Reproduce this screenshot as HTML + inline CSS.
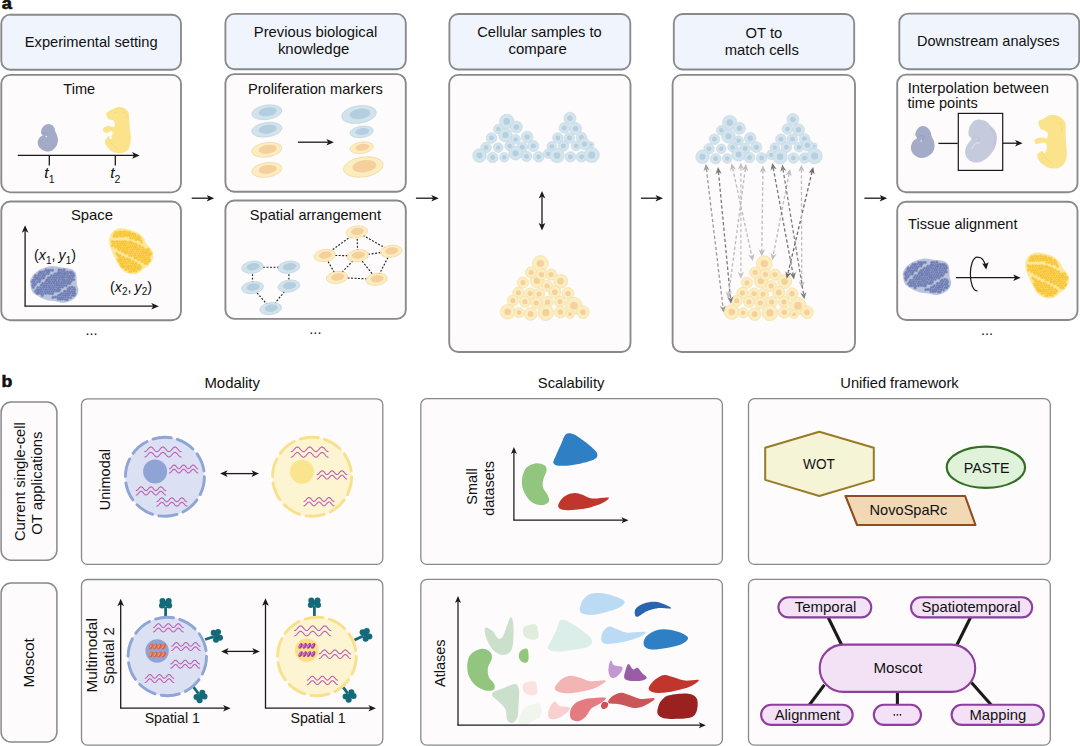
<!DOCTYPE html>
<html><head><meta charset="utf-8"><title>Figure</title>
<style>
html,body{margin:0;padding:0;background:#ffffff;}
body{width:1080px;height:746px;overflow:hidden;font-family:"Liberation Sans",sans-serif;}
svg{display:block;}
svg text{font-family:"Liberation Sans",sans-serif;fill:#111;}
</style></head><body>
<svg width="1080" height="746" viewBox="0 0 1080 746">
<defs>
<pattern id="pb" width="3.2" height="3.2" patternUnits="userSpaceOnUse" patternTransform="rotate(20)"><rect width="3.2" height="3.2" fill="#8b98c2"/><circle cx="1.6" cy="1.6" r="1.25" fill="#6373ab"/></pattern>
<pattern id="py" width="3.2" height="3.2" patternUnits="userSpaceOnUse" patternTransform="rotate(20)"><rect width="3.2" height="3.2" fill="#f9d670"/><circle cx="1.6" cy="1.6" r="1.25" fill="#f4bd2c"/></pattern>
</defs>
<rect width="1080" height="746" fill="#ffffff"/>

<text x="1.7" y="8.7" font-size="16.6" font-weight="bold" stroke="#111" stroke-width="0.6" textLength="10.2" lengthAdjust="spacingAndGlyphs">a</text>
<text x="1.6" y="386.5" font-size="16.6" font-weight="bold" stroke="#111" stroke-width="0.6" textLength="10.8" lengthAdjust="spacingAndGlyphs">b</text>
<rect x="1.3" y="14.7" width="179.7" height="55.1" rx="9" ry="9" fill="#f0f4fc" stroke="#87898b" stroke-width="1.85"/>
<rect x="225.4" y="13.9" width="180.4" height="55.3" rx="9" ry="9" fill="#f0f4fc" stroke="#87898b" stroke-width="1.85"/>
<rect x="449.4" y="14.0" width="180.9" height="55.5" rx="9" ry="9" fill="#f0f4fc" stroke="#87898b" stroke-width="1.85"/>
<rect x="673.8" y="14.0" width="180.4" height="55.5" rx="9" ry="9" fill="#f0f4fc" stroke="#87898b" stroke-width="1.85"/>
<rect x="899.3" y="13.6" width="179.9" height="55.6" rx="9" ry="9" fill="#f0f4fc" stroke="#87898b" stroke-width="1.85"/>
<rect x="1.3" y="74.8" width="179.7" height="117.5" rx="9" ry="9" fill="#fdfbfb" stroke="#87898b" stroke-width="1.85"/>
<rect x="1.3" y="201.5" width="179.7" height="118.7" rx="9" ry="9" fill="#fdfbfb" stroke="#87898b" stroke-width="1.85"/>
<rect x="225.4" y="74.1" width="180.4" height="117.7" rx="9" ry="9" fill="#fdfbfb" stroke="#87898b" stroke-width="1.85"/>
<rect x="225.4" y="200.5" width="180.4" height="118.3" rx="9" ry="9" fill="#fdfbfb" stroke="#87898b" stroke-width="1.85"/>
<rect x="449.2" y="74.9" width="181.3" height="277.1" rx="9" ry="9" fill="#fdfbfb" stroke="#87898b" stroke-width="1.85"/>
<rect x="672.6" y="74.9" width="182.4" height="277.1" rx="9" ry="9" fill="#fdfbfb" stroke="#87898b" stroke-width="1.85"/>
<rect x="897.2" y="74.6" width="180.3" height="117.7" rx="9" ry="9" fill="#fdfbfb" stroke="#87898b" stroke-width="1.85"/>
<rect x="897.2" y="201.7" width="180.3" height="118.3" rx="9" ry="9" fill="#fdfbfb" stroke="#87898b" stroke-width="1.85"/>
<text x="91.2" y="47.3" text-anchor="middle" font-size="14.5" textLength="132.8" lengthAdjust="spacingAndGlyphs" >Experimental setting</text>
<text x="315.5" y="37.2" text-anchor="middle" font-size="14.5" textLength="123.5" lengthAdjust="spacingAndGlyphs" >Previous biological</text>
<text x="313.6" y="53.8" text-anchor="middle" font-size="14.5" textLength="71.4" lengthAdjust="spacingAndGlyphs" >knowledge</text>
<text x="539.5" y="37.4" text-anchor="middle" font-size="14.5" textLength="124.4" lengthAdjust="spacingAndGlyphs" >Cellular samples to</text>
<text x="537.6" y="53.8" text-anchor="middle" font-size="14.5" textLength="58.3" lengthAdjust="spacingAndGlyphs" >compare</text>
<text x="763.9" y="37.7" text-anchor="middle" font-size="14.5" textLength="36.7" lengthAdjust="spacingAndGlyphs" >OT to</text>
<text x="761.8" y="54.7" text-anchor="middle" font-size="14.5" textLength="74.0" lengthAdjust="spacingAndGlyphs" >match cells</text>
<text x="988.3" y="46.2" text-anchor="middle" font-size="14.5" textLength="142.5" lengthAdjust="spacingAndGlyphs" >Downstream analyses</text>
<line x1="191.70" y1="198.20" x2="208.95" y2="198.20" stroke="#1a1a1a" stroke-width="1.3"/>
<path d="M214.20,198.20 L206.70,201.50 L208.57,198.20 L206.70,194.90 Z" fill="#1a1a1a"/>
<line x1="415.90" y1="198.20" x2="433.55" y2="198.20" stroke="#1a1a1a" stroke-width="1.3"/>
<path d="M438.80,198.20 L431.30,201.50 L433.18,198.20 L431.30,194.90 Z" fill="#1a1a1a"/>
<line x1="640.90" y1="198.20" x2="657.75" y2="198.20" stroke="#1a1a1a" stroke-width="1.3"/>
<path d="M663.00,198.20 L655.50,201.50 L657.38,198.20 L655.50,194.90 Z" fill="#1a1a1a"/>
<line x1="864.40" y1="198.20" x2="881.95" y2="198.20" stroke="#1a1a1a" stroke-width="1.3"/>
<path d="M887.20,198.20 L879.70,201.50 L881.58,198.20 L879.70,194.90 Z" fill="#1a1a1a"/>
<text x="79.2" y="93.8" text-anchor="middle" font-size="14.5" textLength="31.8" lengthAdjust="spacingAndGlyphs" >Time</text>
<line x1="17.80" y1="155.40" x2="134.35" y2="155.40" stroke="#1a1a1a" stroke-width="1.3"/>
<path d="M139.60,155.40 L132.10,158.70 L133.97,155.40 L132.10,152.10 Z" fill="#1a1a1a"/>
<line x1="49.3" y1="155.4" x2="49.3" y2="165.6" stroke="#1a1a1a" stroke-width="1.3"/>
<line x1="115.3" y1="155.4" x2="115.3" y2="165.6" stroke="#1a1a1a" stroke-width="1.3"/>
<text x="49.4" y="178.4" font-size="15.5" text-anchor="middle"><tspan font-style="italic">t</tspan><tspan font-size="10.5" dy="4.2">1</tspan></text>
<text x="115.3" y="178.4" font-size="15.5" text-anchor="middle"><tspan font-style="italic">t</tspan><tspan font-size="10.5" dy="4.2">2</tspan></text>
<path d="M48.33,123.94 C49.61,123.85 50.88,124.28 51.90,124.95 C52.92,125.63 53.88,126.91 54.44,128.01 C55.01,129.11 54.84,130.39 55.26,131.57 C55.68,132.76 56.53,133.70 56.99,135.14 C57.45,136.58 58.09,138.45 58.01,140.23 C57.92,142.01 57.33,144.22 56.48,145.83 C55.63,147.45 54.36,148.97 52.92,149.91 C51.47,150.84 49.61,151.44 47.82,151.44 C46.04,151.44 43.75,150.76 42.22,149.91 C40.69,149.06 39.42,147.62 38.66,146.34 C37.89,145.07 37.64,143.54 37.64,142.27 C37.64,141.00 38.06,139.72 38.66,138.70 C39.25,137.69 40.52,136.75 41.20,136.16 C41.88,135.56 42.77,135.65 42.73,135.14 C42.70,134.63 41.17,134.12 41.00,133.10 C40.83,132.08 41.17,130.30 41.71,129.03 C42.26,127.76 43.16,126.31 44.26,125.46 C45.36,124.61 47.06,124.02 48.33,123.94 Z" fill="#a4abc9" />
<path d="M119.63,106.93 C121.41,107.01 123.71,107.61 125.23,108.66 C126.76,109.71 128.12,111.29 128.80,113.24 C129.48,115.19 129.14,117.82 129.31,120.37 C129.48,122.92 129.56,125.80 129.82,128.52 C130.07,131.24 130.75,134.12 130.84,136.67 C130.92,139.21 130.84,141.59 130.33,143.80 C129.82,146.00 129.22,148.35 127.78,149.91 C126.34,151.47 123.88,152.74 121.67,153.17 C119.46,153.59 116.58,153.08 114.54,152.45 C112.50,151.83 110.89,150.67 109.45,149.40 C108.00,148.13 106.61,146.34 105.88,144.82 C105.15,143.29 104.81,141.42 105.07,140.23 C105.32,139.04 106.76,138.36 107.41,137.69 C108.05,137.01 108.43,135.82 108.94,136.16 C109.45,136.50 109.87,139.81 110.46,139.72 C111.06,139.64 111.96,136.87 112.50,135.65 C113.04,134.43 113.98,133.15 113.72,132.39 C113.47,131.63 111.94,131.00 110.97,131.07 C110.01,131.13 108.94,132.54 107.92,132.80 C106.90,133.05 105.69,133.05 104.86,132.59 C104.03,132.13 103.01,130.93 102.93,130.05 C102.84,129.16 103.35,127.96 104.35,127.30 C105.35,126.63 107.31,126.11 108.94,126.07 C110.57,126.04 113.20,127.53 114.13,127.09 C115.06,126.65 114.73,124.55 114.54,123.43 C114.35,122.31 113.94,121.05 113.01,120.37 C112.08,119.69 109.96,120.03 108.94,119.35 C107.92,118.67 107.36,117.32 106.90,116.30 C106.44,115.28 105.59,114.26 106.19,113.24 C106.78,112.22 109.07,111.03 110.46,110.19 C111.86,109.34 113.01,108.69 114.54,108.15 C116.07,107.61 117.85,106.84 119.63,106.93 Z" fill="#fbe38c" />
<path d="M42.02,134.63 C42.48,134.32 43.75,133.00 44.77,132.80 C45.79,132.59 47.67,132.90 48.13,133.41 C48.59,133.92 47.62,135.45 47.52,135.85" fill="none" stroke="#949bbd" stroke-width="0.7" stroke-linecap="round"/>
<path d="M39.68,140.74 C39.93,141.42 40.27,143.63 41.20,144.82 C42.14,146.00 44.60,147.36 45.28,147.87" fill="none" stroke="#989fc0" stroke-width="0.6" stroke-linecap="round"/>
<circle cx="46.4" cy="136.5" r="0.75" fill="#f4f4f8"/>
<path d="M123.20,112.22 C123.79,112.56 126.25,113.24 126.76,114.26 C127.27,115.28 126.34,117.65 126.25,118.33" fill="none" stroke="#f2d672" stroke-width="0.7" stroke-linecap="round"/>
<path d="M107.92,137.18 C108.51,138.20 110.04,141.51 111.48,143.29 C112.93,145.07 115.73,147.11 116.58,147.87" fill="none" stroke="#f2d672" stroke-width="0.7" stroke-linecap="round"/>
<path d="M111.48,128.52 C111.74,129.20 113.01,131.24 113.01,132.59 C113.01,133.95 111.74,135.99 111.48,136.67" fill="none" stroke="#f2d672" stroke-width="0.6" stroke-linecap="round"/>
<circle cx="115.4" cy="112.4" r="0.6" fill="#f0d167"/>
<text x="92.0" y="220.2" text-anchor="middle" font-size="14.5" textLength="42.1" lengthAdjust="spacingAndGlyphs" >Space</text>
<line x1="25.10" y1="306.20" x2="25.10" y2="230.45" stroke="#1a1a1a" stroke-width="1.3"/>
<path d="M25.10,225.20 L28.40,232.70 L25.10,230.82 L21.80,232.70 Z" fill="#1a1a1a"/>
<line x1="24.50" y1="306.20" x2="153.55" y2="306.20" stroke="#1a1a1a" stroke-width="1.3"/>
<path d="M158.80,306.20 L151.30,309.50 L153.18,306.20 L151.30,302.90 Z" fill="#1a1a1a"/>
<text x="55" y="260.2" font-size="14.2" text-anchor="middle" word-spacing="-0.8">(<tspan font-style="italic">x</tspan><tspan font-size="10" dy="3.5">1</tspan><tspan dy="-3.5">, </tspan><tspan font-style="italic">y</tspan><tspan font-size="10" dy="3.5">1</tspan><tspan dy="-3.5">)</tspan></text>
<text x="131" y="291.7" font-size="14.2" text-anchor="middle" word-spacing="-0.8">(<tspan font-style="italic">x</tspan><tspan font-size="10" dy="3.5">2</tspan><tspan dy="-3.5">, </tspan><tspan font-style="italic">y</tspan><tspan font-size="10" dy="3.5">2</tspan><tspan dy="-3.5">)</tspan></text>
<defs><g id="tisB"><path d="M30.15,282.54 C30.04,280.18 30.47,279.10 31.44,277.39 C32.41,275.67 34.01,273.74 35.95,272.23 C37.88,270.73 40.35,269.39 43.03,268.37 C45.71,267.35 49.04,266.28 52.04,266.12 C55.05,265.96 58.05,266.98 61.06,267.41 C64.06,267.83 67.71,267.94 70.07,268.69 C72.44,269.44 74.15,270.36 75.23,271.91 C76.30,273.47 76.24,275.94 76.51,278.03 C76.78,280.12 76.51,282.43 76.84,284.47 C77.16,286.51 78.50,288.33 78.44,290.26 C78.39,292.20 77.69,294.34 76.51,296.06 C75.33,297.78 73.51,299.44 71.36,300.57 C69.22,301.69 66.21,302.71 63.63,302.82 C61.06,302.93 58.81,301.69 55.91,301.21 C53.01,300.73 49.25,300.78 46.25,299.92 C43.24,299.06 40.24,297.45 37.88,296.06 C35.52,294.66 33.37,293.81 32.08,291.55 C30.80,289.30 30.26,284.90 30.15,282.54 Z" fill="#b9c4dd"/><circle cx="46.0" cy="270.1" r="1.74" fill="#909cc6"/><circle cx="48.2" cy="270.3" r="1.73" fill="#909cc6"/><circle cx="50.3" cy="270.2" r="1.66" fill="#909cc6"/><circle cx="52.5" cy="270.3" r="1.73" fill="#909cc6"/><circle cx="59.1" cy="270.1" r="1.76" fill="#909cc6"/><circle cx="61.3" cy="270.1" r="1.72" fill="#909cc6"/><circle cx="64.0" cy="269.9" r="1.78" fill="#909cc6"/><circle cx="40.1" cy="272.2" r="1.66" fill="#909cc6"/><circle cx="42.3" cy="271.9" r="1.77" fill="#909cc6"/><circle cx="44.5" cy="271.8" r="1.68" fill="#909cc6"/><circle cx="47.2" cy="271.9" r="1.81" fill="#909cc6"/><circle cx="49.0" cy="271.8" r="1.76" fill="#909cc6"/><circle cx="58.5" cy="272.2" r="1.65" fill="#909cc6"/><circle cx="60.4" cy="272.2" r="1.76" fill="#909cc6"/><circle cx="63.0" cy="271.8" r="1.63" fill="#909cc6"/><circle cx="64.9" cy="272.2" r="1.67" fill="#909cc6"/><circle cx="67.2" cy="271.9" r="1.70" fill="#909cc6"/><circle cx="69.4" cy="272.2" r="1.64" fill="#909cc6"/><circle cx="71.4" cy="272.3" r="1.82" fill="#909cc6"/><circle cx="38.8" cy="274.0" r="1.67" fill="#909cc6"/><circle cx="41.6" cy="273.6" r="1.83" fill="#909cc6"/><circle cx="43.8" cy="274.2" r="1.82" fill="#909cc6"/><circle cx="46.2" cy="274.0" r="1.60" fill="#909cc6"/><circle cx="48.3" cy="273.7" r="1.67" fill="#909cc6"/><circle cx="55.0" cy="273.8" r="1.66" fill="#909cc6"/><circle cx="57.4" cy="273.9" r="1.80" fill="#909cc6"/><circle cx="59.3" cy="273.7" r="1.73" fill="#909cc6"/><circle cx="61.9" cy="273.7" r="1.80" fill="#909cc6"/><circle cx="64.2" cy="274.1" r="1.81" fill="#909cc6"/><circle cx="65.8" cy="274.0" r="1.82" fill="#909cc6"/><circle cx="68.1" cy="273.7" r="1.67" fill="#909cc6"/><circle cx="70.7" cy="273.8" r="1.72" fill="#909cc6"/><circle cx="73.1" cy="273.6" r="1.61" fill="#909cc6"/><circle cx="35.6" cy="275.7" r="1.76" fill="#909cc6"/><circle cx="38.1" cy="275.8" r="1.65" fill="#909cc6"/><circle cx="40.1" cy="275.6" r="1.74" fill="#909cc6"/><circle cx="42.7" cy="275.8" r="1.62" fill="#909cc6"/><circle cx="44.5" cy="275.8" r="1.75" fill="#909cc6"/><circle cx="51.5" cy="275.8" r="1.72" fill="#909cc6"/><circle cx="53.9" cy="275.8" r="1.77" fill="#909cc6"/><circle cx="56.0" cy="275.7" r="1.73" fill="#909cc6"/><circle cx="58.4" cy="275.6" r="1.71" fill="#909cc6"/><circle cx="60.5" cy="276.1" r="1.83" fill="#909cc6"/><circle cx="62.7" cy="276.1" r="1.80" fill="#909cc6"/><circle cx="64.8" cy="275.8" r="1.63" fill="#909cc6"/><circle cx="67.5" cy="276.0" r="1.82" fill="#909cc6"/><circle cx="69.7" cy="276.0" r="1.78" fill="#909cc6"/><circle cx="71.8" cy="275.6" r="1.75" fill="#909cc6"/><circle cx="73.7" cy="275.6" r="1.79" fill="#909cc6"/><circle cx="34.9" cy="277.5" r="1.81" fill="#909cc6"/><circle cx="37.0" cy="278.0" r="1.84" fill="#909cc6"/><circle cx="39.2" cy="278.0" r="1.61" fill="#909cc6"/><circle cx="41.6" cy="277.8" r="1.78" fill="#909cc6"/><circle cx="43.4" cy="278.0" r="1.83" fill="#909cc6"/><circle cx="48.2" cy="278.0" r="1.66" fill="#909cc6"/><circle cx="50.2" cy="277.6" r="1.75" fill="#909cc6"/><circle cx="52.8" cy="277.7" r="1.69" fill="#909cc6"/><circle cx="54.8" cy="277.7" r="1.70" fill="#909cc6"/><circle cx="56.8" cy="277.8" r="1.84" fill="#909cc6"/><circle cx="59.3" cy="278.0" r="1.64" fill="#909cc6"/><circle cx="61.8" cy="278.0" r="1.77" fill="#909cc6"/><circle cx="63.9" cy="277.8" r="1.76" fill="#909cc6"/><circle cx="66.4" cy="277.6" r="1.62" fill="#909cc6"/><circle cx="68.6" cy="278.1" r="1.73" fill="#909cc6"/><circle cx="70.6" cy="278.0" r="1.65" fill="#909cc6"/><circle cx="72.7" cy="277.6" r="1.75" fill="#909cc6"/><circle cx="33.5" cy="280.0" r="1.75" fill="#909cc6"/><circle cx="35.6" cy="279.6" r="1.61" fill="#909cc6"/><circle cx="38.0" cy="279.7" r="1.64" fill="#909cc6"/><circle cx="40.2" cy="279.6" r="1.79" fill="#909cc6"/><circle cx="47.0" cy="280.0" r="1.81" fill="#909cc6"/><circle cx="49.3" cy="279.7" r="1.78" fill="#909cc6"/><circle cx="51.8" cy="279.7" r="1.78" fill="#909cc6"/><circle cx="54.1" cy="279.7" r="1.66" fill="#909cc6"/><circle cx="55.8" cy="279.9" r="1.77" fill="#909cc6"/><circle cx="58.6" cy="280.0" r="1.66" fill="#909cc6"/><circle cx="60.3" cy="279.6" r="1.65" fill="#909cc6"/><circle cx="62.9" cy="280.0" r="1.82" fill="#909cc6"/><circle cx="64.8" cy="280.0" r="1.68" fill="#909cc6"/><circle cx="67.2" cy="279.9" r="1.62" fill="#909cc6"/><circle cx="69.2" cy="280.0" r="1.67" fill="#909cc6"/><circle cx="71.7" cy="279.8" r="1.77" fill="#909cc6"/><circle cx="73.7" cy="279.6" r="1.71" fill="#909cc6"/><circle cx="32.3" cy="281.7" r="1.63" fill="#909cc6"/><circle cx="34.5" cy="281.8" r="1.63" fill="#909cc6"/><circle cx="37.2" cy="282.0" r="1.62" fill="#909cc6"/><circle cx="39.4" cy="281.6" r="1.79" fill="#909cc6"/><circle cx="46.1" cy="281.5" r="1.79" fill="#909cc6"/><circle cx="48.5" cy="281.8" r="1.73" fill="#909cc6"/><circle cx="50.1" cy="281.7" r="1.69" fill="#909cc6"/><circle cx="52.8" cy="281.8" r="1.74" fill="#909cc6"/><circle cx="54.7" cy="281.8" r="1.76" fill="#909cc6"/><circle cx="56.9" cy="282.0" r="1.76" fill="#909cc6"/><circle cx="59.1" cy="282.0" r="1.64" fill="#909cc6"/><circle cx="61.5" cy="281.9" r="1.75" fill="#909cc6"/><circle cx="63.9" cy="281.8" r="1.71" fill="#909cc6"/><circle cx="66.0" cy="281.5" r="1.62" fill="#909cc6"/><circle cx="68.5" cy="281.9" r="1.74" fill="#909cc6"/><circle cx="70.8" cy="281.6" r="1.67" fill="#909cc6"/><circle cx="33.4" cy="283.7" r="1.79" fill="#909cc6"/><circle cx="35.7" cy="283.9" r="1.63" fill="#909cc6"/><circle cx="42.7" cy="283.4" r="1.65" fill="#909cc6"/><circle cx="44.7" cy="283.8" r="1.80" fill="#909cc6"/><circle cx="47.2" cy="283.7" r="1.64" fill="#909cc6"/><circle cx="49.2" cy="283.4" r="1.73" fill="#909cc6"/><circle cx="51.6" cy="283.4" r="1.66" fill="#909cc6"/><circle cx="54.0" cy="283.3" r="1.80" fill="#909cc6"/><circle cx="56.3" cy="284.0" r="1.70" fill="#909cc6"/><circle cx="58.3" cy="283.7" r="1.76" fill="#909cc6"/><circle cx="60.8" cy="283.8" r="1.67" fill="#909cc6"/><circle cx="63.0" cy="283.6" r="1.75" fill="#909cc6"/><circle cx="65.2" cy="283.3" r="1.79" fill="#909cc6"/><circle cx="67.4" cy="283.6" r="1.73" fill="#909cc6"/><circle cx="69.5" cy="283.4" r="1.73" fill="#909cc6"/><circle cx="32.6" cy="285.7" r="1.61" fill="#909cc6"/><circle cx="34.5" cy="285.4" r="1.62" fill="#909cc6"/><circle cx="41.5" cy="285.3" r="1.81" fill="#909cc6"/><circle cx="43.7" cy="285.9" r="1.78" fill="#909cc6"/><circle cx="46.1" cy="285.5" r="1.80" fill="#909cc6"/><circle cx="48.4" cy="285.8" r="1.71" fill="#909cc6"/><circle cx="50.6" cy="285.6" r="1.63" fill="#909cc6"/><circle cx="52.3" cy="285.3" r="1.65" fill="#909cc6"/><circle cx="54.6" cy="285.6" r="1.77" fill="#909cc6"/><circle cx="57.2" cy="285.5" r="1.76" fill="#909cc6"/><circle cx="59.2" cy="285.6" r="1.79" fill="#909cc6"/><circle cx="61.6" cy="285.4" r="1.82" fill="#909cc6"/><circle cx="64.0" cy="285.5" r="1.69" fill="#909cc6"/><circle cx="66.2" cy="285.7" r="1.66" fill="#909cc6"/><circle cx="33.3" cy="287.5" r="1.61" fill="#909cc6"/><circle cx="37.9" cy="287.7" r="1.61" fill="#909cc6"/><circle cx="40.2" cy="287.5" r="1.61" fill="#909cc6"/><circle cx="42.8" cy="287.3" r="1.62" fill="#909cc6"/><circle cx="44.7" cy="287.3" r="1.76" fill="#909cc6"/><circle cx="46.9" cy="287.3" r="1.61" fill="#909cc6"/><circle cx="49.4" cy="287.4" r="1.80" fill="#909cc6"/><circle cx="51.5" cy="287.8" r="1.68" fill="#909cc6"/><circle cx="53.6" cy="287.4" r="1.80" fill="#909cc6"/><circle cx="56.1" cy="287.4" r="1.62" fill="#909cc6"/><circle cx="58.4" cy="287.9" r="1.75" fill="#909cc6"/><circle cx="60.2" cy="287.2" r="1.62" fill="#909cc6"/><circle cx="62.5" cy="287.2" r="1.61" fill="#909cc6"/><circle cx="69.5" cy="287.8" r="1.83" fill="#909cc6"/><circle cx="72.1" cy="287.2" r="1.68" fill="#909cc6"/><circle cx="74.1" cy="287.9" r="1.62" fill="#909cc6"/><circle cx="37.1" cy="289.7" r="1.81" fill="#909cc6"/><circle cx="39.2" cy="289.8" r="1.69" fill="#909cc6"/><circle cx="41.3" cy="289.3" r="1.79" fill="#909cc6"/><circle cx="43.6" cy="289.3" r="1.64" fill="#909cc6"/><circle cx="46.0" cy="289.6" r="1.78" fill="#909cc6"/><circle cx="48.1" cy="289.5" r="1.64" fill="#909cc6"/><circle cx="50.5" cy="289.2" r="1.72" fill="#909cc6"/><circle cx="52.8" cy="289.6" r="1.62" fill="#909cc6"/><circle cx="54.7" cy="289.7" r="1.76" fill="#909cc6"/><circle cx="57.4" cy="289.8" r="1.71" fill="#909cc6"/><circle cx="59.7" cy="289.7" r="1.68" fill="#909cc6"/><circle cx="68.1" cy="289.2" r="1.76" fill="#909cc6"/><circle cx="70.5" cy="289.2" r="1.64" fill="#909cc6"/><circle cx="73.0" cy="289.6" r="1.60" fill="#909cc6"/><circle cx="74.9" cy="289.8" r="1.66" fill="#909cc6"/><circle cx="35.5" cy="291.2" r="1.62" fill="#909cc6"/><circle cx="38.2" cy="291.2" r="1.61" fill="#909cc6"/><circle cx="40.6" cy="291.2" r="1.82" fill="#909cc6"/><circle cx="42.2" cy="291.4" r="1.66" fill="#909cc6"/><circle cx="45.0" cy="291.5" r="1.76" fill="#909cc6"/><circle cx="47.2" cy="291.7" r="1.69" fill="#909cc6"/><circle cx="49.3" cy="291.4" r="1.63" fill="#909cc6"/><circle cx="51.7" cy="291.5" r="1.80" fill="#909cc6"/><circle cx="53.6" cy="291.5" r="1.72" fill="#909cc6"/><circle cx="56.2" cy="291.1" r="1.69" fill="#909cc6"/><circle cx="58.3" cy="291.1" r="1.74" fill="#909cc6"/><circle cx="64.8" cy="291.3" r="1.85" fill="#909cc6"/><circle cx="67.1" cy="291.4" r="1.62" fill="#909cc6"/><circle cx="69.3" cy="291.2" r="1.83" fill="#909cc6"/><circle cx="71.9" cy="291.7" r="1.85" fill="#909cc6"/><circle cx="74.1" cy="291.7" r="1.73" fill="#909cc6"/><circle cx="37.2" cy="293.2" r="1.83" fill="#909cc6"/><circle cx="38.9" cy="293.1" r="1.78" fill="#909cc6"/><circle cx="41.2" cy="293.4" r="1.76" fill="#909cc6"/><circle cx="43.3" cy="293.6" r="1.67" fill="#909cc6"/><circle cx="45.8" cy="293.3" r="1.79" fill="#909cc6"/><circle cx="48.3" cy="293.2" r="1.63" fill="#909cc6"/><circle cx="50.2" cy="293.3" r="1.62" fill="#909cc6"/><circle cx="52.4" cy="293.6" r="1.78" fill="#909cc6"/><circle cx="61.6" cy="293.4" r="1.74" fill="#909cc6"/><circle cx="63.8" cy="293.6" r="1.67" fill="#909cc6"/><circle cx="66.1" cy="293.7" r="1.80" fill="#909cc6"/><circle cx="68.2" cy="293.2" r="1.80" fill="#909cc6"/><circle cx="70.3" cy="293.1" r="1.73" fill="#909cc6"/><circle cx="72.9" cy="293.2" r="1.61" fill="#909cc6"/><circle cx="74.9" cy="293.6" r="1.72" fill="#909cc6"/><circle cx="42.3" cy="295.5" r="1.70" fill="#909cc6"/><circle cx="58.5" cy="295.4" r="1.67" fill="#909cc6"/><circle cx="60.3" cy="295.0" r="1.76" fill="#909cc6"/><circle cx="63.0" cy="295.6" r="1.72" fill="#909cc6"/><circle cx="65.1" cy="295.6" r="1.80" fill="#909cc6"/><circle cx="67.3" cy="295.3" r="1.73" fill="#909cc6"/><circle cx="69.3" cy="295.1" r="1.77" fill="#909cc6"/><circle cx="72.1" cy="295.4" r="1.70" fill="#909cc6"/><circle cx="73.9" cy="295.3" r="1.80" fill="#909cc6"/><circle cx="53.0" cy="297.4" r="1.65" fill="#909cc6"/><circle cx="55.2" cy="297.1" r="1.70" fill="#909cc6"/><circle cx="57.4" cy="297.2" r="1.67" fill="#909cc6"/><circle cx="59.7" cy="297.6" r="1.68" fill="#909cc6"/><circle cx="61.6" cy="297.1" r="1.63" fill="#909cc6"/><circle cx="63.7" cy="297.6" r="1.62" fill="#909cc6"/><circle cx="65.9" cy="297.1" r="1.62" fill="#909cc6"/><circle cx="68.4" cy="297.5" r="1.81" fill="#909cc6"/><circle cx="70.7" cy="297.5" r="1.60" fill="#909cc6"/><circle cx="58.1" cy="299.0" r="1.64" fill="#909cc6"/><circle cx="60.3" cy="299.1" r="1.83" fill="#909cc6"/><circle cx="62.5" cy="299.0" r="1.83" fill="#909cc6"/><circle cx="65.4" cy="299.6" r="1.66" fill="#909cc6"/><circle cx="67.2" cy="299.5" r="1.72" fill="#909cc6"/><circle cx="46.0" cy="270.1" r="0.99" fill="#6b7ab0"/><circle cx="48.2" cy="270.3" r="0.98" fill="#6b7ab0"/><circle cx="50.3" cy="270.2" r="0.91" fill="#6b7ab0"/><circle cx="52.5" cy="270.3" r="0.98" fill="#6b7ab0"/><circle cx="59.1" cy="270.1" r="1.01" fill="#6b7ab0"/><circle cx="61.3" cy="270.1" r="0.97" fill="#6b7ab0"/><circle cx="64.0" cy="269.9" r="1.03" fill="#6b7ab0"/><circle cx="40.1" cy="272.2" r="0.91" fill="#6b7ab0"/><circle cx="42.3" cy="271.9" r="1.02" fill="#6b7ab0"/><circle cx="44.5" cy="271.8" r="0.93" fill="#6b7ab0"/><circle cx="47.2" cy="271.9" r="1.06" fill="#6b7ab0"/><circle cx="49.0" cy="271.8" r="1.01" fill="#6b7ab0"/><circle cx="58.5" cy="272.2" r="0.90" fill="#6b7ab0"/><circle cx="60.4" cy="272.2" r="1.01" fill="#6b7ab0"/><circle cx="63.0" cy="271.8" r="0.88" fill="#6b7ab0"/><circle cx="64.9" cy="272.2" r="0.92" fill="#6b7ab0"/><circle cx="67.2" cy="271.9" r="0.95" fill="#6b7ab0"/><circle cx="69.4" cy="272.2" r="0.89" fill="#6b7ab0"/><circle cx="71.4" cy="272.3" r="1.07" fill="#6b7ab0"/><circle cx="38.8" cy="274.0" r="0.92" fill="#6b7ab0"/><circle cx="41.6" cy="273.6" r="1.08" fill="#6b7ab0"/><circle cx="43.8" cy="274.2" r="1.07" fill="#6b7ab0"/><circle cx="46.2" cy="274.0" r="0.85" fill="#6b7ab0"/><circle cx="48.3" cy="273.7" r="0.92" fill="#6b7ab0"/><circle cx="55.0" cy="273.8" r="0.91" fill="#6b7ab0"/><circle cx="57.4" cy="273.9" r="1.05" fill="#6b7ab0"/><circle cx="59.3" cy="273.7" r="0.98" fill="#6b7ab0"/><circle cx="61.9" cy="273.7" r="1.05" fill="#6b7ab0"/><circle cx="64.2" cy="274.1" r="1.06" fill="#6b7ab0"/><circle cx="65.8" cy="274.0" r="1.07" fill="#6b7ab0"/><circle cx="68.1" cy="273.7" r="0.92" fill="#6b7ab0"/><circle cx="70.7" cy="273.8" r="0.97" fill="#6b7ab0"/><circle cx="73.1" cy="273.6" r="0.86" fill="#6b7ab0"/><circle cx="35.6" cy="275.7" r="1.01" fill="#6b7ab0"/><circle cx="38.1" cy="275.8" r="0.90" fill="#6b7ab0"/><circle cx="40.1" cy="275.6" r="0.99" fill="#6b7ab0"/><circle cx="42.7" cy="275.8" r="0.87" fill="#6b7ab0"/><circle cx="44.5" cy="275.8" r="1.00" fill="#6b7ab0"/><circle cx="51.5" cy="275.8" r="0.97" fill="#6b7ab0"/><circle cx="53.9" cy="275.8" r="1.02" fill="#6b7ab0"/><circle cx="56.0" cy="275.7" r="0.98" fill="#6b7ab0"/><circle cx="58.4" cy="275.6" r="0.96" fill="#6b7ab0"/><circle cx="60.5" cy="276.1" r="1.08" fill="#6b7ab0"/><circle cx="62.7" cy="276.1" r="1.05" fill="#6b7ab0"/><circle cx="64.8" cy="275.8" r="0.88" fill="#6b7ab0"/><circle cx="67.5" cy="276.0" r="1.07" fill="#6b7ab0"/><circle cx="69.7" cy="276.0" r="1.03" fill="#6b7ab0"/><circle cx="71.8" cy="275.6" r="1.00" fill="#6b7ab0"/><circle cx="73.7" cy="275.6" r="1.04" fill="#6b7ab0"/><circle cx="34.9" cy="277.5" r="1.06" fill="#6b7ab0"/><circle cx="37.0" cy="278.0" r="1.09" fill="#6b7ab0"/><circle cx="39.2" cy="278.0" r="0.86" fill="#6b7ab0"/><circle cx="41.6" cy="277.8" r="1.03" fill="#6b7ab0"/><circle cx="43.4" cy="278.0" r="1.08" fill="#6b7ab0"/><circle cx="48.2" cy="278.0" r="0.91" fill="#6b7ab0"/><circle cx="50.2" cy="277.6" r="1.00" fill="#6b7ab0"/><circle cx="52.8" cy="277.7" r="0.94" fill="#6b7ab0"/><circle cx="54.8" cy="277.7" r="0.95" fill="#6b7ab0"/><circle cx="56.8" cy="277.8" r="1.09" fill="#6b7ab0"/><circle cx="59.3" cy="278.0" r="0.89" fill="#6b7ab0"/><circle cx="61.8" cy="278.0" r="1.02" fill="#6b7ab0"/><circle cx="63.9" cy="277.8" r="1.01" fill="#6b7ab0"/><circle cx="66.4" cy="277.6" r="0.87" fill="#6b7ab0"/><circle cx="68.6" cy="278.1" r="0.98" fill="#6b7ab0"/><circle cx="70.6" cy="278.0" r="0.90" fill="#6b7ab0"/><circle cx="72.7" cy="277.6" r="1.00" fill="#6b7ab0"/><circle cx="33.5" cy="280.0" r="1.00" fill="#6b7ab0"/><circle cx="35.6" cy="279.6" r="0.86" fill="#6b7ab0"/><circle cx="38.0" cy="279.7" r="0.89" fill="#6b7ab0"/><circle cx="40.2" cy="279.6" r="1.04" fill="#6b7ab0"/><circle cx="47.0" cy="280.0" r="1.06" fill="#6b7ab0"/><circle cx="49.3" cy="279.7" r="1.03" fill="#6b7ab0"/><circle cx="51.8" cy="279.7" r="1.03" fill="#6b7ab0"/><circle cx="54.1" cy="279.7" r="0.91" fill="#6b7ab0"/><circle cx="55.8" cy="279.9" r="1.02" fill="#6b7ab0"/><circle cx="58.6" cy="280.0" r="0.91" fill="#6b7ab0"/><circle cx="60.3" cy="279.6" r="0.90" fill="#6b7ab0"/><circle cx="62.9" cy="280.0" r="1.07" fill="#6b7ab0"/><circle cx="64.8" cy="280.0" r="0.93" fill="#6b7ab0"/><circle cx="67.2" cy="279.9" r="0.87" fill="#6b7ab0"/><circle cx="69.2" cy="280.0" r="0.92" fill="#6b7ab0"/><circle cx="71.7" cy="279.8" r="1.02" fill="#6b7ab0"/><circle cx="73.7" cy="279.6" r="0.96" fill="#6b7ab0"/><circle cx="32.3" cy="281.7" r="0.88" fill="#6b7ab0"/><circle cx="34.5" cy="281.8" r="0.88" fill="#6b7ab0"/><circle cx="37.2" cy="282.0" r="0.87" fill="#6b7ab0"/><circle cx="39.4" cy="281.6" r="1.04" fill="#6b7ab0"/><circle cx="46.1" cy="281.5" r="1.04" fill="#6b7ab0"/><circle cx="48.5" cy="281.8" r="0.98" fill="#6b7ab0"/><circle cx="50.1" cy="281.7" r="0.94" fill="#6b7ab0"/><circle cx="52.8" cy="281.8" r="0.99" fill="#6b7ab0"/><circle cx="54.7" cy="281.8" r="1.01" fill="#6b7ab0"/><circle cx="56.9" cy="282.0" r="1.01" fill="#6b7ab0"/><circle cx="59.1" cy="282.0" r="0.89" fill="#6b7ab0"/><circle cx="61.5" cy="281.9" r="1.00" fill="#6b7ab0"/><circle cx="63.9" cy="281.8" r="0.96" fill="#6b7ab0"/><circle cx="66.0" cy="281.5" r="0.87" fill="#6b7ab0"/><circle cx="68.5" cy="281.9" r="0.99" fill="#6b7ab0"/><circle cx="70.8" cy="281.6" r="0.92" fill="#6b7ab0"/><circle cx="33.4" cy="283.7" r="1.04" fill="#6b7ab0"/><circle cx="35.7" cy="283.9" r="0.88" fill="#6b7ab0"/><circle cx="42.7" cy="283.4" r="0.90" fill="#6b7ab0"/><circle cx="44.7" cy="283.8" r="1.05" fill="#6b7ab0"/><circle cx="47.2" cy="283.7" r="0.89" fill="#6b7ab0"/><circle cx="49.2" cy="283.4" r="0.98" fill="#6b7ab0"/><circle cx="51.6" cy="283.4" r="0.91" fill="#6b7ab0"/><circle cx="54.0" cy="283.3" r="1.05" fill="#6b7ab0"/><circle cx="56.3" cy="284.0" r="0.95" fill="#6b7ab0"/><circle cx="58.3" cy="283.7" r="1.01" fill="#6b7ab0"/><circle cx="60.8" cy="283.8" r="0.92" fill="#6b7ab0"/><circle cx="63.0" cy="283.6" r="1.00" fill="#6b7ab0"/><circle cx="65.2" cy="283.3" r="1.04" fill="#6b7ab0"/><circle cx="67.4" cy="283.6" r="0.98" fill="#6b7ab0"/><circle cx="69.5" cy="283.4" r="0.98" fill="#6b7ab0"/><circle cx="32.6" cy="285.7" r="0.86" fill="#6b7ab0"/><circle cx="34.5" cy="285.4" r="0.87" fill="#6b7ab0"/><circle cx="41.5" cy="285.3" r="1.06" fill="#6b7ab0"/><circle cx="43.7" cy="285.9" r="1.03" fill="#6b7ab0"/><circle cx="46.1" cy="285.5" r="1.05" fill="#6b7ab0"/><circle cx="48.4" cy="285.8" r="0.96" fill="#6b7ab0"/><circle cx="50.6" cy="285.6" r="0.88" fill="#6b7ab0"/><circle cx="52.3" cy="285.3" r="0.90" fill="#6b7ab0"/><circle cx="54.6" cy="285.6" r="1.02" fill="#6b7ab0"/><circle cx="57.2" cy="285.5" r="1.01" fill="#6b7ab0"/><circle cx="59.2" cy="285.6" r="1.04" fill="#6b7ab0"/><circle cx="61.6" cy="285.4" r="1.07" fill="#6b7ab0"/><circle cx="64.0" cy="285.5" r="0.94" fill="#6b7ab0"/><circle cx="66.2" cy="285.7" r="0.91" fill="#6b7ab0"/><circle cx="33.3" cy="287.5" r="0.86" fill="#6b7ab0"/><circle cx="37.9" cy="287.7" r="0.86" fill="#6b7ab0"/><circle cx="40.2" cy="287.5" r="0.86" fill="#6b7ab0"/><circle cx="42.8" cy="287.3" r="0.87" fill="#6b7ab0"/><circle cx="44.7" cy="287.3" r="1.01" fill="#6b7ab0"/><circle cx="46.9" cy="287.3" r="0.86" fill="#6b7ab0"/><circle cx="49.4" cy="287.4" r="1.05" fill="#6b7ab0"/><circle cx="51.5" cy="287.8" r="0.93" fill="#6b7ab0"/><circle cx="53.6" cy="287.4" r="1.05" fill="#6b7ab0"/><circle cx="56.1" cy="287.4" r="0.87" fill="#6b7ab0"/><circle cx="58.4" cy="287.9" r="1.00" fill="#6b7ab0"/><circle cx="60.2" cy="287.2" r="0.87" fill="#6b7ab0"/><circle cx="62.5" cy="287.2" r="0.86" fill="#6b7ab0"/><circle cx="69.5" cy="287.8" r="1.08" fill="#6b7ab0"/><circle cx="72.1" cy="287.2" r="0.93" fill="#6b7ab0"/><circle cx="74.1" cy="287.9" r="0.87" fill="#6b7ab0"/><circle cx="37.1" cy="289.7" r="1.06" fill="#6b7ab0"/><circle cx="39.2" cy="289.8" r="0.94" fill="#6b7ab0"/><circle cx="41.3" cy="289.3" r="1.04" fill="#6b7ab0"/><circle cx="43.6" cy="289.3" r="0.89" fill="#6b7ab0"/><circle cx="46.0" cy="289.6" r="1.03" fill="#6b7ab0"/><circle cx="48.1" cy="289.5" r="0.89" fill="#6b7ab0"/><circle cx="50.5" cy="289.2" r="0.97" fill="#6b7ab0"/><circle cx="52.8" cy="289.6" r="0.87" fill="#6b7ab0"/><circle cx="54.7" cy="289.7" r="1.01" fill="#6b7ab0"/><circle cx="57.4" cy="289.8" r="0.96" fill="#6b7ab0"/><circle cx="59.7" cy="289.7" r="0.93" fill="#6b7ab0"/><circle cx="68.1" cy="289.2" r="1.01" fill="#6b7ab0"/><circle cx="70.5" cy="289.2" r="0.89" fill="#6b7ab0"/><circle cx="73.0" cy="289.6" r="0.85" fill="#6b7ab0"/><circle cx="74.9" cy="289.8" r="0.91" fill="#6b7ab0"/><circle cx="35.5" cy="291.2" r="0.87" fill="#6b7ab0"/><circle cx="38.2" cy="291.2" r="0.86" fill="#6b7ab0"/><circle cx="40.6" cy="291.2" r="1.07" fill="#6b7ab0"/><circle cx="42.2" cy="291.4" r="0.91" fill="#6b7ab0"/><circle cx="45.0" cy="291.5" r="1.01" fill="#6b7ab0"/><circle cx="47.2" cy="291.7" r="0.94" fill="#6b7ab0"/><circle cx="49.3" cy="291.4" r="0.88" fill="#6b7ab0"/><circle cx="51.7" cy="291.5" r="1.05" fill="#6b7ab0"/><circle cx="53.6" cy="291.5" r="0.97" fill="#6b7ab0"/><circle cx="56.2" cy="291.1" r="0.94" fill="#6b7ab0"/><circle cx="58.3" cy="291.1" r="0.99" fill="#6b7ab0"/><circle cx="64.8" cy="291.3" r="1.10" fill="#6b7ab0"/><circle cx="67.1" cy="291.4" r="0.87" fill="#6b7ab0"/><circle cx="69.3" cy="291.2" r="1.08" fill="#6b7ab0"/><circle cx="71.9" cy="291.7" r="1.10" fill="#6b7ab0"/><circle cx="74.1" cy="291.7" r="0.98" fill="#6b7ab0"/><circle cx="37.2" cy="293.2" r="1.08" fill="#6b7ab0"/><circle cx="38.9" cy="293.1" r="1.03" fill="#6b7ab0"/><circle cx="41.2" cy="293.4" r="1.01" fill="#6b7ab0"/><circle cx="43.3" cy="293.6" r="0.92" fill="#6b7ab0"/><circle cx="45.8" cy="293.3" r="1.04" fill="#6b7ab0"/><circle cx="48.3" cy="293.2" r="0.88" fill="#6b7ab0"/><circle cx="50.2" cy="293.3" r="0.87" fill="#6b7ab0"/><circle cx="52.4" cy="293.6" r="1.03" fill="#6b7ab0"/><circle cx="61.6" cy="293.4" r="0.99" fill="#6b7ab0"/><circle cx="63.8" cy="293.6" r="0.92" fill="#6b7ab0"/><circle cx="66.1" cy="293.7" r="1.05" fill="#6b7ab0"/><circle cx="68.2" cy="293.2" r="1.05" fill="#6b7ab0"/><circle cx="70.3" cy="293.1" r="0.98" fill="#6b7ab0"/><circle cx="72.9" cy="293.2" r="0.86" fill="#6b7ab0"/><circle cx="74.9" cy="293.6" r="0.97" fill="#6b7ab0"/><circle cx="42.3" cy="295.5" r="0.95" fill="#6b7ab0"/><circle cx="58.5" cy="295.4" r="0.92" fill="#6b7ab0"/><circle cx="60.3" cy="295.0" r="1.01" fill="#6b7ab0"/><circle cx="63.0" cy="295.6" r="0.97" fill="#6b7ab0"/><circle cx="65.1" cy="295.6" r="1.05" fill="#6b7ab0"/><circle cx="67.3" cy="295.3" r="0.98" fill="#6b7ab0"/><circle cx="69.3" cy="295.1" r="1.02" fill="#6b7ab0"/><circle cx="72.1" cy="295.4" r="0.95" fill="#6b7ab0"/><circle cx="73.9" cy="295.3" r="1.05" fill="#6b7ab0"/><circle cx="53.0" cy="297.4" r="0.90" fill="#6b7ab0"/><circle cx="55.2" cy="297.1" r="0.95" fill="#6b7ab0"/><circle cx="57.4" cy="297.2" r="0.92" fill="#6b7ab0"/><circle cx="59.7" cy="297.6" r="0.93" fill="#6b7ab0"/><circle cx="61.6" cy="297.1" r="0.88" fill="#6b7ab0"/><circle cx="63.7" cy="297.6" r="0.87" fill="#6b7ab0"/><circle cx="65.9" cy="297.1" r="0.87" fill="#6b7ab0"/><circle cx="68.4" cy="297.5" r="1.06" fill="#6b7ab0"/><circle cx="70.7" cy="297.5" r="0.85" fill="#6b7ab0"/><circle cx="58.1" cy="299.0" r="0.89" fill="#6b7ab0"/><circle cx="60.3" cy="299.1" r="1.08" fill="#6b7ab0"/><circle cx="62.5" cy="299.0" r="1.08" fill="#6b7ab0"/><circle cx="65.4" cy="299.6" r="0.91" fill="#6b7ab0"/><circle cx="67.2" cy="299.5" r="0.97" fill="#6b7ab0"/></g><g id="tisY"><path d="M109.15,239.20 C109.51,236.66 110.66,233.77 112.41,231.96 C114.16,230.15 116.87,228.76 119.64,228.34 C122.42,227.92 126.03,228.70 129.05,229.43 C132.06,230.15 135.32,231.30 137.73,232.68 C140.14,234.07 142.07,235.94 143.52,237.75 C144.97,239.56 144.97,241.37 146.42,243.54 C147.86,245.71 151.12,248.36 152.20,250.77 C153.29,253.18 153.41,255.72 152.93,258.01 C152.45,260.30 150.88,262.71 149.31,264.52 C147.74,266.33 145.45,267.42 143.52,268.86 C141.59,270.31 139.90,272.36 137.73,273.20 C135.56,274.05 132.91,274.29 130.50,273.93 C128.08,273.57 125.31,272.60 123.26,271.03 C121.21,269.47 119.76,267.05 118.20,264.52 C116.63,261.99 115.18,258.73 113.85,255.84 C112.53,252.94 111.02,249.93 110.24,247.15 C109.45,244.38 108.79,241.73 109.15,239.20 Z" fill="#fce89c"/><circle cx="115.9" cy="232.4" r="1.68" fill="#fad764"/><circle cx="118.4" cy="232.2" r="1.68" fill="#fad764"/><circle cx="120.2" cy="231.9" r="1.62" fill="#fad764"/><circle cx="122.3" cy="232.3" r="1.85" fill="#fad764"/><circle cx="124.6" cy="231.8" r="1.85" fill="#fad764"/><circle cx="127.1" cy="232.1" r="1.66" fill="#fad764"/><circle cx="129.4" cy="232.4" r="1.71" fill="#fad764"/><circle cx="114.5" cy="234.0" r="1.64" fill="#fad764"/><circle cx="116.8" cy="234.4" r="1.84" fill="#fad764"/><circle cx="119.3" cy="234.1" r="1.68" fill="#fad764"/><circle cx="121.1" cy="233.9" r="1.80" fill="#fad764"/><circle cx="123.9" cy="234.0" r="1.80" fill="#fad764"/><circle cx="126.1" cy="234.2" r="1.77" fill="#fad764"/><circle cx="128.4" cy="234.0" r="1.78" fill="#fad764"/><circle cx="130.3" cy="234.1" r="1.79" fill="#fad764"/><circle cx="132.8" cy="233.9" r="1.84" fill="#fad764"/><circle cx="135.0" cy="234.1" r="1.60" fill="#fad764"/><circle cx="113.8" cy="236.3" r="1.72" fill="#fad764"/><circle cx="115.9" cy="236.2" r="1.78" fill="#fad764"/><circle cx="117.8" cy="236.2" r="1.75" fill="#fad764"/><circle cx="120.4" cy="236.0" r="1.76" fill="#fad764"/><circle cx="122.7" cy="236.1" r="1.78" fill="#fad764"/><circle cx="124.5" cy="235.8" r="1.71" fill="#fad764"/><circle cx="127.2" cy="235.8" r="1.77" fill="#fad764"/><circle cx="129.4" cy="235.7" r="1.72" fill="#fad764"/><circle cx="131.4" cy="235.7" r="1.63" fill="#fad764"/><circle cx="133.7" cy="235.8" r="1.65" fill="#fad764"/><circle cx="135.7" cy="236.0" r="1.70" fill="#fad764"/><circle cx="138.4" cy="236.1" r="1.66" fill="#fad764"/><circle cx="130.5" cy="238.1" r="1.64" fill="#fad764"/><circle cx="132.8" cy="238.2" r="1.69" fill="#fad764"/><circle cx="134.9" cy="237.8" r="1.67" fill="#fad764"/><circle cx="137.5" cy="237.9" r="1.84" fill="#fad764"/><circle cx="139.7" cy="238.0" r="1.66" fill="#fad764"/><circle cx="136.0" cy="239.8" r="1.79" fill="#fad764"/><circle cx="138.4" cy="239.6" r="1.66" fill="#fad764"/><circle cx="140.5" cy="240.2" r="1.82" fill="#fad764"/><circle cx="112.2" cy="241.7" r="1.81" fill="#fad764"/><circle cx="114.4" cy="242.1" r="1.77" fill="#fad764"/><circle cx="116.9" cy="241.7" r="1.80" fill="#fad764"/><circle cx="119.5" cy="241.6" r="1.72" fill="#fad764"/><circle cx="121.5" cy="241.9" r="1.68" fill="#fad764"/><circle cx="123.4" cy="241.9" r="1.80" fill="#fad764"/><circle cx="125.6" cy="241.7" r="1.80" fill="#fad764"/><circle cx="128.4" cy="242.0" r="1.61" fill="#fad764"/><circle cx="130.6" cy="242.2" r="1.85" fill="#fad764"/><circle cx="141.5" cy="242.2" r="1.64" fill="#fad764"/><circle cx="113.4" cy="243.9" r="1.72" fill="#fad764"/><circle cx="116.1" cy="243.7" r="1.61" fill="#fad764"/><circle cx="118.2" cy="243.6" r="1.76" fill="#fad764"/><circle cx="120.3" cy="244.1" r="1.74" fill="#fad764"/><circle cx="122.6" cy="243.7" r="1.74" fill="#fad764"/><circle cx="124.6" cy="244.0" r="1.73" fill="#fad764"/><circle cx="126.8" cy="243.6" r="1.69" fill="#fad764"/><circle cx="129.5" cy="243.6" r="1.78" fill="#fad764"/><circle cx="131.7" cy="243.5" r="1.77" fill="#fad764"/><circle cx="133.5" cy="243.6" r="1.75" fill="#fad764"/><circle cx="135.9" cy="244.1" r="1.72" fill="#fad764"/><circle cx="112.2" cy="245.7" r="1.75" fill="#fad764"/><circle cx="114.6" cy="245.7" r="1.63" fill="#fad764"/><circle cx="117.2" cy="245.9" r="1.80" fill="#fad764"/><circle cx="119.1" cy="246.0" r="1.73" fill="#fad764"/><circle cx="121.5" cy="245.8" r="1.79" fill="#fad764"/><circle cx="123.6" cy="245.5" r="1.61" fill="#fad764"/><circle cx="125.7" cy="245.4" r="1.82" fill="#fad764"/><circle cx="128.2" cy="246.0" r="1.60" fill="#fad764"/><circle cx="130.4" cy="246.0" r="1.75" fill="#fad764"/><circle cx="132.6" cy="245.7" r="1.62" fill="#fad764"/><circle cx="134.7" cy="245.5" r="1.69" fill="#fad764"/><circle cx="137.1" cy="246.0" r="1.64" fill="#fad764"/><circle cx="139.3" cy="245.6" r="1.64" fill="#fad764"/><circle cx="115.5" cy="247.5" r="1.62" fill="#fad764"/><circle cx="118.0" cy="248.0" r="1.69" fill="#fad764"/><circle cx="120.2" cy="247.7" r="1.67" fill="#fad764"/><circle cx="122.7" cy="247.9" r="1.64" fill="#fad764"/><circle cx="124.6" cy="247.8" r="1.84" fill="#fad764"/><circle cx="127.2" cy="247.7" r="1.84" fill="#fad764"/><circle cx="129.0" cy="247.4" r="1.79" fill="#fad764"/><circle cx="131.5" cy="247.4" r="1.74" fill="#fad764"/><circle cx="134.1" cy="247.7" r="1.69" fill="#fad764"/><circle cx="135.8" cy="247.4" r="1.82" fill="#fad764"/><circle cx="138.3" cy="248.0" r="1.61" fill="#fad764"/><circle cx="140.4" cy="247.4" r="1.70" fill="#fad764"/><circle cx="142.5" cy="247.5" r="1.70" fill="#fad764"/><circle cx="118.8" cy="249.7" r="1.72" fill="#fad764"/><circle cx="121.5" cy="249.6" r="1.76" fill="#fad764"/><circle cx="123.8" cy="250.0" r="1.68" fill="#fad764"/><circle cx="125.9" cy="249.9" r="1.66" fill="#fad764"/><circle cx="127.9" cy="249.5" r="1.62" fill="#fad764"/><circle cx="130.6" cy="249.9" r="1.68" fill="#fad764"/><circle cx="132.4" cy="249.4" r="1.66" fill="#fad764"/><circle cx="134.6" cy="249.6" r="1.74" fill="#fad764"/><circle cx="137.0" cy="249.4" r="1.78" fill="#fad764"/><circle cx="139.1" cy="249.5" r="1.67" fill="#fad764"/><circle cx="141.6" cy="249.4" r="1.71" fill="#fad764"/><circle cx="143.8" cy="249.8" r="1.74" fill="#fad764"/><circle cx="146.5" cy="249.8" r="1.79" fill="#fad764"/><circle cx="148.5" cy="249.6" r="1.80" fill="#fad764"/><circle cx="122.2" cy="251.3" r="1.63" fill="#fad764"/><circle cx="124.7" cy="251.9" r="1.84" fill="#fad764"/><circle cx="127.1" cy="251.4" r="1.71" fill="#fad764"/><circle cx="129.2" cy="251.5" r="1.60" fill="#fad764"/><circle cx="131.6" cy="251.8" r="1.78" fill="#fad764"/><circle cx="133.5" cy="251.6" r="1.64" fill="#fad764"/><circle cx="136.2" cy="251.6" r="1.83" fill="#fad764"/><circle cx="138.5" cy="251.3" r="1.68" fill="#fad764"/><circle cx="140.8" cy="251.6" r="1.71" fill="#fad764"/><circle cx="142.8" cy="251.8" r="1.83" fill="#fad764"/><circle cx="145.1" cy="251.9" r="1.75" fill="#fad764"/><circle cx="147.0" cy="251.8" r="1.70" fill="#fad764"/><circle cx="149.2" cy="251.9" r="1.61" fill="#fad764"/><circle cx="116.8" cy="253.7" r="1.66" fill="#fad764"/><circle cx="125.9" cy="253.3" r="1.81" fill="#fad764"/><circle cx="128.2" cy="253.2" r="1.64" fill="#fad764"/><circle cx="130.2" cy="253.7" r="1.83" fill="#fad764"/><circle cx="132.5" cy="253.8" r="1.68" fill="#fad764"/><circle cx="135.1" cy="253.8" r="1.76" fill="#fad764"/><circle cx="137.4" cy="253.5" r="1.60" fill="#fad764"/><circle cx="139.4" cy="253.6" r="1.65" fill="#fad764"/><circle cx="141.6" cy="253.4" r="1.61" fill="#fad764"/><circle cx="143.8" cy="253.5" r="1.72" fill="#fad764"/><circle cx="146.3" cy="253.5" r="1.85" fill="#fad764"/><circle cx="148.7" cy="253.9" r="1.77" fill="#fad764"/><circle cx="150.8" cy="253.6" r="1.80" fill="#fad764"/><circle cx="118.2" cy="255.4" r="1.83" fill="#fad764"/><circle cx="120.1" cy="255.7" r="1.62" fill="#fad764"/><circle cx="129.5" cy="255.6" r="1.65" fill="#fad764"/><circle cx="131.6" cy="255.8" r="1.66" fill="#fad764"/><circle cx="134.1" cy="255.5" r="1.70" fill="#fad764"/><circle cx="135.7" cy="255.4" r="1.64" fill="#fad764"/><circle cx="138.4" cy="255.8" r="1.83" fill="#fad764"/><circle cx="140.6" cy="255.4" r="1.63" fill="#fad764"/><circle cx="142.9" cy="255.5" r="1.78" fill="#fad764"/><circle cx="145.0" cy="255.8" r="1.65" fill="#fad764"/><circle cx="147.2" cy="255.3" r="1.76" fill="#fad764"/><circle cx="149.8" cy="255.3" r="1.76" fill="#fad764"/><circle cx="119.5" cy="257.3" r="1.67" fill="#fad764"/><circle cx="121.5" cy="257.8" r="1.65" fill="#fad764"/><circle cx="123.4" cy="257.2" r="1.74" fill="#fad764"/><circle cx="134.9" cy="257.7" r="1.84" fill="#fad764"/><circle cx="137.1" cy="257.7" r="1.76" fill="#fad764"/><circle cx="139.7" cy="257.3" r="1.77" fill="#fad764"/><circle cx="141.9" cy="257.4" r="1.63" fill="#fad764"/><circle cx="143.7" cy="257.2" r="1.62" fill="#fad764"/><circle cx="145.9" cy="257.5" r="1.63" fill="#fad764"/><circle cx="148.6" cy="257.6" r="1.80" fill="#fad764"/><circle cx="118.2" cy="259.6" r="1.62" fill="#fad764"/><circle cx="120.2" cy="259.4" r="1.69" fill="#fad764"/><circle cx="122.3" cy="259.5" r="1.69" fill="#fad764"/><circle cx="124.9" cy="259.4" r="1.84" fill="#fad764"/><circle cx="127.4" cy="259.1" r="1.79" fill="#fad764"/><circle cx="129.5" cy="259.3" r="1.63" fill="#fad764"/><circle cx="138.3" cy="259.5" r="1.80" fill="#fad764"/><circle cx="140.6" cy="259.3" r="1.68" fill="#fad764"/><circle cx="143.1" cy="259.4" r="1.61" fill="#fad764"/><circle cx="145.0" cy="259.2" r="1.77" fill="#fad764"/><circle cx="147.0" cy="259.2" r="1.62" fill="#fad764"/><circle cx="149.5" cy="259.7" r="1.74" fill="#fad764"/><circle cx="119.2" cy="261.3" r="1.73" fill="#fad764"/><circle cx="121.1" cy="261.2" r="1.84" fill="#fad764"/><circle cx="123.6" cy="261.3" r="1.62" fill="#fad764"/><circle cx="125.8" cy="261.7" r="1.77" fill="#fad764"/><circle cx="128.2" cy="261.0" r="1.70" fill="#fad764"/><circle cx="130.6" cy="261.3" r="1.75" fill="#fad764"/><circle cx="133.0" cy="261.5" r="1.76" fill="#fad764"/><circle cx="142.0" cy="261.3" r="1.85" fill="#fad764"/><circle cx="144.1" cy="261.6" r="1.64" fill="#fad764"/><circle cx="146.4" cy="261.3" r="1.84" fill="#fad764"/><circle cx="148.8" cy="261.2" r="1.71" fill="#fad764"/><circle cx="120.6" cy="263.4" r="1.63" fill="#fad764"/><circle cx="122.4" cy="263.6" r="1.83" fill="#fad764"/><circle cx="124.5" cy="263.1" r="1.71" fill="#fad764"/><circle cx="126.9" cy="263.5" r="1.69" fill="#fad764"/><circle cx="129.5" cy="263.1" r="1.73" fill="#fad764"/><circle cx="131.9" cy="263.4" r="1.62" fill="#fad764"/><circle cx="133.5" cy="263.4" r="1.69" fill="#fad764"/><circle cx="136.0" cy="263.3" r="1.75" fill="#fad764"/><circle cx="144.8" cy="263.3" r="1.78" fill="#fad764"/><circle cx="147.0" cy="263.5" r="1.70" fill="#fad764"/><circle cx="121.5" cy="265.4" r="1.83" fill="#fad764"/><circle cx="124.0" cy="265.6" r="1.68" fill="#fad764"/><circle cx="125.7" cy="265.6" r="1.62" fill="#fad764"/><circle cx="128.1" cy="265.4" r="1.73" fill="#fad764"/><circle cx="130.4" cy="265.5" r="1.67" fill="#fad764"/><circle cx="132.7" cy="265.5" r="1.63" fill="#fad764"/><circle cx="134.8" cy="265.2" r="1.74" fill="#fad764"/><circle cx="137.0" cy="265.2" r="1.61" fill="#fad764"/><circle cx="139.1" cy="265.1" r="1.64" fill="#fad764"/><circle cx="122.8" cy="266.9" r="1.75" fill="#fad764"/><circle cx="124.5" cy="267.4" r="1.75" fill="#fad764"/><circle cx="127.1" cy="267.0" r="1.84" fill="#fad764"/><circle cx="129.0" cy="266.9" r="1.77" fill="#fad764"/><circle cx="131.3" cy="266.9" r="1.72" fill="#fad764"/><circle cx="133.9" cy="267.5" r="1.78" fill="#fad764"/><circle cx="135.8" cy="267.3" r="1.81" fill="#fad764"/><circle cx="138.0" cy="267.4" r="1.66" fill="#fad764"/><circle cx="140.4" cy="266.9" r="1.79" fill="#fad764"/><circle cx="126.0" cy="269.4" r="1.74" fill="#fad764"/><circle cx="128.3" cy="269.1" r="1.80" fill="#fad764"/><circle cx="130.7" cy="269.0" r="1.63" fill="#fad764"/><circle cx="132.5" cy="269.1" r="1.82" fill="#fad764"/><circle cx="134.8" cy="269.2" r="1.76" fill="#fad764"/><circle cx="137.5" cy="268.9" r="1.79" fill="#fad764"/><circle cx="139.3" cy="268.9" r="1.76" fill="#fad764"/><circle cx="129.6" cy="271.4" r="1.72" fill="#fad764"/><circle cx="131.3" cy="271.3" r="1.63" fill="#fad764"/><circle cx="133.8" cy="270.8" r="1.85" fill="#fad764"/><circle cx="136.1" cy="271.1" r="1.67" fill="#fad764"/><circle cx="115.9" cy="232.4" r="0.93" fill="#f7c235"/><circle cx="118.4" cy="232.2" r="0.93" fill="#f7c235"/><circle cx="120.2" cy="231.9" r="0.87" fill="#f7c235"/><circle cx="122.3" cy="232.3" r="1.10" fill="#f7c235"/><circle cx="124.6" cy="231.8" r="1.10" fill="#f7c235"/><circle cx="127.1" cy="232.1" r="0.91" fill="#f7c235"/><circle cx="129.4" cy="232.4" r="0.96" fill="#f7c235"/><circle cx="114.5" cy="234.0" r="0.89" fill="#f7c235"/><circle cx="116.8" cy="234.4" r="1.09" fill="#f7c235"/><circle cx="119.3" cy="234.1" r="0.93" fill="#f7c235"/><circle cx="121.1" cy="233.9" r="1.05" fill="#f7c235"/><circle cx="123.9" cy="234.0" r="1.05" fill="#f7c235"/><circle cx="126.1" cy="234.2" r="1.02" fill="#f7c235"/><circle cx="128.4" cy="234.0" r="1.03" fill="#f7c235"/><circle cx="130.3" cy="234.1" r="1.04" fill="#f7c235"/><circle cx="132.8" cy="233.9" r="1.09" fill="#f7c235"/><circle cx="135.0" cy="234.1" r="0.85" fill="#f7c235"/><circle cx="113.8" cy="236.3" r="0.97" fill="#f7c235"/><circle cx="115.9" cy="236.2" r="1.03" fill="#f7c235"/><circle cx="117.8" cy="236.2" r="1.00" fill="#f7c235"/><circle cx="120.4" cy="236.0" r="1.01" fill="#f7c235"/><circle cx="122.7" cy="236.1" r="1.03" fill="#f7c235"/><circle cx="124.5" cy="235.8" r="0.96" fill="#f7c235"/><circle cx="127.2" cy="235.8" r="1.02" fill="#f7c235"/><circle cx="129.4" cy="235.7" r="0.97" fill="#f7c235"/><circle cx="131.4" cy="235.7" r="0.88" fill="#f7c235"/><circle cx="133.7" cy="235.8" r="0.90" fill="#f7c235"/><circle cx="135.7" cy="236.0" r="0.95" fill="#f7c235"/><circle cx="138.4" cy="236.1" r="0.91" fill="#f7c235"/><circle cx="130.5" cy="238.1" r="0.89" fill="#f7c235"/><circle cx="132.8" cy="238.2" r="0.94" fill="#f7c235"/><circle cx="134.9" cy="237.8" r="0.92" fill="#f7c235"/><circle cx="137.5" cy="237.9" r="1.09" fill="#f7c235"/><circle cx="139.7" cy="238.0" r="0.91" fill="#f7c235"/><circle cx="136.0" cy="239.8" r="1.04" fill="#f7c235"/><circle cx="138.4" cy="239.6" r="0.91" fill="#f7c235"/><circle cx="140.5" cy="240.2" r="1.07" fill="#f7c235"/><circle cx="112.2" cy="241.7" r="1.06" fill="#f7c235"/><circle cx="114.4" cy="242.1" r="1.02" fill="#f7c235"/><circle cx="116.9" cy="241.7" r="1.05" fill="#f7c235"/><circle cx="119.5" cy="241.6" r="0.97" fill="#f7c235"/><circle cx="121.5" cy="241.9" r="0.93" fill="#f7c235"/><circle cx="123.4" cy="241.9" r="1.05" fill="#f7c235"/><circle cx="125.6" cy="241.7" r="1.05" fill="#f7c235"/><circle cx="128.4" cy="242.0" r="0.86" fill="#f7c235"/><circle cx="130.6" cy="242.2" r="1.10" fill="#f7c235"/><circle cx="141.5" cy="242.2" r="0.89" fill="#f7c235"/><circle cx="113.4" cy="243.9" r="0.97" fill="#f7c235"/><circle cx="116.1" cy="243.7" r="0.86" fill="#f7c235"/><circle cx="118.2" cy="243.6" r="1.01" fill="#f7c235"/><circle cx="120.3" cy="244.1" r="0.99" fill="#f7c235"/><circle cx="122.6" cy="243.7" r="0.99" fill="#f7c235"/><circle cx="124.6" cy="244.0" r="0.98" fill="#f7c235"/><circle cx="126.8" cy="243.6" r="0.94" fill="#f7c235"/><circle cx="129.5" cy="243.6" r="1.03" fill="#f7c235"/><circle cx="131.7" cy="243.5" r="1.02" fill="#f7c235"/><circle cx="133.5" cy="243.6" r="1.00" fill="#f7c235"/><circle cx="135.9" cy="244.1" r="0.97" fill="#f7c235"/><circle cx="112.2" cy="245.7" r="1.00" fill="#f7c235"/><circle cx="114.6" cy="245.7" r="0.88" fill="#f7c235"/><circle cx="117.2" cy="245.9" r="1.05" fill="#f7c235"/><circle cx="119.1" cy="246.0" r="0.98" fill="#f7c235"/><circle cx="121.5" cy="245.8" r="1.04" fill="#f7c235"/><circle cx="123.6" cy="245.5" r="0.86" fill="#f7c235"/><circle cx="125.7" cy="245.4" r="1.07" fill="#f7c235"/><circle cx="128.2" cy="246.0" r="0.85" fill="#f7c235"/><circle cx="130.4" cy="246.0" r="1.00" fill="#f7c235"/><circle cx="132.6" cy="245.7" r="0.87" fill="#f7c235"/><circle cx="134.7" cy="245.5" r="0.94" fill="#f7c235"/><circle cx="137.1" cy="246.0" r="0.89" fill="#f7c235"/><circle cx="139.3" cy="245.6" r="0.89" fill="#f7c235"/><circle cx="115.5" cy="247.5" r="0.87" fill="#f7c235"/><circle cx="118.0" cy="248.0" r="0.94" fill="#f7c235"/><circle cx="120.2" cy="247.7" r="0.92" fill="#f7c235"/><circle cx="122.7" cy="247.9" r="0.89" fill="#f7c235"/><circle cx="124.6" cy="247.8" r="1.09" fill="#f7c235"/><circle cx="127.2" cy="247.7" r="1.09" fill="#f7c235"/><circle cx="129.0" cy="247.4" r="1.04" fill="#f7c235"/><circle cx="131.5" cy="247.4" r="0.99" fill="#f7c235"/><circle cx="134.1" cy="247.7" r="0.94" fill="#f7c235"/><circle cx="135.8" cy="247.4" r="1.07" fill="#f7c235"/><circle cx="138.3" cy="248.0" r="0.86" fill="#f7c235"/><circle cx="140.4" cy="247.4" r="0.95" fill="#f7c235"/><circle cx="142.5" cy="247.5" r="0.95" fill="#f7c235"/><circle cx="118.8" cy="249.7" r="0.97" fill="#f7c235"/><circle cx="121.5" cy="249.6" r="1.01" fill="#f7c235"/><circle cx="123.8" cy="250.0" r="0.93" fill="#f7c235"/><circle cx="125.9" cy="249.9" r="0.91" fill="#f7c235"/><circle cx="127.9" cy="249.5" r="0.87" fill="#f7c235"/><circle cx="130.6" cy="249.9" r="0.93" fill="#f7c235"/><circle cx="132.4" cy="249.4" r="0.91" fill="#f7c235"/><circle cx="134.6" cy="249.6" r="0.99" fill="#f7c235"/><circle cx="137.0" cy="249.4" r="1.03" fill="#f7c235"/><circle cx="139.1" cy="249.5" r="0.92" fill="#f7c235"/><circle cx="141.6" cy="249.4" r="0.96" fill="#f7c235"/><circle cx="143.8" cy="249.8" r="0.99" fill="#f7c235"/><circle cx="146.5" cy="249.8" r="1.04" fill="#f7c235"/><circle cx="148.5" cy="249.6" r="1.05" fill="#f7c235"/><circle cx="122.2" cy="251.3" r="0.88" fill="#f7c235"/><circle cx="124.7" cy="251.9" r="1.09" fill="#f7c235"/><circle cx="127.1" cy="251.4" r="0.96" fill="#f7c235"/><circle cx="129.2" cy="251.5" r="0.85" fill="#f7c235"/><circle cx="131.6" cy="251.8" r="1.03" fill="#f7c235"/><circle cx="133.5" cy="251.6" r="0.89" fill="#f7c235"/><circle cx="136.2" cy="251.6" r="1.08" fill="#f7c235"/><circle cx="138.5" cy="251.3" r="0.93" fill="#f7c235"/><circle cx="140.8" cy="251.6" r="0.96" fill="#f7c235"/><circle cx="142.8" cy="251.8" r="1.08" fill="#f7c235"/><circle cx="145.1" cy="251.9" r="1.00" fill="#f7c235"/><circle cx="147.0" cy="251.8" r="0.95" fill="#f7c235"/><circle cx="149.2" cy="251.9" r="0.86" fill="#f7c235"/><circle cx="116.8" cy="253.7" r="0.91" fill="#f7c235"/><circle cx="125.9" cy="253.3" r="1.06" fill="#f7c235"/><circle cx="128.2" cy="253.2" r="0.89" fill="#f7c235"/><circle cx="130.2" cy="253.7" r="1.08" fill="#f7c235"/><circle cx="132.5" cy="253.8" r="0.93" fill="#f7c235"/><circle cx="135.1" cy="253.8" r="1.01" fill="#f7c235"/><circle cx="137.4" cy="253.5" r="0.85" fill="#f7c235"/><circle cx="139.4" cy="253.6" r="0.90" fill="#f7c235"/><circle cx="141.6" cy="253.4" r="0.86" fill="#f7c235"/><circle cx="143.8" cy="253.5" r="0.97" fill="#f7c235"/><circle cx="146.3" cy="253.5" r="1.10" fill="#f7c235"/><circle cx="148.7" cy="253.9" r="1.02" fill="#f7c235"/><circle cx="150.8" cy="253.6" r="1.05" fill="#f7c235"/><circle cx="118.2" cy="255.4" r="1.08" fill="#f7c235"/><circle cx="120.1" cy="255.7" r="0.87" fill="#f7c235"/><circle cx="129.5" cy="255.6" r="0.90" fill="#f7c235"/><circle cx="131.6" cy="255.8" r="0.91" fill="#f7c235"/><circle cx="134.1" cy="255.5" r="0.95" fill="#f7c235"/><circle cx="135.7" cy="255.4" r="0.89" fill="#f7c235"/><circle cx="138.4" cy="255.8" r="1.08" fill="#f7c235"/><circle cx="140.6" cy="255.4" r="0.88" fill="#f7c235"/><circle cx="142.9" cy="255.5" r="1.03" fill="#f7c235"/><circle cx="145.0" cy="255.8" r="0.90" fill="#f7c235"/><circle cx="147.2" cy="255.3" r="1.01" fill="#f7c235"/><circle cx="149.8" cy="255.3" r="1.01" fill="#f7c235"/><circle cx="119.5" cy="257.3" r="0.92" fill="#f7c235"/><circle cx="121.5" cy="257.8" r="0.90" fill="#f7c235"/><circle cx="123.4" cy="257.2" r="0.99" fill="#f7c235"/><circle cx="134.9" cy="257.7" r="1.09" fill="#f7c235"/><circle cx="137.1" cy="257.7" r="1.01" fill="#f7c235"/><circle cx="139.7" cy="257.3" r="1.02" fill="#f7c235"/><circle cx="141.9" cy="257.4" r="0.88" fill="#f7c235"/><circle cx="143.7" cy="257.2" r="0.87" fill="#f7c235"/><circle cx="145.9" cy="257.5" r="0.88" fill="#f7c235"/><circle cx="148.6" cy="257.6" r="1.05" fill="#f7c235"/><circle cx="118.2" cy="259.6" r="0.87" fill="#f7c235"/><circle cx="120.2" cy="259.4" r="0.94" fill="#f7c235"/><circle cx="122.3" cy="259.5" r="0.94" fill="#f7c235"/><circle cx="124.9" cy="259.4" r="1.09" fill="#f7c235"/><circle cx="127.4" cy="259.1" r="1.04" fill="#f7c235"/><circle cx="129.5" cy="259.3" r="0.88" fill="#f7c235"/><circle cx="138.3" cy="259.5" r="1.05" fill="#f7c235"/><circle cx="140.6" cy="259.3" r="0.93" fill="#f7c235"/><circle cx="143.1" cy="259.4" r="0.86" fill="#f7c235"/><circle cx="145.0" cy="259.2" r="1.02" fill="#f7c235"/><circle cx="147.0" cy="259.2" r="0.87" fill="#f7c235"/><circle cx="149.5" cy="259.7" r="0.99" fill="#f7c235"/><circle cx="119.2" cy="261.3" r="0.98" fill="#f7c235"/><circle cx="121.1" cy="261.2" r="1.09" fill="#f7c235"/><circle cx="123.6" cy="261.3" r="0.87" fill="#f7c235"/><circle cx="125.8" cy="261.7" r="1.02" fill="#f7c235"/><circle cx="128.2" cy="261.0" r="0.95" fill="#f7c235"/><circle cx="130.6" cy="261.3" r="1.00" fill="#f7c235"/><circle cx="133.0" cy="261.5" r="1.01" fill="#f7c235"/><circle cx="142.0" cy="261.3" r="1.10" fill="#f7c235"/><circle cx="144.1" cy="261.6" r="0.89" fill="#f7c235"/><circle cx="146.4" cy="261.3" r="1.09" fill="#f7c235"/><circle cx="148.8" cy="261.2" r="0.96" fill="#f7c235"/><circle cx="120.6" cy="263.4" r="0.88" fill="#f7c235"/><circle cx="122.4" cy="263.6" r="1.08" fill="#f7c235"/><circle cx="124.5" cy="263.1" r="0.96" fill="#f7c235"/><circle cx="126.9" cy="263.5" r="0.94" fill="#f7c235"/><circle cx="129.5" cy="263.1" r="0.98" fill="#f7c235"/><circle cx="131.9" cy="263.4" r="0.87" fill="#f7c235"/><circle cx="133.5" cy="263.4" r="0.94" fill="#f7c235"/><circle cx="136.0" cy="263.3" r="1.00" fill="#f7c235"/><circle cx="144.8" cy="263.3" r="1.03" fill="#f7c235"/><circle cx="147.0" cy="263.5" r="0.95" fill="#f7c235"/><circle cx="121.5" cy="265.4" r="1.08" fill="#f7c235"/><circle cx="124.0" cy="265.6" r="0.93" fill="#f7c235"/><circle cx="125.7" cy="265.6" r="0.87" fill="#f7c235"/><circle cx="128.1" cy="265.4" r="0.98" fill="#f7c235"/><circle cx="130.4" cy="265.5" r="0.92" fill="#f7c235"/><circle cx="132.7" cy="265.5" r="0.88" fill="#f7c235"/><circle cx="134.8" cy="265.2" r="0.99" fill="#f7c235"/><circle cx="137.0" cy="265.2" r="0.86" fill="#f7c235"/><circle cx="139.1" cy="265.1" r="0.89" fill="#f7c235"/><circle cx="122.8" cy="266.9" r="1.00" fill="#f7c235"/><circle cx="124.5" cy="267.4" r="1.00" fill="#f7c235"/><circle cx="127.1" cy="267.0" r="1.09" fill="#f7c235"/><circle cx="129.0" cy="266.9" r="1.02" fill="#f7c235"/><circle cx="131.3" cy="266.9" r="0.97" fill="#f7c235"/><circle cx="133.9" cy="267.5" r="1.03" fill="#f7c235"/><circle cx="135.8" cy="267.3" r="1.06" fill="#f7c235"/><circle cx="138.0" cy="267.4" r="0.91" fill="#f7c235"/><circle cx="140.4" cy="266.9" r="1.04" fill="#f7c235"/><circle cx="126.0" cy="269.4" r="0.99" fill="#f7c235"/><circle cx="128.3" cy="269.1" r="1.05" fill="#f7c235"/><circle cx="130.7" cy="269.0" r="0.88" fill="#f7c235"/><circle cx="132.5" cy="269.1" r="1.07" fill="#f7c235"/><circle cx="134.8" cy="269.2" r="1.01" fill="#f7c235"/><circle cx="137.5" cy="268.9" r="1.04" fill="#f7c235"/><circle cx="139.3" cy="268.9" r="1.01" fill="#f7c235"/><circle cx="129.6" cy="271.4" r="0.97" fill="#f7c235"/><circle cx="131.3" cy="271.3" r="0.88" fill="#f7c235"/><circle cx="133.8" cy="270.8" r="1.10" fill="#f7c235"/><circle cx="136.1" cy="271.1" r="0.92" fill="#f7c235"/></g></defs>
<use href="#tisB" x="0" y="0"/>
<use href="#tisY" x="0" y="0"/>
<text x="91.5" y="334.5" text-anchor="middle" font-size="14.5" >...</text>
<text x="315.4" y="93.8" text-anchor="middle" font-size="14.5" textLength="135.0" lengthAdjust="spacingAndGlyphs" >Proliferation markers</text>
<g transform="translate(266.8,112.3) rotate(-8)"><ellipse rx="15.2" ry="7.2" fill="#d3e3ec" stroke="#b7cfdc" stroke-width="0.6"/><ellipse cx="0.9" cy="-0.4" rx="9.2" ry="4.3" fill="#b2cedf"/></g>
<g transform="translate(266.8,129.7) rotate(-8)"><ellipse rx="15.2" ry="7.2" fill="#d3e3ec" stroke="#b7cfdc" stroke-width="0.6"/><ellipse cx="0.9" cy="-0.4" rx="9.2" ry="4.3" fill="#b2cedf"/></g>
<g transform="translate(266.8,149.8) rotate(-8)"><ellipse rx="15.2" ry="7.2" fill="#fcedc0" stroke="#ecd394" stroke-width="0.6"/><ellipse cx="0.9" cy="-0.4" rx="9.2" ry="4.3" fill="#f5cf9c"/></g>
<g transform="translate(266.8,169.9) rotate(-8)"><ellipse rx="15.2" ry="7.2" fill="#fcedc0" stroke="#ecd394" stroke-width="0.6"/><ellipse cx="0.9" cy="-0.4" rx="9.2" ry="4.3" fill="#f5cf9c"/></g>
<line x1="297.90" y1="142.20" x2="328.65" y2="142.20" stroke="#1a1a1a" stroke-width="1.3"/>
<path d="M333.90,142.20 L326.40,145.50 L328.27,142.20 L326.40,138.90 Z" fill="#1a1a1a"/>
<g transform="translate(359.0,114.5) rotate(-8)"><ellipse rx="17.5" ry="8.8" fill="#d3e3ec" stroke="#b7cfdc" stroke-width="0.6"/><ellipse cx="1.1" cy="-0.5" rx="10.5" ry="5.2" fill="#b2cedf"/></g>
<g transform="translate(361.7,131.9) rotate(-8)"><ellipse rx="11.8" ry="5.7" fill="#d3e3ec" stroke="#b7cfdc" stroke-width="0.6"/><ellipse cx="0.7" cy="-0.3" rx="7.0" ry="3.4" fill="#b2cedf"/></g>
<g transform="translate(361.7,147.7) rotate(-8)"><ellipse rx="11.8" ry="5.7" fill="#fcedc0" stroke="#ecd394" stroke-width="0.6"/><ellipse cx="0.7" cy="-0.3" rx="7.0" ry="3.4" fill="#f5cf9c"/></g>
<g transform="translate(363.3,167.0) rotate(-8)"><ellipse rx="20.0" ry="10.0" fill="#fcedc0" stroke="#ecd394" stroke-width="0.6"/><ellipse cx="1.2" cy="-0.6" rx="12.0" ry="6.0" fill="#f5cf9c"/></g>
<text x="315.4" y="220.0" text-anchor="middle" font-size="14.5" textLength="131.1" lengthAdjust="spacingAndGlyphs" >Spatial arrangement</text>
<line x1="252.5" y1="267.2" x2="288.9" y2="267.2" stroke="#222" stroke-width="1.15" stroke-dasharray="1.9,1.6"/>
<line x1="252.5" y1="267.2" x2="252.5" y2="287.6" stroke="#222" stroke-width="1.15" stroke-dasharray="1.9,1.6"/>
<line x1="288.9" y1="267.2" x2="288.9" y2="286.1" stroke="#222" stroke-width="1.15" stroke-dasharray="1.9,1.6"/>
<line x1="252.5" y1="287.6" x2="270.7" y2="308.6" stroke="#222" stroke-width="1.15" stroke-dasharray="1.9,1.6"/>
<line x1="288.9" y1="286.1" x2="270.7" y2="308.6" stroke="#222" stroke-width="1.15" stroke-dasharray="1.9,1.6"/>
<line x1="356.9" y1="231.9" x2="324.7" y2="255.5" stroke="#222" stroke-width="1.15" stroke-dasharray="1.9,1.6"/>
<line x1="356.9" y1="231.9" x2="357.8" y2="255.6" stroke="#222" stroke-width="1.15" stroke-dasharray="1.9,1.6"/>
<line x1="356.9" y1="231.9" x2="391.2" y2="251.3" stroke="#222" stroke-width="1.15" stroke-dasharray="1.9,1.6"/>
<line x1="324.7" y1="255.5" x2="357.8" y2="255.6" stroke="#222" stroke-width="1.15" stroke-dasharray="1.9,1.6"/>
<line x1="357.8" y1="255.6" x2="391.2" y2="251.3" stroke="#222" stroke-width="1.15" stroke-dasharray="1.9,1.6"/>
<line x1="324.7" y1="255.5" x2="337.1" y2="277.5" stroke="#222" stroke-width="1.15" stroke-dasharray="1.9,1.6"/>
<line x1="357.8" y1="255.6" x2="337.1" y2="277.5" stroke="#222" stroke-width="1.15" stroke-dasharray="1.9,1.6"/>
<line x1="357.8" y1="255.6" x2="376.6" y2="279.3" stroke="#222" stroke-width="1.15" stroke-dasharray="1.9,1.6"/>
<line x1="391.2" y1="251.3" x2="376.6" y2="279.3" stroke="#222" stroke-width="1.15" stroke-dasharray="1.9,1.6"/>
<line x1="337.1" y1="277.5" x2="376.6" y2="279.3" stroke="#222" stroke-width="1.15" stroke-dasharray="1.9,1.6"/>
<g transform="translate(252.5,267.2) rotate(-8)"><ellipse rx="11.0" ry="6.0" fill="#d3e3ec" stroke="#b7cfdc" stroke-width="0.6"/><ellipse cx="0.7" cy="-0.4" rx="6.6" ry="3.6" fill="#b2cedf"/></g>
<g transform="translate(288.9,267.2) rotate(-8)"><ellipse rx="11.0" ry="6.0" fill="#d3e3ec" stroke="#b7cfdc" stroke-width="0.6"/><ellipse cx="0.7" cy="-0.4" rx="6.6" ry="3.6" fill="#b2cedf"/></g>
<g transform="translate(252.5,287.6) rotate(-8)"><ellipse rx="11.0" ry="6.0" fill="#d3e3ec" stroke="#b7cfdc" stroke-width="0.6"/><ellipse cx="0.7" cy="-0.4" rx="6.6" ry="3.6" fill="#b2cedf"/></g>
<g transform="translate(288.9,286.1) rotate(-8)"><ellipse rx="11.0" ry="6.0" fill="#d3e3ec" stroke="#b7cfdc" stroke-width="0.6"/><ellipse cx="0.7" cy="-0.4" rx="6.6" ry="3.6" fill="#b2cedf"/></g>
<g transform="translate(270.7,308.6) rotate(-8)"><ellipse rx="11.0" ry="6.0" fill="#d3e3ec" stroke="#b7cfdc" stroke-width="0.6"/><ellipse cx="0.7" cy="-0.4" rx="6.6" ry="3.6" fill="#b2cedf"/></g>
<g transform="translate(356.9,231.9) rotate(-8)"><ellipse rx="10.8" ry="6.0" fill="#fcedc0" stroke="#ecd394" stroke-width="0.6"/><ellipse cx="0.6" cy="-0.4" rx="6.5" ry="3.6" fill="#f5cf9c"/></g>
<g transform="translate(324.7,255.5) rotate(-8)"><ellipse rx="10.8" ry="6.0" fill="#fcedc0" stroke="#ecd394" stroke-width="0.6"/><ellipse cx="0.6" cy="-0.4" rx="6.5" ry="3.6" fill="#f5cf9c"/></g>
<g transform="translate(357.8,255.6) rotate(-8)"><ellipse rx="10.8" ry="6.0" fill="#fcedc0" stroke="#ecd394" stroke-width="0.6"/><ellipse cx="0.6" cy="-0.4" rx="6.5" ry="3.6" fill="#f5cf9c"/></g>
<g transform="translate(391.2,251.3) rotate(-8)"><ellipse rx="10.8" ry="6.0" fill="#fcedc0" stroke="#ecd394" stroke-width="0.6"/><ellipse cx="0.6" cy="-0.4" rx="6.5" ry="3.6" fill="#f5cf9c"/></g>
<g transform="translate(337.1,277.5) rotate(-8)"><ellipse rx="10.8" ry="6.0" fill="#fcedc0" stroke="#ecd394" stroke-width="0.6"/><ellipse cx="0.6" cy="-0.4" rx="6.5" ry="3.6" fill="#f5cf9c"/></g>
<g transform="translate(376.6,279.3) rotate(-8)"><ellipse rx="10.8" ry="6.0" fill="#fcedc0" stroke="#ecd394" stroke-width="0.6"/><ellipse cx="0.6" cy="-0.4" rx="6.5" ry="3.6" fill="#f5cf9c"/></g>
<text x="315.4" y="333.8" text-anchor="middle" font-size="14.5" >...</text>
<circle cx="506.7" cy="121.4" r="7.2" fill="#d4e4ed" stroke="#bdd3de" stroke-width="0.5"/><circle cx="506.7" cy="121.4" r="3.3" fill="#b4cfe0"/>
<circle cx="498.3" cy="129.1" r="4.8" fill="#d4e4ed" stroke="#bdd3de" stroke-width="0.5"/><circle cx="498.3" cy="129.1" r="2.2" fill="#b4cfe0"/>
<circle cx="516.4" cy="127.1" r="6.0" fill="#d4e4ed" stroke="#bdd3de" stroke-width="0.5"/><circle cx="516.4" cy="127.1" r="2.7" fill="#b4cfe0"/>
<circle cx="491.5" cy="138.0" r="5.3" fill="#d4e4ed" stroke="#bdd3de" stroke-width="0.5"/><circle cx="491.5" cy="138.0" r="2.4" fill="#b4cfe0"/>
<circle cx="505.5" cy="135.1" r="6.8" fill="#d4e4ed" stroke="#bdd3de" stroke-width="0.5"/><circle cx="505.5" cy="135.1" r="3.0" fill="#b4cfe0"/>
<circle cx="527.2" cy="137.0" r="5.8" fill="#d4e4ed" stroke="#bdd3de" stroke-width="0.5"/><circle cx="527.2" cy="137.0" r="2.6" fill="#b4cfe0"/>
<circle cx="515.6" cy="139.4" r="4.8" fill="#d4e4ed" stroke="#bdd3de" stroke-width="0.5"/><circle cx="515.6" cy="139.4" r="2.2" fill="#b4cfe0"/>
<circle cx="486.0" cy="147.6" r="5.3" fill="#d4e4ed" stroke="#bdd3de" stroke-width="0.5"/><circle cx="486.0" cy="147.6" r="2.4" fill="#b4cfe0"/>
<circle cx="498.3" cy="147.6" r="4.8" fill="#d4e4ed" stroke="#bdd3de" stroke-width="0.5"/><circle cx="498.3" cy="147.6" r="2.2" fill="#b4cfe0"/>
<circle cx="509.6" cy="146.0" r="4.8" fill="#d4e4ed" stroke="#bdd3de" stroke-width="0.5"/><circle cx="509.6" cy="146.0" r="2.2" fill="#b4cfe0"/>
<circle cx="522.2" cy="147.2" r="5.3" fill="#d4e4ed" stroke="#bdd3de" stroke-width="0.5"/><circle cx="522.2" cy="147.2" r="2.4" fill="#b4cfe0"/>
<circle cx="533.3" cy="146.0" r="5.5" fill="#d4e4ed" stroke="#bdd3de" stroke-width="0.5"/><circle cx="533.3" cy="146.0" r="2.5" fill="#b4cfe0"/>
<circle cx="479.5" cy="155.6" r="6.8" fill="#d4e4ed" stroke="#bdd3de" stroke-width="0.5"/><circle cx="479.5" cy="155.6" r="3.0" fill="#b4cfe0"/>
<circle cx="492.7" cy="157.5" r="5.3" fill="#d4e4ed" stroke="#bdd3de" stroke-width="0.5"/><circle cx="492.7" cy="157.5" r="2.4" fill="#b4cfe0"/>
<circle cx="504.3" cy="157.3" r="4.8" fill="#d4e4ed" stroke="#bdd3de" stroke-width="0.5"/><circle cx="504.3" cy="157.3" r="2.2" fill="#b4cfe0"/>
<circle cx="515.6" cy="153.2" r="6.8" fill="#d4e4ed" stroke="#bdd3de" stroke-width="0.5"/><circle cx="515.6" cy="153.2" r="3.0" fill="#b4cfe0"/>
<circle cx="526.5" cy="156.3" r="5.3" fill="#d4e4ed" stroke="#bdd3de" stroke-width="0.5"/><circle cx="526.5" cy="156.3" r="2.4" fill="#b4cfe0"/>
<circle cx="538.6" cy="156.8" r="5.3" fill="#d4e4ed" stroke="#bdd3de" stroke-width="0.5"/><circle cx="538.6" cy="156.8" r="2.4" fill="#b4cfe0"/>
<circle cx="569.9" cy="118.2" r="6.0" fill="#d4e4ed" stroke="#bdd3de" stroke-width="0.5"/><circle cx="569.9" cy="118.2" r="2.7" fill="#b4cfe0"/>
<circle cx="564.4" cy="127.9" r="5.3" fill="#d4e4ed" stroke="#bdd3de" stroke-width="0.5"/><circle cx="564.4" cy="127.9" r="2.4" fill="#b4cfe0"/>
<circle cx="575.5" cy="128.6" r="6.0" fill="#d4e4ed" stroke="#bdd3de" stroke-width="0.5"/><circle cx="575.5" cy="128.6" r="2.7" fill="#b4cfe0"/>
<circle cx="557.9" cy="138.0" r="5.3" fill="#d4e4ed" stroke="#bdd3de" stroke-width="0.5"/><circle cx="557.9" cy="138.0" r="2.4" fill="#b4cfe0"/>
<circle cx="569.4" cy="138.0" r="5.3" fill="#d4e4ed" stroke="#bdd3de" stroke-width="0.5"/><circle cx="569.4" cy="138.0" r="2.4" fill="#b4cfe0"/>
<circle cx="581.5" cy="137.5" r="5.3" fill="#d4e4ed" stroke="#bdd3de" stroke-width="0.5"/><circle cx="581.5" cy="137.5" r="2.4" fill="#b4cfe0"/>
<circle cx="551.8" cy="146.4" r="4.8" fill="#d4e4ed" stroke="#bdd3de" stroke-width="0.5"/><circle cx="551.8" cy="146.4" r="2.2" fill="#b4cfe0"/>
<circle cx="563.4" cy="146.0" r="5.3" fill="#d4e4ed" stroke="#bdd3de" stroke-width="0.5"/><circle cx="563.4" cy="146.0" r="2.4" fill="#b4cfe0"/>
<circle cx="576.0" cy="146.0" r="4.8" fill="#d4e4ed" stroke="#bdd3de" stroke-width="0.5"/><circle cx="576.0" cy="146.0" r="2.2" fill="#b4cfe0"/>
<circle cx="591.2" cy="144.8" r="2.9" fill="#d4e4ed" stroke="#bdd3de" stroke-width="0.5"/><circle cx="591.2" cy="144.8" r="1.3" fill="#b4cfe0"/>
<circle cx="584.4" cy="144.0" r="5.8" fill="#d4e4ed" stroke="#bdd3de" stroke-width="0.5"/><circle cx="584.4" cy="144.0" r="2.6" fill="#b4cfe0"/>
<circle cx="548.2" cy="153.7" r="4.8" fill="#d4e4ed" stroke="#bdd3de" stroke-width="0.5"/><circle cx="548.2" cy="153.7" r="2.2" fill="#b4cfe0"/>
<circle cx="557.1" cy="155.6" r="7.2" fill="#d4e4ed" stroke="#bdd3de" stroke-width="0.5"/><circle cx="557.1" cy="155.6" r="3.3" fill="#b4cfe0"/>
<circle cx="570.4" cy="156.8" r="5.3" fill="#d4e4ed" stroke="#bdd3de" stroke-width="0.5"/><circle cx="570.4" cy="156.8" r="2.4" fill="#b4cfe0"/>
<circle cx="581.5" cy="156.8" r="5.3" fill="#d4e4ed" stroke="#bdd3de" stroke-width="0.5"/><circle cx="581.5" cy="156.8" r="2.4" fill="#b4cfe0"/>
<circle cx="591.6" cy="154.9" r="7.7" fill="#d4e4ed" stroke="#bdd3de" stroke-width="0.5"/><circle cx="591.6" cy="154.9" r="3.5" fill="#b4cfe0"/>
<circle cx="537.0" cy="280.8" r="7.1" fill="#fcedbe" stroke="#eed79c" stroke-width="0.5"/><circle cx="537.0" cy="280.8" r="3.2" fill="#f5d09c"/>
<circle cx="540.3" cy="263.5" r="7.9" fill="#fcedbe" stroke="#eed79c" stroke-width="0.5"/><circle cx="540.3" cy="263.5" r="3.6" fill="#f5d09c"/>
<circle cx="531.1" cy="272.4" r="5.6" fill="#fcedbe" stroke="#eed79c" stroke-width="0.5"/><circle cx="531.1" cy="272.4" r="2.5" fill="#f5d09c"/>
<circle cx="551.0" cy="274.4" r="5.6" fill="#fcedbe" stroke="#eed79c" stroke-width="0.5"/><circle cx="551.0" cy="274.4" r="2.5" fill="#f5d09c"/>
<circle cx="541.5" cy="274.4" r="5.6" fill="#fcedbe" stroke="#eed79c" stroke-width="0.5"/><circle cx="541.5" cy="274.4" r="2.5" fill="#f5d09c"/>
<circle cx="522.9" cy="282.6" r="5.6" fill="#fcedbe" stroke="#eed79c" stroke-width="0.5"/><circle cx="522.9" cy="282.6" r="2.5" fill="#f5d09c"/>
<circle cx="560.6" cy="281.3" r="7.1" fill="#fcedbe" stroke="#eed79c" stroke-width="0.5"/><circle cx="560.6" cy="281.3" r="3.2" fill="#f5d09c"/>
<circle cx="547.1" cy="285.9" r="5.6" fill="#fcedbe" stroke="#eed79c" stroke-width="0.5"/><circle cx="547.1" cy="285.9" r="2.5" fill="#f5d09c"/>
<circle cx="518.4" cy="292.7" r="5.6" fill="#fcedbe" stroke="#eed79c" stroke-width="0.5"/><circle cx="518.4" cy="292.7" r="2.5" fill="#f5d09c"/>
<circle cx="530.1" cy="293.5" r="5.6" fill="#fcedbe" stroke="#eed79c" stroke-width="0.5"/><circle cx="530.1" cy="293.5" r="2.5" fill="#f5d09c"/>
<circle cx="539.0" cy="294.0" r="5.6" fill="#fcedbe" stroke="#eed79c" stroke-width="0.5"/><circle cx="539.0" cy="294.0" r="2.5" fill="#f5d09c"/>
<circle cx="554.8" cy="292.2" r="6.1" fill="#fcedbe" stroke="#eed79c" stroke-width="0.5"/><circle cx="554.8" cy="292.2" r="2.8" fill="#f5d09c"/>
<circle cx="568.0" cy="293.5" r="5.9" fill="#fcedbe" stroke="#eed79c" stroke-width="0.5"/><circle cx="568.0" cy="293.5" r="2.6" fill="#f5d09c"/>
<circle cx="512.8" cy="300.6" r="5.6" fill="#fcedbe" stroke="#eed79c" stroke-width="0.5"/><circle cx="512.8" cy="300.6" r="2.5" fill="#f5d09c"/>
<circle cx="525.0" cy="301.7" r="5.6" fill="#fcedbe" stroke="#eed79c" stroke-width="0.5"/><circle cx="525.0" cy="301.7" r="2.5" fill="#f5d09c"/>
<circle cx="536.2" cy="302.9" r="5.6" fill="#fcedbe" stroke="#eed79c" stroke-width="0.5"/><circle cx="536.2" cy="302.9" r="2.5" fill="#f5d09c"/>
<circle cx="547.6" cy="301.9" r="5.6" fill="#fcedbe" stroke="#eed79c" stroke-width="0.5"/><circle cx="547.6" cy="301.9" r="2.5" fill="#f5d09c"/>
<circle cx="559.9" cy="301.7" r="5.6" fill="#fcedbe" stroke="#eed79c" stroke-width="0.5"/><circle cx="559.9" cy="301.7" r="2.5" fill="#f5d09c"/>
<circle cx="573.9" cy="305.7" r="8.4" fill="#fcedbe" stroke="#eed79c" stroke-width="0.5"/><circle cx="573.9" cy="305.7" r="3.8" fill="#f5d09c"/>
<circle cx="507.7" cy="311.8" r="7.4" fill="#fcedbe" stroke="#eed79c" stroke-width="0.5"/><circle cx="507.7" cy="311.8" r="3.3" fill="#f5d09c"/>
<circle cx="519.1" cy="312.6" r="5.1" fill="#fcedbe" stroke="#eed79c" stroke-width="0.5"/><circle cx="519.1" cy="312.6" r="2.3" fill="#f5d09c"/>
<circle cx="530.6" cy="313.9" r="6.4" fill="#fcedbe" stroke="#eed79c" stroke-width="0.5"/><circle cx="530.6" cy="313.9" r="2.9" fill="#f5d09c"/>
<circle cx="545.9" cy="312.6" r="7.9" fill="#fcedbe" stroke="#eed79c" stroke-width="0.5"/><circle cx="545.9" cy="312.6" r="3.6" fill="#f5d09c"/>
<circle cx="560.4" cy="312.1" r="5.9" fill="#fcedbe" stroke="#eed79c" stroke-width="0.5"/><circle cx="560.4" cy="312.1" r="2.6" fill="#f5d09c"/>
<circle cx="570.1" cy="314.1" r="4.3" fill="#fcedbe" stroke="#eed79c" stroke-width="0.5"/><circle cx="570.1" cy="314.1" r="1.9" fill="#f5d09c"/>
<circle cx="583.0" cy="312.1" r="6.4" fill="#fcedbe" stroke="#eed79c" stroke-width="0.5"/><circle cx="583.0" cy="312.1" r="2.9" fill="#f5d09c"/>
<line x1="542.00" y1="225.15" x2="542.00" y2="196.15" stroke="#1a1a1a" stroke-width="1.3"/>
<path d="M542.00,190.90 L545.30,198.40 L542.00,196.53 L538.70,198.40 Z" fill="#1a1a1a"/>
<path d="M542.00,230.40 L545.30,222.90 L542.00,224.78 L538.70,222.90 Z" fill="#1a1a1a"/>
<circle cx="729.7" cy="122.6" r="7.2" fill="#d4e4ed" stroke="#bdd3de" stroke-width="0.5"/><circle cx="729.7" cy="122.6" r="3.3" fill="#b4cfe0"/>
<circle cx="721.3" cy="130.3" r="4.8" fill="#d4e4ed" stroke="#bdd3de" stroke-width="0.5"/><circle cx="721.3" cy="130.3" r="2.2" fill="#b4cfe0"/>
<circle cx="739.4" cy="128.3" r="6.0" fill="#d4e4ed" stroke="#bdd3de" stroke-width="0.5"/><circle cx="739.4" cy="128.3" r="2.7" fill="#b4cfe0"/>
<circle cx="714.5" cy="139.2" r="5.3" fill="#d4e4ed" stroke="#bdd3de" stroke-width="0.5"/><circle cx="714.5" cy="139.2" r="2.4" fill="#b4cfe0"/>
<circle cx="728.5" cy="136.3" r="6.8" fill="#d4e4ed" stroke="#bdd3de" stroke-width="0.5"/><circle cx="728.5" cy="136.3" r="3.0" fill="#b4cfe0"/>
<circle cx="750.2" cy="138.2" r="5.8" fill="#d4e4ed" stroke="#bdd3de" stroke-width="0.5"/><circle cx="750.2" cy="138.2" r="2.6" fill="#b4cfe0"/>
<circle cx="738.6" cy="140.6" r="4.8" fill="#d4e4ed" stroke="#bdd3de" stroke-width="0.5"/><circle cx="738.6" cy="140.6" r="2.2" fill="#b4cfe0"/>
<circle cx="709.0" cy="148.8" r="5.3" fill="#d4e4ed" stroke="#bdd3de" stroke-width="0.5"/><circle cx="709.0" cy="148.8" r="2.4" fill="#b4cfe0"/>
<circle cx="721.3" cy="148.8" r="4.8" fill="#d4e4ed" stroke="#bdd3de" stroke-width="0.5"/><circle cx="721.3" cy="148.8" r="2.2" fill="#b4cfe0"/>
<circle cx="732.6" cy="147.2" r="4.8" fill="#d4e4ed" stroke="#bdd3de" stroke-width="0.5"/><circle cx="732.6" cy="147.2" r="2.2" fill="#b4cfe0"/>
<circle cx="745.2" cy="148.4" r="5.3" fill="#d4e4ed" stroke="#bdd3de" stroke-width="0.5"/><circle cx="745.2" cy="148.4" r="2.4" fill="#b4cfe0"/>
<circle cx="756.3" cy="147.2" r="5.5" fill="#d4e4ed" stroke="#bdd3de" stroke-width="0.5"/><circle cx="756.3" cy="147.2" r="2.5" fill="#b4cfe0"/>
<circle cx="702.5" cy="156.8" r="6.8" fill="#d4e4ed" stroke="#bdd3de" stroke-width="0.5"/><circle cx="702.5" cy="156.8" r="3.0" fill="#b4cfe0"/>
<circle cx="715.7" cy="158.7" r="5.3" fill="#d4e4ed" stroke="#bdd3de" stroke-width="0.5"/><circle cx="715.7" cy="158.7" r="2.4" fill="#b4cfe0"/>
<circle cx="727.3" cy="158.5" r="4.8" fill="#d4e4ed" stroke="#bdd3de" stroke-width="0.5"/><circle cx="727.3" cy="158.5" r="2.2" fill="#b4cfe0"/>
<circle cx="738.6" cy="154.4" r="6.8" fill="#d4e4ed" stroke="#bdd3de" stroke-width="0.5"/><circle cx="738.6" cy="154.4" r="3.0" fill="#b4cfe0"/>
<circle cx="749.5" cy="157.5" r="5.3" fill="#d4e4ed" stroke="#bdd3de" stroke-width="0.5"/><circle cx="749.5" cy="157.5" r="2.4" fill="#b4cfe0"/>
<circle cx="761.6" cy="158.0" r="5.3" fill="#d4e4ed" stroke="#bdd3de" stroke-width="0.5"/><circle cx="761.6" cy="158.0" r="2.4" fill="#b4cfe0"/>
<circle cx="792.9" cy="119.4" r="6.0" fill="#d4e4ed" stroke="#bdd3de" stroke-width="0.5"/><circle cx="792.9" cy="119.4" r="2.7" fill="#b4cfe0"/>
<circle cx="787.4" cy="129.1" r="5.3" fill="#d4e4ed" stroke="#bdd3de" stroke-width="0.5"/><circle cx="787.4" cy="129.1" r="2.4" fill="#b4cfe0"/>
<circle cx="798.5" cy="129.8" r="6.0" fill="#d4e4ed" stroke="#bdd3de" stroke-width="0.5"/><circle cx="798.5" cy="129.8" r="2.7" fill="#b4cfe0"/>
<circle cx="780.9" cy="139.2" r="5.3" fill="#d4e4ed" stroke="#bdd3de" stroke-width="0.5"/><circle cx="780.9" cy="139.2" r="2.4" fill="#b4cfe0"/>
<circle cx="792.4" cy="139.2" r="5.3" fill="#d4e4ed" stroke="#bdd3de" stroke-width="0.5"/><circle cx="792.4" cy="139.2" r="2.4" fill="#b4cfe0"/>
<circle cx="804.5" cy="138.7" r="5.3" fill="#d4e4ed" stroke="#bdd3de" stroke-width="0.5"/><circle cx="804.5" cy="138.7" r="2.4" fill="#b4cfe0"/>
<circle cx="774.8" cy="147.6" r="4.8" fill="#d4e4ed" stroke="#bdd3de" stroke-width="0.5"/><circle cx="774.8" cy="147.6" r="2.2" fill="#b4cfe0"/>
<circle cx="786.4" cy="147.2" r="5.3" fill="#d4e4ed" stroke="#bdd3de" stroke-width="0.5"/><circle cx="786.4" cy="147.2" r="2.4" fill="#b4cfe0"/>
<circle cx="799.0" cy="147.2" r="4.8" fill="#d4e4ed" stroke="#bdd3de" stroke-width="0.5"/><circle cx="799.0" cy="147.2" r="2.2" fill="#b4cfe0"/>
<circle cx="814.2" cy="146.0" r="2.9" fill="#d4e4ed" stroke="#bdd3de" stroke-width="0.5"/><circle cx="814.2" cy="146.0" r="1.3" fill="#b4cfe0"/>
<circle cx="807.4" cy="145.2" r="5.8" fill="#d4e4ed" stroke="#bdd3de" stroke-width="0.5"/><circle cx="807.4" cy="145.2" r="2.6" fill="#b4cfe0"/>
<circle cx="771.2" cy="154.9" r="4.8" fill="#d4e4ed" stroke="#bdd3de" stroke-width="0.5"/><circle cx="771.2" cy="154.9" r="2.2" fill="#b4cfe0"/>
<circle cx="780.1" cy="156.8" r="7.2" fill="#d4e4ed" stroke="#bdd3de" stroke-width="0.5"/><circle cx="780.1" cy="156.8" r="3.3" fill="#b4cfe0"/>
<circle cx="793.4" cy="158.0" r="5.3" fill="#d4e4ed" stroke="#bdd3de" stroke-width="0.5"/><circle cx="793.4" cy="158.0" r="2.4" fill="#b4cfe0"/>
<circle cx="804.5" cy="158.0" r="5.3" fill="#d4e4ed" stroke="#bdd3de" stroke-width="0.5"/><circle cx="804.5" cy="158.0" r="2.4" fill="#b4cfe0"/>
<circle cx="814.6" cy="156.1" r="7.7" fill="#d4e4ed" stroke="#bdd3de" stroke-width="0.5"/><circle cx="814.6" cy="156.1" r="3.5" fill="#b4cfe0"/>
<circle cx="761.0" cy="281.0" r="7.1" fill="#fcedbe" stroke="#eed79c" stroke-width="0.5"/><circle cx="761.0" cy="281.0" r="3.2" fill="#f5d09c"/>
<circle cx="764.3" cy="263.7" r="7.9" fill="#fcedbe" stroke="#eed79c" stroke-width="0.5"/><circle cx="764.3" cy="263.7" r="3.6" fill="#f5d09c"/>
<circle cx="755.1" cy="272.6" r="5.6" fill="#fcedbe" stroke="#eed79c" stroke-width="0.5"/><circle cx="755.1" cy="272.6" r="2.5" fill="#f5d09c"/>
<circle cx="775.0" cy="274.6" r="5.6" fill="#fcedbe" stroke="#eed79c" stroke-width="0.5"/><circle cx="775.0" cy="274.6" r="2.5" fill="#f5d09c"/>
<circle cx="765.5" cy="274.6" r="5.6" fill="#fcedbe" stroke="#eed79c" stroke-width="0.5"/><circle cx="765.5" cy="274.6" r="2.5" fill="#f5d09c"/>
<circle cx="746.9" cy="282.8" r="5.6" fill="#fcedbe" stroke="#eed79c" stroke-width="0.5"/><circle cx="746.9" cy="282.8" r="2.5" fill="#f5d09c"/>
<circle cx="784.6" cy="281.5" r="7.1" fill="#fcedbe" stroke="#eed79c" stroke-width="0.5"/><circle cx="784.6" cy="281.5" r="3.2" fill="#f5d09c"/>
<circle cx="771.1" cy="286.1" r="5.6" fill="#fcedbe" stroke="#eed79c" stroke-width="0.5"/><circle cx="771.1" cy="286.1" r="2.5" fill="#f5d09c"/>
<circle cx="742.4" cy="292.9" r="5.6" fill="#fcedbe" stroke="#eed79c" stroke-width="0.5"/><circle cx="742.4" cy="292.9" r="2.5" fill="#f5d09c"/>
<circle cx="754.1" cy="293.7" r="5.6" fill="#fcedbe" stroke="#eed79c" stroke-width="0.5"/><circle cx="754.1" cy="293.7" r="2.5" fill="#f5d09c"/>
<circle cx="763.0" cy="294.2" r="5.6" fill="#fcedbe" stroke="#eed79c" stroke-width="0.5"/><circle cx="763.0" cy="294.2" r="2.5" fill="#f5d09c"/>
<circle cx="778.8" cy="292.4" r="6.1" fill="#fcedbe" stroke="#eed79c" stroke-width="0.5"/><circle cx="778.8" cy="292.4" r="2.8" fill="#f5d09c"/>
<circle cx="792.0" cy="293.7" r="5.9" fill="#fcedbe" stroke="#eed79c" stroke-width="0.5"/><circle cx="792.0" cy="293.7" r="2.6" fill="#f5d09c"/>
<circle cx="736.8" cy="300.8" r="5.6" fill="#fcedbe" stroke="#eed79c" stroke-width="0.5"/><circle cx="736.8" cy="300.8" r="2.5" fill="#f5d09c"/>
<circle cx="749.0" cy="301.9" r="5.6" fill="#fcedbe" stroke="#eed79c" stroke-width="0.5"/><circle cx="749.0" cy="301.9" r="2.5" fill="#f5d09c"/>
<circle cx="760.2" cy="303.1" r="5.6" fill="#fcedbe" stroke="#eed79c" stroke-width="0.5"/><circle cx="760.2" cy="303.1" r="2.5" fill="#f5d09c"/>
<circle cx="771.6" cy="302.1" r="5.6" fill="#fcedbe" stroke="#eed79c" stroke-width="0.5"/><circle cx="771.6" cy="302.1" r="2.5" fill="#f5d09c"/>
<circle cx="783.9" cy="301.9" r="5.6" fill="#fcedbe" stroke="#eed79c" stroke-width="0.5"/><circle cx="783.9" cy="301.9" r="2.5" fill="#f5d09c"/>
<circle cx="797.9" cy="305.9" r="8.4" fill="#fcedbe" stroke="#eed79c" stroke-width="0.5"/><circle cx="797.9" cy="305.9" r="3.8" fill="#f5d09c"/>
<circle cx="731.7" cy="312.0" r="7.4" fill="#fcedbe" stroke="#eed79c" stroke-width="0.5"/><circle cx="731.7" cy="312.0" r="3.3" fill="#f5d09c"/>
<circle cx="743.1" cy="312.8" r="5.1" fill="#fcedbe" stroke="#eed79c" stroke-width="0.5"/><circle cx="743.1" cy="312.8" r="2.3" fill="#f5d09c"/>
<circle cx="754.6" cy="314.1" r="6.4" fill="#fcedbe" stroke="#eed79c" stroke-width="0.5"/><circle cx="754.6" cy="314.1" r="2.9" fill="#f5d09c"/>
<circle cx="769.9" cy="312.8" r="7.9" fill="#fcedbe" stroke="#eed79c" stroke-width="0.5"/><circle cx="769.9" cy="312.8" r="3.6" fill="#f5d09c"/>
<circle cx="784.4" cy="312.3" r="5.9" fill="#fcedbe" stroke="#eed79c" stroke-width="0.5"/><circle cx="784.4" cy="312.3" r="2.6" fill="#f5d09c"/>
<circle cx="794.1" cy="314.3" r="4.3" fill="#fcedbe" stroke="#eed79c" stroke-width="0.5"/><circle cx="794.1" cy="314.3" r="1.9" fill="#f5d09c"/>
<circle cx="807.0" cy="312.3" r="6.4" fill="#fcedbe" stroke="#eed79c" stroke-width="0.5"/><circle cx="807.0" cy="312.3" r="2.9" fill="#f5d09c"/>
<line x1="706.38" y1="168.87" x2="723.02" y2="307.73" stroke="#9a9a9a" stroke-width="1.3" stroke-dasharray="3.3,2.3"/>
<path d="M723.60,312.60 L719.69,306.02 L723.02,307.73 L725.85,305.28 Z" fill="#9a9a9a"/>
<path d="M705.80,164.00 L703.55,171.32 L706.38,168.87 L709.71,170.58 Z" fill="#9a9a9a"/>
<line x1="718.46" y1="171.88" x2="730.54" y2="298.82" stroke="#7a7a7a" stroke-width="1.3" stroke-dasharray="3.3,2.3"/>
<path d="M731.00,303.70 L727.25,297.02 L730.54,298.82 L733.42,296.44 Z" fill="#7a7a7a"/>
<path d="M718.00,167.00 L715.58,174.26 L718.46,171.88 L721.75,173.68 Z" fill="#7a7a7a"/>
<line x1="745.35" y1="168.86" x2="728.65" y2="293.74" stroke="#bcbcbc" stroke-width="1.3" stroke-dasharray="3.3,2.3"/>
<path d="M728.00,298.60 L725.86,291.25 L728.65,293.74 L732.00,292.07 Z" fill="#bcbcbc"/>
<path d="M746.00,164.00 L742.00,170.53 L745.35,168.86 L748.14,171.35 Z" fill="#bcbcbc"/>
<line x1="740.90" y1="167.40" x2="740.90" y2="273.80" stroke="#c2c2c2" stroke-width="1.3" stroke-dasharray="3.3,2.3"/>
<path d="M740.90,278.70 L737.80,271.70 L740.90,273.80 L744.00,271.70 Z" fill="#c2c2c2"/>
<path d="M740.90,162.50 L737.80,169.50 L740.90,167.40 L744.00,169.50 Z" fill="#c2c2c2"/>
<line x1="732.64" y1="168.09" x2="751.76" y2="256.21" stroke="#bcbcbc" stroke-width="1.3" stroke-dasharray="3.3,2.3"/>
<path d="M752.80,261.00 L748.29,254.82 L751.76,256.21 L754.35,253.50 Z" fill="#bcbcbc"/>
<path d="M731.60,163.30 L730.05,170.80 L732.64,168.09 L736.11,169.48 Z" fill="#bcbcbc"/>
<line x1="762.93" y1="170.40" x2="761.77" y2="251.40" stroke="#bcbcbc" stroke-width="1.3" stroke-dasharray="3.3,2.3"/>
<path d="M761.70,256.30 L758.70,249.26 L761.77,251.40 L764.90,249.35 Z" fill="#bcbcbc"/>
<path d="M763.00,165.50 L759.80,172.45 L762.93,170.40 L766.00,172.54 Z" fill="#bcbcbc"/>
<line x1="789.07" y1="173.71" x2="773.23" y2="255.39" stroke="#bcbcbc" stroke-width="1.3" stroke-dasharray="3.3,2.3"/>
<path d="M772.30,260.20 L770.59,252.74 L773.23,255.39 L776.68,253.92 Z" fill="#bcbcbc"/>
<path d="M790.00,168.90 L785.62,175.18 L789.07,173.71 L791.71,176.36 Z" fill="#bcbcbc"/>
<line x1="812.07" y1="171.77" x2="787.83" y2="273.93" stroke="#6a6a6a" stroke-width="1.3" stroke-dasharray="3.3,2.3"/>
<path d="M786.70,278.70 L785.30,271.17 L787.83,273.93 L791.33,272.60 Z" fill="#6a6a6a"/>
<path d="M813.20,167.00 L808.57,173.10 L812.07,171.77 L814.60,174.53 Z" fill="#6a6a6a"/>
<line x1="773.20" y1="167.82" x2="793.10" y2="274.58" stroke="#777" stroke-width="1.3" stroke-dasharray="3.3,2.3"/>
<path d="M794.00,279.40 L789.67,273.09 L793.10,274.58 L795.76,271.95 Z" fill="#777"/>
<path d="M772.30,163.00 L770.54,170.45 L773.20,167.82 L776.63,169.31 Z" fill="#777"/>
<line x1="801.42" y1="169.60" x2="801.78" y2="283.40" stroke="#bcbcbc" stroke-width="1.3" stroke-dasharray="3.3,2.3"/>
<path d="M801.80,288.30 L798.68,281.31 L801.78,283.40 L804.88,281.29 Z" fill="#bcbcbc"/>
<path d="M801.40,164.70 L798.32,171.71 L801.42,169.60 L804.52,171.69 Z" fill="#bcbcbc"/>
<line x1="783.00" y1="169.33" x2="803.60" y2="294.47" stroke="#808080" stroke-width="1.3" stroke-dasharray="3.3,2.3"/>
<path d="M804.40,299.30 L800.20,292.90 L803.60,294.47 L806.32,291.89 Z" fill="#808080"/>
<path d="M782.20,164.50 L780.28,171.91 L783.00,169.33 L786.40,170.90 Z" fill="#808080"/>
<text x="978.3" y="92.5" text-anchor="middle" font-size="14.5" textLength="141.1" lengthAdjust="spacingAndGlyphs" >Interpolation between</text>
<text x="907.6" y="107.8" font-size="14.5">time points</text>
<path d="M922.69,126.07 C924.17,126.07 926.20,126.61 927.55,127.69 C928.90,128.77 930.11,131.06 930.79,132.55 C931.46,134.03 931.06,135.11 931.60,136.60 C932.14,138.08 933.57,139.57 934.03,141.46 C934.49,143.35 934.76,145.92 934.35,147.94 C933.95,149.97 933.00,152.08 931.60,153.61 C930.19,155.15 927.95,156.50 925.93,157.18 C923.90,157.85 921.47,158.12 919.45,157.67 C917.42,157.21 915.18,155.78 913.77,154.42 C912.37,153.07 911.37,151.32 911.02,149.56 C910.67,147.81 911.07,145.51 911.67,143.89 C912.26,142.27 913.69,140.79 914.58,139.84 C915.48,138.90 916.88,139.03 917.02,138.22 C917.15,137.41 915.53,136.19 915.39,134.98 C915.26,133.76 915.66,132.14 916.20,130.93 C916.74,129.71 917.56,128.50 918.64,127.69 C919.72,126.88 921.20,126.07 922.69,126.07 Z" fill="#a4abc9"/>
<rect x="958.3" y="113.4" width="44.4" height="57" fill="none" stroke="#1a1a1a" stroke-width="1.2"/>
<path d="M977.78,119.58 C980.08,119.31 983.72,120.12 985.89,121.20 C988.05,122.29 989.13,124.31 990.75,126.07 C992.37,127.82 994.58,129.58 995.61,131.74 C996.63,133.90 997.04,136.33 996.90,139.03 C996.77,141.73 995.96,145.24 994.80,147.94 C993.64,150.64 991.96,153.07 989.94,155.23 C987.91,157.40 985.21,159.69 982.64,160.91 C980.08,162.12 976.97,162.80 974.54,162.53 C972.11,162.26 969.63,160.91 968.06,159.29 C966.49,157.67 965.41,154.96 965.14,152.80 C964.87,150.64 965.68,148.21 966.44,146.32 C967.20,144.43 968.74,142.68 969.68,141.46 C970.63,140.25 972.25,139.98 972.11,139.03 C971.98,138.08 969.41,137.41 968.87,135.79 C968.33,134.17 968.33,131.47 968.87,129.31 C969.41,127.15 970.63,124.45 972.11,122.83 C973.60,121.20 975.49,119.85 977.78,119.58 Z" fill="#c6cadd"/>
<path d="M972,148.5 C973.5,144 976.5,142.3 979.5,142.8" fill="none" stroke="#e9ebf3" stroke-width="0.9" stroke-linecap="round"/>
<line x1="938.4" y1="143.4" x2="957.7" y2="143.4" stroke="#1a1a1a" stroke-width="1.3"/>
<line x1="1002.80" y1="143.20" x2="1017.35" y2="143.20" stroke="#1a1a1a" stroke-width="1.3"/>
<path d="M1022.60,143.20 L1015.10,146.50 L1016.98,143.20 L1015.10,139.90 Z" fill="#1a1a1a"/>
<path d="M1050.70,115.05 C1053.41,114.70 1057.19,115.37 1059.62,116.67 C1062.05,117.96 1064.29,120.18 1065.29,122.83 C1066.29,125.47 1065.48,129.04 1065.61,132.55 C1065.75,136.06 1065.88,140.38 1066.10,143.89 C1066.32,147.40 1067.04,150.64 1066.91,153.61 C1066.77,156.59 1066.50,159.42 1065.29,161.72 C1064.07,164.01 1062.05,166.31 1059.62,167.39 C1057.19,168.47 1053.41,168.60 1050.70,168.20 C1048.00,167.79 1045.44,166.31 1043.41,164.96 C1041.39,163.61 1039.55,161.85 1038.55,160.10 C1037.55,158.34 1037.15,155.78 1037.42,154.42 C1037.69,153.07 1039.31,152.53 1040.17,151.99 C1041.04,151.45 1041.93,150.91 1042.60,151.18 C1043.28,151.45 1043.55,154.02 1044.22,153.61 C1044.90,153.21 1046.38,150.51 1046.65,148.75 C1046.92,147.00 1046.79,144.03 1045.84,143.08 C1044.90,142.14 1042.60,142.95 1040.98,143.08 C1039.36,143.22 1037.20,144.30 1036.12,143.89 C1035.04,143.49 1034.37,141.60 1034.50,140.65 C1034.64,139.71 1035.58,138.76 1036.93,138.22 C1038.28,137.68 1040.98,137.41 1042.60,137.41 C1044.22,137.41 1045.79,138.76 1046.65,138.22 C1047.52,137.68 1047.92,135.38 1047.79,134.17 C1047.65,132.95 1046.98,131.74 1045.84,130.93 C1044.71,130.12 1042.12,130.25 1040.98,129.31 C1039.85,128.36 1039.44,126.61 1039.04,125.26 C1038.63,123.91 1037.82,122.29 1038.55,121.20 C1039.28,120.12 1041.39,119.80 1043.41,118.77 C1045.44,117.75 1048.00,115.40 1050.70,115.05 Z" fill="#fbe38c"/>
<path d="M1056.38,122.02 C1057.32,122.56 1061.24,123.64 1062.05,125.26 C1062.86,126.88 1061.37,130.66 1061.24,131.74" fill="none" stroke="#f2d672" stroke-width="0.7" stroke-linecap="round"/>
<path d="M1041.79,151.99 C1042.47,153.07 1044.09,156.59 1045.84,158.48 C1047.60,160.37 1051.25,162.53 1052.33,163.34" fill="none" stroke="#f2d672" stroke-width="0.7" stroke-linecap="round"/>
<path d="M917.02,137.90 C917.56,137.54 919.04,136.06 920.26,135.79 C921.47,135.52 923.82,135.60 924.31,136.28 C924.79,136.95 923.36,139.25 923.17,139.84" fill="none" stroke="#949bbd" stroke-width="0.7" stroke-linecap="round"/>
<circle cx="921.2" cy="141.0" r="0.8" fill="#f4f4f8"/>
<path d="M971.30,139.35 C971.98,139.03 974.00,137.60 975.35,137.41 C976.70,137.22 979.00,137.54 979.40,138.22 C979.81,138.90 978.05,140.92 977.78,141.46" fill="none" stroke="#b4b9d0" stroke-width="0.7" stroke-linecap="round"/>
<path d="M990.75,127.69 C991.42,129.04 994.26,132.82 994.80,135.79 C995.34,138.76 994.12,143.89 993.99,145.51" fill="none" stroke="#b9bdd3" stroke-width="0.7" stroke-linecap="round"/>
<text x="962.8" y="229.0" text-anchor="middle" font-size="14.5" textLength="109.4" lengthAdjust="spacingAndGlyphs" >Tissue alignment</text>
<use href="#tisB" x="872.8" y="-7.7"/>
<use href="#tisY" x="916.1" y="24.2"/>
<line x1="956.00" y1="277.70" x2="1015.45" y2="277.70" stroke="#1a1a1a" stroke-width="1.3"/>
<path d="M1020.70,277.70 L1013.20,281.00 L1015.08,277.70 L1013.20,274.40 Z" fill="#1a1a1a"/>
<path d="M977.5,291 C968,291 968,257.2 977.5,257.2 C983,257.2 985,262 985.6,267.5" fill="none" stroke="#1a1a1a" stroke-width="1.2"/>
<path d="M986.2,269.5 L982,263.2 L985,264.2 L988.6,262.2 Z" fill="#1a1a1a"/>
<text x="987.0" y="334.8" text-anchor="middle" font-size="14.5" >...</text>
<text x="232.2" y="387.8" text-anchor="middle" font-size="14.5" textLength="55.6" lengthAdjust="spacingAndGlyphs" >Modality</text>
<text x="571.1" y="387.9" text-anchor="middle" font-size="14.5" textLength="66.6" lengthAdjust="spacingAndGlyphs" >Scalability</text>
<text x="899.5" y="387.7" text-anchor="middle" font-size="14.5" textLength="118.3" lengthAdjust="spacingAndGlyphs" >Unified framework</text>
<rect x="1.1" y="402.0" width="55.8" height="158.2" rx="10" ry="10" fill="#fdfbfb" stroke="#87898b" stroke-width="1.5"/>
<rect x="1.1" y="583.0" width="55.8" height="159.0" rx="10" ry="10" fill="#fdfbfb" stroke="#87898b" stroke-width="1.5"/>
<text transform="translate(25.2,481.6) rotate(-90)" text-anchor="middle" font-size="14.5" textLength="119.0" lengthAdjust="spacingAndGlyphs">Current single-cell</text>
<text transform="translate(41.6,483.2) rotate(-90)" text-anchor="middle" font-size="14.5" textLength="103.3" lengthAdjust="spacingAndGlyphs">OT applications</text>
<text transform="translate(33.7,662.9) rotate(-90)" text-anchor="middle" font-size="14.5" textLength="49.4" lengthAdjust="spacingAndGlyphs">Moscot</text>
<rect x="81.5" y="398.8" width="301.3" height="165.6" rx="6" ry="6" fill="#fdfbfb" stroke="#87898b" stroke-width="1.3"/>
<rect x="81.5" y="579.5" width="301.3" height="165.6" rx="6" ry="6" fill="#fdfbfb" stroke="#87898b" stroke-width="1.3"/>
<rect x="420.8" y="398.7" width="301.6" height="165.7" rx="6" ry="6" fill="#fdfbfb" stroke="#87898b" stroke-width="1.3"/>
<rect x="420.8" y="579.4" width="301.6" height="165.7" rx="6" ry="6" fill="#fdfbfb" stroke="#87898b" stroke-width="1.3"/>
<rect x="748.5" y="398.7" width="301.8" height="165.7" rx="6" ry="6" fill="#fdfbfb" stroke="#87898b" stroke-width="1.3"/>
<rect x="748.5" y="579.4" width="301.8" height="165.7" rx="6" ry="6" fill="#fdfbfb" stroke="#87898b" stroke-width="1.3"/>
<text transform="translate(110.2,479.6) rotate(-90)" text-anchor="middle" font-size="14.5">Unimodal</text>
<circle cx="164.9" cy="476.8" r="39.5" fill="#dbe1f3" stroke="#8ea6d6" stroke-width="2.9" stroke-dasharray="18.37,6.45" stroke-linecap="round" transform="rotate(0 164.9 476.8)"/>
<circle cx="155.1" cy="471.5" r="12" fill="#8fa4d5"/>
<path d="M144.80,451.64 L145.35,451.54 L145.90,451.27 L146.45,450.84 L146.99,450.28 L147.54,449.65 L148.09,448.99 L148.64,448.36 L149.19,447.80 L149.74,447.37 L150.28,447.10 L150.83,447.00 L151.38,447.10 L151.93,447.37 L152.48,447.80 L153.03,448.36 L153.58,448.99 L154.12,449.65 L154.67,450.28 L155.22,450.84 L155.77,451.27 L156.32,451.54 L156.87,451.64 L157.42,451.54 L157.96,451.27 L158.51,450.84 L159.06,450.28 L159.61,449.65 L160.16,448.99 L160.71,448.36 L161.25,447.80 L161.80,447.37 L162.35,447.10 L162.90,447.00 L163.45,447.10 L164.00,447.37 L164.55,447.80 L165.09,448.36 L165.64,448.99 L166.19,449.65 L166.74,450.28 L167.29,450.84 L167.84,451.27 L168.38,451.54 L168.93,451.64 L169.48,451.54 L170.03,451.27 L170.58,450.84 L171.13,450.28 L171.68,449.65 L172.22,448.99 L172.77,448.36 L173.32,447.80 L173.87,447.37 L174.42,447.10 L174.97,447.00 L175.52,447.10 L176.06,447.37 L176.61,447.80 L177.16,448.36 L177.71,448.99 L178.26,449.65 L178.81,450.28 L179.35,450.84 L179.90,451.27 L180.45,451.54 L181.00,451.64" fill="none" stroke="#bd5fb2" stroke-width="1.1" stroke-linecap="round" stroke-linejoin="round"/>
<path d="M144.80,457.00 L145.35,456.90 L145.90,456.63 L146.45,456.20 L146.99,455.64 L147.54,455.01 L148.09,454.35 L148.64,453.72 L149.19,453.16 L149.74,452.73 L150.28,452.46 L150.83,452.36 L151.38,452.46 L151.93,452.73 L152.48,453.16 L153.03,453.72 L153.58,454.35 L154.12,455.01 L154.67,455.64 L155.22,456.20 L155.77,456.63 L156.32,456.90 L156.87,457.00 L157.42,456.90 L157.96,456.63 L158.51,456.20 L159.06,455.64 L159.61,455.01 L160.16,454.35 L160.71,453.72 L161.25,453.16 L161.80,452.73 L162.35,452.46 L162.90,452.36 L163.45,452.46 L164.00,452.73 L164.55,453.16 L165.09,453.72 L165.64,454.35 L166.19,455.01 L166.74,455.64 L167.29,456.20 L167.84,456.63 L168.38,456.90 L168.93,457.00 L169.48,456.90 L170.03,456.63 L170.58,456.20 L171.13,455.64 L171.68,455.01 L172.22,454.35 L172.77,453.72 L173.32,453.16 L173.87,452.73 L174.42,452.46 L174.97,452.36 L175.52,452.46 L176.06,452.73 L176.61,453.16 L177.16,453.72 L177.71,454.35 L178.26,455.01 L178.81,455.64 L179.35,456.20 L179.90,456.63 L180.45,456.90 L181.00,457.00" fill="none" stroke="#bd5fb2" stroke-width="1.1" stroke-linecap="round" stroke-linejoin="round"/>
<path d="M169.40,468.72 L169.83,468.64 L170.26,468.43 L170.70,468.09 L171.13,467.65 L171.56,467.15 L171.99,466.63 L172.42,466.13 L172.85,465.70 L173.29,465.36 L173.72,465.14 L174.15,465.07 L174.58,465.14 L175.01,465.36 L175.45,465.70 L175.88,466.13 L176.31,466.63 L176.74,467.15 L177.17,467.65 L177.60,468.09 L178.04,468.43 L178.47,468.64 L178.90,468.72 L179.33,468.64 L179.76,468.43 L180.20,468.09 L180.63,467.65 L181.06,467.15 L181.49,466.63 L181.92,466.13 L182.35,465.70 L182.79,465.36 L183.22,465.14 L183.65,465.07 L184.08,465.14 L184.51,465.36 L184.95,465.70 L185.38,466.13 L185.81,466.63 L186.24,467.15 L186.67,467.65 L187.10,468.09 L187.54,468.43 L187.97,468.64 L188.40,468.72 L188.83,468.64 L189.26,468.43 L189.70,468.09 L190.13,467.65 L190.56,467.15 L190.99,466.63 L191.42,466.13 L191.85,465.70 L192.29,465.36 L192.72,465.14 L193.15,465.07 L193.58,465.14 L194.01,465.36 L194.45,465.70 L194.88,466.13 L195.31,466.63 L195.74,467.15 L196.17,467.65 L196.60,468.09 L197.04,468.43 L197.47,468.64 L197.90,468.72" fill="none" stroke="#bd5fb2" stroke-width="1.1" stroke-linecap="round" stroke-linejoin="round"/>
<path d="M169.40,472.93 L169.83,472.86 L170.26,472.64 L170.70,472.30 L171.13,471.87 L171.56,471.37 L171.99,470.85 L172.42,470.35 L172.85,469.91 L173.29,469.57 L173.72,469.36 L174.15,469.28 L174.58,469.36 L175.01,469.57 L175.45,469.91 L175.88,470.35 L176.31,470.85 L176.74,471.37 L177.17,471.87 L177.60,472.30 L178.04,472.64 L178.47,472.86 L178.90,472.93 L179.33,472.86 L179.76,472.64 L180.20,472.30 L180.63,471.87 L181.06,471.37 L181.49,470.85 L181.92,470.35 L182.35,469.91 L182.79,469.57 L183.22,469.36 L183.65,469.28 L184.08,469.36 L184.51,469.57 L184.95,469.91 L185.38,470.35 L185.81,470.85 L186.24,471.37 L186.67,471.87 L187.10,472.30 L187.54,472.64 L187.97,472.86 L188.40,472.93 L188.83,472.86 L189.26,472.64 L189.70,472.30 L190.13,471.87 L190.56,471.37 L190.99,470.85 L191.42,470.35 L191.85,469.91 L192.29,469.57 L192.72,469.36 L193.15,469.28 L193.58,469.36 L194.01,469.57 L194.45,469.91 L194.88,470.35 L195.31,470.85 L195.74,471.37 L196.17,471.87 L196.60,472.30 L197.04,472.64 L197.47,472.86 L197.90,472.93" fill="none" stroke="#bd5fb2" stroke-width="1.1" stroke-linecap="round" stroke-linejoin="round"/>
<path d="M136.20,490.60 L136.65,490.53 L137.09,490.31 L137.54,489.95 L137.99,489.50 L138.43,488.99 L138.88,488.45 L139.33,487.93 L139.78,487.48 L140.22,487.13 L140.67,486.91 L141.12,486.83 L141.56,486.91 L142.01,487.13 L142.46,487.48 L142.90,487.93 L143.35,488.45 L143.80,488.99 L144.25,489.50 L144.69,489.95 L145.14,490.31 L145.59,490.53 L146.03,490.60 L146.48,490.53 L146.93,490.31 L147.37,489.95 L147.82,489.50 L148.27,488.99 L148.72,488.45 L149.16,487.93 L149.61,487.48 L150.06,487.13 L150.50,486.91 L150.95,486.83 L151.40,486.91 L151.84,487.13 L152.29,487.48 L152.74,487.93 L153.18,488.45 L153.63,488.99 L154.08,489.50 L154.53,489.95 L154.97,490.31 L155.42,490.53 L155.87,490.60 L156.31,490.53 L156.76,490.31 L157.21,489.95 L157.65,489.50 L158.10,488.99 L158.55,488.45 L159.00,487.93 L159.44,487.48 L159.89,487.13 L160.34,486.91 L160.78,486.83 L161.23,486.91 L161.68,487.13 L162.12,487.48 L162.57,487.93 L163.02,488.45 L163.47,488.99 L163.91,489.50 L164.36,489.95 L164.81,490.31 L165.25,490.53 L165.70,490.60" fill="none" stroke="#bd5fb2" stroke-width="1.1" stroke-linecap="round" stroke-linejoin="round"/>
<path d="M136.20,494.97 L136.65,494.89 L137.09,494.67 L137.54,494.32 L137.99,493.87 L138.43,493.35 L138.88,492.81 L139.33,492.30 L139.78,491.85 L140.22,491.49 L140.67,491.27 L141.12,491.19 L141.56,491.27 L142.01,491.49 L142.46,491.85 L142.90,492.30 L143.35,492.81 L143.80,493.35 L144.25,493.87 L144.69,494.32 L145.14,494.67 L145.59,494.89 L146.03,494.97 L146.48,494.89 L146.93,494.67 L147.37,494.32 L147.82,493.87 L148.27,493.35 L148.72,492.81 L149.16,492.30 L149.61,491.85 L150.06,491.49 L150.50,491.27 L150.95,491.19 L151.40,491.27 L151.84,491.49 L152.29,491.85 L152.74,492.30 L153.18,492.81 L153.63,493.35 L154.08,493.87 L154.53,494.32 L154.97,494.67 L155.42,494.89 L155.87,494.97 L156.31,494.89 L156.76,494.67 L157.21,494.32 L157.65,493.87 L158.10,493.35 L158.55,492.81 L159.00,492.30 L159.44,491.85 L159.89,491.49 L160.34,491.27 L160.78,491.19 L161.23,491.27 L161.68,491.49 L162.12,491.85 L162.57,492.30 L163.02,492.81 L163.47,493.35 L163.91,493.87 L164.36,494.32 L164.81,494.67 L165.25,494.89 L165.70,494.97" fill="none" stroke="#bd5fb2" stroke-width="1.1" stroke-linecap="round" stroke-linejoin="round"/>
<path d="M156.80,501.70 L157.26,501.62 L157.71,501.39 L158.17,501.03 L158.62,500.57 L159.08,500.05 L159.54,499.50 L159.99,498.97 L160.45,498.51 L160.90,498.15 L161.36,497.92 L161.82,497.85 L162.27,497.92 L162.73,498.15 L163.18,498.51 L163.64,498.97 L164.10,499.50 L164.55,500.05 L165.01,500.57 L165.47,501.03 L165.92,501.39 L166.38,501.62 L166.83,501.70 L167.29,501.62 L167.75,501.39 L168.20,501.03 L168.66,500.57 L169.11,500.05 L169.57,499.50 L170.03,498.97 L170.48,498.51 L170.94,498.15 L171.39,497.92 L171.85,497.85 L172.31,497.92 L172.76,498.15 L173.22,498.51 L173.67,498.97 L174.13,499.50 L174.59,500.05 L175.04,500.57 L175.50,501.03 L175.95,501.39 L176.41,501.62 L176.87,501.70 L177.32,501.62 L177.78,501.39 L178.23,501.03 L178.69,500.57 L179.15,500.05 L179.60,499.50 L180.06,498.97 L180.52,498.51 L180.97,498.15 L181.43,497.92 L181.88,497.85 L182.34,497.92 L182.80,498.15 L183.25,498.51 L183.71,498.97 L184.16,499.50 L184.62,500.05 L185.08,500.57 L185.53,501.03 L185.99,501.39 L186.44,501.62 L186.90,501.70" fill="none" stroke="#bd5fb2" stroke-width="1.1" stroke-linecap="round" stroke-linejoin="round"/>
<path d="M156.80,506.15 L157.26,506.08 L157.71,505.85 L158.17,505.49 L158.62,505.03 L159.08,504.50 L159.54,503.95 L159.99,503.43 L160.45,502.97 L160.90,502.61 L161.36,502.38 L161.82,502.30 L162.27,502.38 L162.73,502.61 L163.18,502.97 L163.64,503.43 L164.10,503.95 L164.55,504.50 L165.01,505.03 L165.47,505.49 L165.92,505.85 L166.38,506.08 L166.83,506.15 L167.29,506.08 L167.75,505.85 L168.20,505.49 L168.66,505.03 L169.11,504.50 L169.57,503.95 L170.03,503.43 L170.48,502.97 L170.94,502.61 L171.39,502.38 L171.85,502.30 L172.31,502.38 L172.76,502.61 L173.22,502.97 L173.67,503.43 L174.13,503.95 L174.59,504.50 L175.04,505.03 L175.50,505.49 L175.95,505.85 L176.41,506.08 L176.87,506.15 L177.32,506.08 L177.78,505.85 L178.23,505.49 L178.69,505.03 L179.15,504.50 L179.60,503.95 L180.06,503.43 L180.52,502.97 L180.97,502.61 L181.43,502.38 L181.88,502.30 L182.34,502.38 L182.80,502.61 L183.25,502.97 L183.71,503.43 L184.16,503.95 L184.62,504.50 L185.08,505.03 L185.53,505.49 L185.99,505.85 L186.44,506.08 L186.90,506.15" fill="none" stroke="#bd5fb2" stroke-width="1.1" stroke-linecap="round" stroke-linejoin="round"/>
<line x1="225.35" y1="473.60" x2="253.75" y2="473.60" stroke="#1a1a1a" stroke-width="1.3"/>
<path d="M259.00,473.60 L251.50,476.90 L253.38,473.60 L251.50,470.30 Z" fill="#1a1a1a"/>
<path d="M220.10,473.60 L227.60,476.90 L225.72,473.60 L227.60,470.30 Z" fill="#1a1a1a"/>
<circle cx="312.1" cy="476.8" r="39.5" fill="#fdf5d2" stroke="#f8e08c" stroke-width="2.9" stroke-dasharray="18.37,6.45" stroke-linecap="round" transform="rotate(0 312.1 476.8)"/>
<circle cx="301.9" cy="471.7" r="12" fill="#fae48e"/>
<path d="M291.20,451.73 L291.76,451.63 L292.32,451.35 L292.88,450.91 L293.44,450.35 L294.00,449.70 L294.56,449.02 L295.12,448.38 L295.68,447.81 L296.25,447.37 L296.81,447.09 L297.37,446.99 L297.93,447.09 L298.49,447.37 L299.05,447.81 L299.61,448.38 L300.17,449.02 L300.73,449.70 L301.29,450.35 L301.85,450.91 L302.41,451.35 L302.97,451.63 L303.53,451.73 L304.09,451.63 L304.65,451.35 L305.22,450.91 L305.78,450.35 L306.34,449.70 L306.90,449.02 L307.46,448.38 L308.02,447.81 L308.58,447.37 L309.14,447.09 L309.70,446.99 L310.26,447.09 L310.82,447.37 L311.38,447.81 L311.94,448.38 L312.50,449.02 L313.06,449.70 L313.62,450.35 L314.18,450.91 L314.75,451.35 L315.31,451.63 L315.87,451.73 L316.43,451.63 L316.99,451.35 L317.55,450.91 L318.11,450.35 L318.67,449.70 L319.23,449.02 L319.79,448.38 L320.35,447.81 L320.91,447.37 L321.47,447.09 L322.03,446.99 L322.59,447.09 L323.15,447.37 L323.72,447.81 L324.28,448.38 L324.84,449.02 L325.40,449.70 L325.96,450.35 L326.52,450.91 L327.08,451.35 L327.64,451.63 L328.20,451.73" fill="none" stroke="#bd5fb2" stroke-width="1.1" stroke-linecap="round" stroke-linejoin="round"/>
<path d="M291.20,457.21 L291.76,457.11 L292.32,456.83 L292.88,456.39 L293.44,455.82 L294.00,455.18 L294.56,454.50 L295.12,453.85 L295.68,453.29 L296.25,452.85 L296.81,452.57 L297.37,452.47 L297.93,452.57 L298.49,452.85 L299.05,453.29 L299.61,453.85 L300.17,454.50 L300.73,455.18 L301.29,455.82 L301.85,456.39 L302.41,456.83 L302.97,457.11 L303.53,457.21 L304.09,457.11 L304.65,456.83 L305.22,456.39 L305.78,455.82 L306.34,455.18 L306.90,454.50 L307.46,453.85 L308.02,453.29 L308.58,452.85 L309.14,452.57 L309.70,452.47 L310.26,452.57 L310.82,452.85 L311.38,453.29 L311.94,453.85 L312.50,454.50 L313.06,455.18 L313.62,455.82 L314.18,456.39 L314.75,456.83 L315.31,457.11 L315.87,457.21 L316.43,457.11 L316.99,456.83 L317.55,456.39 L318.11,455.82 L318.67,455.18 L319.23,454.50 L319.79,453.85 L320.35,453.29 L320.91,452.85 L321.47,452.57 L322.03,452.47 L322.59,452.57 L323.15,452.85 L323.72,453.29 L324.28,453.85 L324.84,454.50 L325.40,455.18 L325.96,455.82 L326.52,456.39 L327.08,456.83 L327.64,457.11 L328.20,457.21" fill="none" stroke="#bd5fb2" stroke-width="1.1" stroke-linecap="round" stroke-linejoin="round"/>
<path d="M317.20,474.60 L317.65,474.53 L318.10,474.30 L318.55,473.95 L319.00,473.49 L319.45,472.97 L319.90,472.43 L320.35,471.91 L320.80,471.46 L321.25,471.10 L321.70,470.88 L322.15,470.80 L322.60,470.88 L323.05,471.10 L323.50,471.46 L323.95,471.91 L324.40,472.43 L324.85,472.97 L325.30,473.49 L325.75,473.95 L326.20,474.30 L326.65,474.53 L327.10,474.60 L327.55,474.53 L328.00,474.30 L328.45,473.95 L328.90,473.49 L329.35,472.97 L329.80,472.43 L330.25,471.91 L330.70,471.46 L331.15,471.10 L331.60,470.88 L332.05,470.80 L332.50,470.88 L332.95,471.10 L333.40,471.46 L333.85,471.91 L334.30,472.43 L334.75,472.97 L335.20,473.49 L335.65,473.95 L336.10,474.30 L336.55,474.53 L337.00,474.60 L337.45,474.53 L337.90,474.30 L338.35,473.95 L338.80,473.49 L339.25,472.97 L339.70,472.43 L340.15,471.91 L340.60,471.46 L341.05,471.10 L341.50,470.88 L341.95,470.80 L342.40,470.88 L342.85,471.10 L343.30,471.46 L343.75,471.91 L344.20,472.43 L344.65,472.97 L345.10,473.49 L345.55,473.95 L346.00,474.30 L346.45,474.53 L346.90,474.60" fill="none" stroke="#bd5fb2" stroke-width="1.1" stroke-linecap="round" stroke-linejoin="round"/>
<path d="M317.20,479.00 L317.65,478.92 L318.10,478.70 L318.55,478.34 L319.00,477.89 L319.45,477.37 L319.90,476.83 L320.35,476.31 L320.80,475.85 L321.25,475.50 L321.70,475.27 L322.15,475.20 L322.60,475.27 L323.05,475.50 L323.50,475.85 L323.95,476.31 L324.40,476.83 L324.85,477.37 L325.30,477.89 L325.75,478.34 L326.20,478.70 L326.65,478.92 L327.10,479.00 L327.55,478.92 L328.00,478.70 L328.45,478.34 L328.90,477.89 L329.35,477.37 L329.80,476.83 L330.25,476.31 L330.70,475.85 L331.15,475.50 L331.60,475.27 L332.05,475.20 L332.50,475.27 L332.95,475.50 L333.40,475.85 L333.85,476.31 L334.30,476.83 L334.75,477.37 L335.20,477.89 L335.65,478.34 L336.10,478.70 L336.55,478.92 L337.00,479.00 L337.45,478.92 L337.90,478.70 L338.35,478.34 L338.80,477.89 L339.25,477.37 L339.70,476.83 L340.15,476.31 L340.60,475.85 L341.05,475.50 L341.50,475.27 L341.95,475.20 L342.40,475.27 L342.85,475.50 L343.30,475.85 L343.75,476.31 L344.20,476.83 L344.65,477.37 L345.10,477.89 L345.55,478.34 L346.00,478.70 L346.45,478.92 L346.90,479.00" fill="none" stroke="#bd5fb2" stroke-width="1.1" stroke-linecap="round" stroke-linejoin="round"/>
<path d="M304.00,501.40 L304.45,501.32 L304.91,501.10 L305.36,500.74 L305.82,500.28 L306.27,499.75 L306.73,499.21 L307.18,498.68 L307.64,498.22 L308.09,497.86 L308.55,497.64 L309.00,497.56 L309.45,497.64 L309.91,497.86 L310.36,498.22 L310.82,498.68 L311.27,499.21 L311.73,499.75 L312.18,500.28 L312.64,500.74 L313.09,501.10 L313.55,501.32 L314.00,501.40 L314.45,501.32 L314.91,501.10 L315.36,500.74 L315.82,500.28 L316.27,499.75 L316.73,499.21 L317.18,498.68 L317.64,498.22 L318.09,497.86 L318.55,497.64 L319.00,497.56 L319.45,497.64 L319.91,497.86 L320.36,498.22 L320.82,498.68 L321.27,499.21 L321.73,499.75 L322.18,500.28 L322.64,500.74 L323.09,501.10 L323.55,501.32 L324.00,501.40 L324.45,501.32 L324.91,501.10 L325.36,500.74 L325.82,500.28 L326.27,499.75 L326.73,499.21 L327.18,498.68 L327.64,498.22 L328.09,497.86 L328.55,497.64 L329.00,497.56 L329.45,497.64 L329.91,497.86 L330.36,498.22 L330.82,498.68 L331.27,499.21 L331.73,499.75 L332.18,500.28 L332.64,500.74 L333.09,501.10 L333.55,501.32 L334.00,501.40" fill="none" stroke="#bd5fb2" stroke-width="1.1" stroke-linecap="round" stroke-linejoin="round"/>
<path d="M304.00,505.84 L304.45,505.76 L304.91,505.54 L305.36,505.18 L305.82,504.72 L306.27,504.19 L306.73,503.65 L307.18,503.12 L307.64,502.66 L308.09,502.30 L308.55,502.08 L309.00,502.00 L309.45,502.08 L309.91,502.30 L310.36,502.66 L310.82,503.12 L311.27,503.65 L311.73,504.19 L312.18,504.72 L312.64,505.18 L313.09,505.54 L313.55,505.76 L314.00,505.84 L314.45,505.76 L314.91,505.54 L315.36,505.18 L315.82,504.72 L316.27,504.19 L316.73,503.65 L317.18,503.12 L317.64,502.66 L318.09,502.30 L318.55,502.08 L319.00,502.00 L319.45,502.08 L319.91,502.30 L320.36,502.66 L320.82,503.12 L321.27,503.65 L321.73,504.19 L322.18,504.72 L322.64,505.18 L323.09,505.54 L323.55,505.76 L324.00,505.84 L324.45,505.76 L324.91,505.54 L325.36,505.18 L325.82,504.72 L326.27,504.19 L326.73,503.65 L327.18,503.12 L327.64,502.66 L328.09,502.30 L328.55,502.08 L329.00,502.00 L329.45,502.08 L329.91,502.30 L330.36,502.66 L330.82,503.12 L331.27,503.65 L331.73,504.19 L332.18,504.72 L332.64,505.18 L333.09,505.54 L333.55,505.76 L334.00,505.84" fill="none" stroke="#bd5fb2" stroke-width="1.1" stroke-linecap="round" stroke-linejoin="round"/>
<text transform="translate(96.6,655.4) rotate(-90)" text-anchor="middle" font-size="14.5" textLength="74.4" lengthAdjust="spacingAndGlyphs">Multimodal</text>
<text transform="translate(114.0,655.9) rotate(-90)" text-anchor="middle" font-size="14.5" textLength="57.0" lengthAdjust="spacingAndGlyphs">Spatial 2</text>
<line x1="120.70" y1="708.20" x2="120.70" y2="603.95" stroke="#1a1a1a" stroke-width="1.3"/>
<path d="M120.70,598.70 L124.00,606.20 L120.70,604.33 L117.40,606.20 Z" fill="#1a1a1a"/>
<line x1="120.10" y1="708.20" x2="225.35" y2="708.20" stroke="#1a1a1a" stroke-width="1.3"/>
<path d="M230.60,708.20 L223.10,711.50 L224.97,708.20 L223.10,704.90 Z" fill="#1a1a1a"/>
<line x1="265.50" y1="708.20" x2="265.50" y2="603.55" stroke="#1a1a1a" stroke-width="1.3"/>
<path d="M265.50,598.30 L268.80,605.80 L265.50,603.92 L262.20,605.80 Z" fill="#1a1a1a"/>
<line x1="264.90" y1="708.20" x2="370.65" y2="708.20" stroke="#1a1a1a" stroke-width="1.3"/>
<path d="M375.90,708.20 L368.40,711.50 L370.27,708.20 L368.40,704.90 Z" fill="#1a1a1a"/>
<text x="172.3" y="723.2" text-anchor="middle" font-size="14.5" textLength="55.3" lengthAdjust="spacingAndGlyphs" >Spatial 1</text>
<text x="318.1" y="722.9" text-anchor="middle" font-size="14.5" textLength="55.4" lengthAdjust="spacingAndGlyphs" >Spatial 1</text>
<line x1="165.6" y1="618.5" x2="165.6" y2="606.5" stroke="#136a78" stroke-width="2.8"/>
<circle cx="162.0" cy="605.5" r="3.0" fill="#136a78"/>
<circle cx="169.2" cy="605.5" r="3.0" fill="#136a78"/>
<circle cx="162.5" cy="601.1" r="3.0" fill="#136a78"/>
<circle cx="168.7" cy="601.1" r="3.0" fill="#136a78"/>
<circle cx="165.6" cy="603.5" r="2.8" fill="#136a78"/>
<line x1="205.1" y1="639.5" x2="213.9" y2="636.6" stroke="#136a78" stroke-width="2.8"/>
<circle cx="213.7" cy="632.8" r="3.0" fill="#136a78"/>
<circle cx="216.0" cy="639.7" r="3.0" fill="#136a78"/>
<circle cx="218.0" cy="631.9" r="3.0" fill="#136a78"/>
<circle cx="220.0" cy="637.8" r="3.0" fill="#136a78"/>
<circle cx="216.7" cy="635.6" r="2.8" fill="#136a78"/>
<line x1="193.1" y1="686.5" x2="198.8" y2="694.1" stroke="#136a78" stroke-width="2.8"/>
<circle cx="202.3" cy="692.7" r="3.0" fill="#136a78"/>
<circle cx="196.5" cy="697.1" r="3.0" fill="#136a78"/>
<circle cx="204.5" cy="696.6" r="3.0" fill="#136a78"/>
<circle cx="199.6" cy="700.3" r="3.0" fill="#136a78"/>
<circle cx="200.6" cy="696.5" r="2.8" fill="#136a78"/>
<line x1="314.4" y1="618.0" x2="314.4" y2="606.0" stroke="#136a78" stroke-width="2.8"/>
<circle cx="310.8" cy="605.0" r="3.0" fill="#136a78"/>
<circle cx="318.0" cy="605.0" r="3.0" fill="#136a78"/>
<circle cx="311.3" cy="600.6" r="3.0" fill="#136a78"/>
<circle cx="317.5" cy="600.6" r="3.0" fill="#136a78"/>
<circle cx="314.4" cy="603.0" r="2.8" fill="#136a78"/>
<line x1="354.5" y1="640.0" x2="363.2" y2="636.0" stroke="#136a78" stroke-width="2.8"/>
<circle cx="362.6" cy="632.3" r="3.0" fill="#136a78"/>
<circle cx="365.6" cy="638.8" r="3.0" fill="#136a78"/>
<circle cx="366.8" cy="630.9" r="3.0" fill="#136a78"/>
<circle cx="369.4" cy="636.5" r="3.0" fill="#136a78"/>
<circle cx="365.9" cy="634.7" r="2.8" fill="#136a78"/>
<line x1="342.2" y1="686.0" x2="347.9" y2="693.6" stroke="#136a78" stroke-width="2.8"/>
<circle cx="351.4" cy="692.2" r="3.0" fill="#136a78"/>
<circle cx="345.6" cy="696.6" r="3.0" fill="#136a78"/>
<circle cx="353.6" cy="696.1" r="3.0" fill="#136a78"/>
<circle cx="348.7" cy="699.8" r="3.0" fill="#136a78"/>
<circle cx="349.7" cy="696.0" r="2.8" fill="#136a78"/>
<circle cx="167.3" cy="656.5" r="39.2" fill="#dbe1f3" stroke="#8ea6d6" stroke-width="2.9" stroke-dasharray="18.23,6.40" stroke-linecap="round" transform="rotate(0 167.3 656.5)"/>
<circle cx="157.1" cy="651" r="11.7" fill="#8fa4d5"/>
<ellipse transform="translate(151.2,646.4) rotate(-62)" rx="3.1" ry="1.75" fill="#e5603a"/><ellipse transform="translate(150.5,646.2) rotate(-62)" rx="2.0" ry="0.55" fill="#f5a57a"/>
<ellipse transform="translate(155.4,646.4) rotate(-62)" rx="3.1" ry="1.75" fill="#e5603a"/><ellipse transform="translate(154.7,646.2) rotate(-62)" rx="2.0" ry="0.55" fill="#f5a57a"/>
<ellipse transform="translate(159.6,646.4) rotate(-62)" rx="3.1" ry="1.75" fill="#e5603a"/><ellipse transform="translate(158.9,646.2) rotate(-62)" rx="2.0" ry="0.55" fill="#f5a57a"/>
<ellipse transform="translate(163.8,646.4) rotate(-62)" rx="3.1" ry="1.75" fill="#e5603a"/><ellipse transform="translate(163.1,646.2) rotate(-62)" rx="2.0" ry="0.55" fill="#f5a57a"/>
<ellipse transform="translate(151.2,654.6) rotate(-62)" rx="3.1" ry="1.75" fill="#e5603a"/><ellipse transform="translate(150.5,654.4) rotate(-62)" rx="2.0" ry="0.55" fill="#f5a57a"/>
<ellipse transform="translate(155.4,654.6) rotate(-62)" rx="3.1" ry="1.75" fill="#e5603a"/><ellipse transform="translate(154.7,654.4) rotate(-62)" rx="2.0" ry="0.55" fill="#f5a57a"/>
<ellipse transform="translate(159.6,654.6) rotate(-62)" rx="3.1" ry="1.75" fill="#e5603a"/><ellipse transform="translate(158.9,654.4) rotate(-62)" rx="2.0" ry="0.55" fill="#f5a57a"/>
<ellipse transform="translate(163.8,654.6) rotate(-62)" rx="3.1" ry="1.75" fill="#e5603a"/><ellipse transform="translate(163.1,654.4) rotate(-62)" rx="2.0" ry="0.55" fill="#f5a57a"/>
<path d="M153.40,627.50 L153.85,627.42 L154.31,627.20 L154.76,626.84 L155.21,626.38 L155.67,625.86 L156.12,625.32 L156.57,624.79 L157.02,624.33 L157.48,623.98 L157.93,623.75 L158.38,623.67 L158.84,623.75 L159.29,623.98 L159.74,624.33 L160.20,624.79 L160.65,625.32 L161.10,625.86 L161.55,626.38 L162.01,626.84 L162.46,627.20 L162.91,627.42 L163.37,627.50 L163.82,627.42 L164.27,627.20 L164.73,626.84 L165.18,626.38 L165.63,625.86 L166.08,625.32 L166.54,624.79 L166.99,624.33 L167.44,623.98 L167.90,623.75 L168.35,623.67 L168.80,623.75 L169.26,623.98 L169.71,624.33 L170.16,624.79 L170.62,625.32 L171.07,625.86 L171.52,626.38 L171.97,626.84 L172.43,627.20 L172.88,627.42 L173.33,627.50 L173.79,627.42 L174.24,627.20 L174.69,626.84 L175.15,626.38 L175.60,625.86 L176.05,625.32 L176.50,624.79 L176.96,624.33 L177.41,623.98 L177.86,623.75 L178.32,623.67 L178.77,623.75 L179.22,623.98 L179.68,624.33 L180.13,624.79 L180.58,625.32 L181.03,625.86 L181.49,626.38 L181.94,626.84 L182.39,627.20 L182.85,627.42 L183.30,627.50" fill="none" stroke="#bd5fb2" stroke-width="1.1" stroke-linecap="round" stroke-linejoin="round"/>
<path d="M153.40,631.93 L153.85,631.85 L154.31,631.62 L154.76,631.27 L155.21,630.81 L155.67,630.28 L156.12,629.74 L156.57,629.22 L157.02,628.76 L157.48,628.40 L157.93,628.18 L158.38,628.10 L158.84,628.18 L159.29,628.40 L159.74,628.76 L160.20,629.22 L160.65,629.74 L161.10,630.28 L161.55,630.81 L162.01,631.27 L162.46,631.62 L162.91,631.85 L163.37,631.93 L163.82,631.85 L164.27,631.62 L164.73,631.27 L165.18,630.81 L165.63,630.28 L166.08,629.74 L166.54,629.22 L166.99,628.76 L167.44,628.40 L167.90,628.18 L168.35,628.10 L168.80,628.18 L169.26,628.40 L169.71,628.76 L170.16,629.22 L170.62,629.74 L171.07,630.28 L171.52,630.81 L171.97,631.27 L172.43,631.62 L172.88,631.85 L173.33,631.93 L173.79,631.85 L174.24,631.62 L174.69,631.27 L175.15,630.81 L175.60,630.28 L176.05,629.74 L176.50,629.22 L176.96,628.76 L177.41,628.40 L177.86,628.18 L178.32,628.10 L178.77,628.18 L179.22,628.40 L179.68,628.76 L180.13,629.22 L180.58,629.74 L181.03,630.28 L181.49,630.81 L181.94,631.27 L182.39,631.62 L182.85,631.85 L183.30,631.93" fill="none" stroke="#bd5fb2" stroke-width="1.1" stroke-linecap="round" stroke-linejoin="round"/>
<path d="M171.60,646.21 L172.03,646.14 L172.47,645.92 L172.90,645.58 L173.33,645.14 L173.77,644.64 L174.20,644.12 L174.63,643.62 L175.07,643.18 L175.50,642.84 L175.93,642.63 L176.37,642.55 L176.80,642.63 L177.23,642.84 L177.67,643.18 L178.10,643.62 L178.53,644.12 L178.97,644.64 L179.40,645.14 L179.83,645.58 L180.27,645.92 L180.70,646.14 L181.13,646.21 L181.57,646.14 L182.00,645.92 L182.43,645.58 L182.87,645.14 L183.30,644.64 L183.73,644.12 L184.17,643.62 L184.60,643.18 L185.03,642.84 L185.47,642.63 L185.90,642.55 L186.33,642.63 L186.77,642.84 L187.20,643.18 L187.63,643.62 L188.07,644.12 L188.50,644.64 L188.93,645.14 L189.37,645.58 L189.80,645.92 L190.23,646.14 L190.67,646.21 L191.10,646.14 L191.53,645.92 L191.97,645.58 L192.40,645.14 L192.83,644.64 L193.27,644.12 L193.70,643.62 L194.13,643.18 L194.57,642.84 L195.00,642.63 L195.43,642.55 L195.87,642.63 L196.30,642.84 L196.73,643.18 L197.17,643.62 L197.60,644.12 L198.03,644.64 L198.47,645.14 L198.90,645.58 L199.33,645.92 L199.77,646.14 L200.20,646.21" fill="none" stroke="#bd5fb2" stroke-width="1.1" stroke-linecap="round" stroke-linejoin="round"/>
<path d="M171.60,650.45 L172.03,650.37 L172.47,650.16 L172.90,649.82 L173.33,649.38 L173.77,648.88 L174.20,648.36 L174.63,647.86 L175.07,647.42 L175.50,647.08 L175.93,646.86 L176.37,646.79 L176.80,646.86 L177.23,647.08 L177.67,647.42 L178.10,647.86 L178.53,648.36 L178.97,648.88 L179.40,649.38 L179.83,649.82 L180.27,650.16 L180.70,650.37 L181.13,650.45 L181.57,650.37 L182.00,650.16 L182.43,649.82 L182.87,649.38 L183.30,648.88 L183.73,648.36 L184.17,647.86 L184.60,647.42 L185.03,647.08 L185.47,646.86 L185.90,646.79 L186.33,646.86 L186.77,647.08 L187.20,647.42 L187.63,647.86 L188.07,648.36 L188.50,648.88 L188.93,649.38 L189.37,649.82 L189.80,650.16 L190.23,650.37 L190.67,650.45 L191.10,650.37 L191.53,650.16 L191.97,649.82 L192.40,649.38 L192.83,648.88 L193.27,648.36 L193.70,647.86 L194.13,647.42 L194.57,647.08 L195.00,646.86 L195.43,646.79 L195.87,646.86 L196.30,647.08 L196.73,647.42 L197.17,647.86 L197.60,648.36 L198.03,648.88 L198.47,649.38 L198.90,649.82 L199.33,650.16 L199.77,650.37 L200.20,650.45" fill="none" stroke="#bd5fb2" stroke-width="1.1" stroke-linecap="round" stroke-linejoin="round"/>
<path d="M170.80,663.91 L171.23,663.84 L171.67,663.62 L172.10,663.28 L172.54,662.84 L172.97,662.34 L173.41,661.81 L173.84,661.31 L174.28,660.87 L174.71,660.53 L175.15,660.31 L175.58,660.24 L176.02,660.31 L176.45,660.53 L176.89,660.87 L177.32,661.31 L177.76,661.81 L178.19,662.34 L178.63,662.84 L179.06,663.28 L179.50,663.62 L179.93,663.84 L180.37,663.91 L180.80,663.84 L181.24,663.62 L181.67,663.28 L182.11,662.84 L182.54,662.34 L182.98,661.81 L183.41,661.31 L183.85,660.87 L184.28,660.53 L184.72,660.31 L185.15,660.24 L185.58,660.31 L186.02,660.53 L186.45,660.87 L186.89,661.31 L187.32,661.81 L187.76,662.34 L188.19,662.84 L188.63,663.28 L189.06,663.62 L189.50,663.84 L189.93,663.91 L190.37,663.84 L190.80,663.62 L191.24,663.28 L191.67,662.84 L192.11,662.34 L192.54,661.81 L192.98,661.31 L193.41,660.87 L193.85,660.53 L194.28,660.31 L194.72,660.24 L195.15,660.31 L195.59,660.53 L196.02,660.87 L196.46,661.31 L196.89,661.81 L197.33,662.34 L197.76,662.84 L198.20,663.28 L198.63,663.62 L199.07,663.84 L199.50,663.91" fill="none" stroke="#bd5fb2" stroke-width="1.1" stroke-linecap="round" stroke-linejoin="round"/>
<path d="M170.80,668.16 L171.23,668.09 L171.67,667.87 L172.10,667.53 L172.54,667.09 L172.97,666.59 L173.41,666.06 L173.84,665.56 L174.28,665.12 L174.71,664.78 L175.15,664.56 L175.58,664.49 L176.02,664.56 L176.45,664.78 L176.89,665.12 L177.32,665.56 L177.76,666.06 L178.19,666.59 L178.63,667.09 L179.06,667.53 L179.50,667.87 L179.93,668.09 L180.37,668.16 L180.80,668.09 L181.24,667.87 L181.67,667.53 L182.11,667.09 L182.54,666.59 L182.98,666.06 L183.41,665.56 L183.85,665.12 L184.28,664.78 L184.72,664.56 L185.15,664.49 L185.58,664.56 L186.02,664.78 L186.45,665.12 L186.89,665.56 L187.32,666.06 L187.76,666.59 L188.19,667.09 L188.63,667.53 L189.06,667.87 L189.50,668.09 L189.93,668.16 L190.37,668.09 L190.80,667.87 L191.24,667.53 L191.67,667.09 L192.11,666.59 L192.54,666.06 L192.98,665.56 L193.41,665.12 L193.85,664.78 L194.28,664.56 L194.72,664.49 L195.15,664.56 L195.59,664.78 L196.02,665.12 L196.46,665.56 L196.89,666.06 L197.33,666.59 L197.76,667.09 L198.20,667.53 L198.63,667.87 L199.07,668.09 L199.50,668.16" fill="none" stroke="#bd5fb2" stroke-width="1.1" stroke-linecap="round" stroke-linejoin="round"/>
<path d="M145.10,678.21 L145.53,678.14 L145.97,677.92 L146.40,677.58 L146.84,677.14 L147.27,676.64 L147.71,676.11 L148.14,675.61 L148.58,675.17 L149.01,674.83 L149.45,674.61 L149.88,674.54 L150.32,674.61 L150.75,674.83 L151.19,675.17 L151.62,675.61 L152.06,676.11 L152.49,676.64 L152.93,677.14 L153.36,677.58 L153.80,677.92 L154.23,678.14 L154.67,678.21 L155.10,678.14 L155.54,677.92 L155.97,677.58 L156.41,677.14 L156.84,676.64 L157.28,676.11 L157.71,675.61 L158.15,675.17 L158.58,674.83 L159.02,674.61 L159.45,674.54 L159.88,674.61 L160.32,674.83 L160.75,675.17 L161.19,675.61 L161.62,676.11 L162.06,676.64 L162.49,677.14 L162.93,677.58 L163.36,677.92 L163.80,678.14 L164.23,678.21 L164.67,678.14 L165.10,677.92 L165.54,677.58 L165.97,677.14 L166.41,676.64 L166.84,676.11 L167.28,675.61 L167.71,675.17 L168.15,674.83 L168.58,674.61 L169.02,674.54 L169.45,674.61 L169.89,674.83 L170.32,675.17 L170.76,675.61 L171.19,676.11 L171.63,676.64 L172.06,677.14 L172.50,677.58 L172.93,677.92 L173.37,678.14 L173.80,678.21" fill="none" stroke="#bd5fb2" stroke-width="1.1" stroke-linecap="round" stroke-linejoin="round"/>
<path d="M145.10,682.46 L145.53,682.39 L145.97,682.17 L146.40,681.83 L146.84,681.39 L147.27,680.89 L147.71,680.36 L148.14,679.86 L148.58,679.42 L149.01,679.08 L149.45,678.86 L149.88,678.79 L150.32,678.86 L150.75,679.08 L151.19,679.42 L151.62,679.86 L152.06,680.36 L152.49,680.89 L152.93,681.39 L153.36,681.83 L153.80,682.17 L154.23,682.39 L154.67,682.46 L155.10,682.39 L155.54,682.17 L155.97,681.83 L156.41,681.39 L156.84,680.89 L157.28,680.36 L157.71,679.86 L158.15,679.42 L158.58,679.08 L159.02,678.86 L159.45,678.79 L159.88,678.86 L160.32,679.08 L160.75,679.42 L161.19,679.86 L161.62,680.36 L162.06,680.89 L162.49,681.39 L162.93,681.83 L163.36,682.17 L163.80,682.39 L164.23,682.46 L164.67,682.39 L165.10,682.17 L165.54,681.83 L165.97,681.39 L166.41,680.89 L166.84,680.36 L167.28,679.86 L167.71,679.42 L168.15,679.08 L168.58,678.86 L169.02,678.79 L169.45,678.86 L169.89,679.08 L170.32,679.42 L170.76,679.86 L171.19,680.36 L171.63,680.89 L172.06,681.39 L172.50,681.83 L172.93,682.17 L173.37,682.39 L173.80,682.46" fill="none" stroke="#bd5fb2" stroke-width="1.1" stroke-linecap="round" stroke-linejoin="round"/>
<line x1="226.35" y1="651.40" x2="254.55" y2="651.40" stroke="#1a1a1a" stroke-width="1.3"/>
<path d="M259.80,651.40 L252.30,654.70 L254.18,651.40 L252.30,648.10 Z" fill="#1a1a1a"/>
<path d="M221.10,651.40 L228.60,654.70 L226.72,651.40 L228.60,648.10 Z" fill="#1a1a1a"/>
<circle cx="316.9" cy="656.5" r="39.3" fill="#fdf5d2" stroke="#f8e08c" stroke-width="2.9" stroke-dasharray="18.27,6.42" stroke-linecap="round" transform="rotate(0 316.9 656.5)"/>
<circle cx="306.8" cy="650.2" r="11.8" fill="#fbe08a"/>
<ellipse transform="translate(300.6,645.9) rotate(-62)" rx="3.1" ry="1.75" fill="#a63aa3"/><ellipse transform="translate(299.9,645.7) rotate(-62)" rx="2.0" ry="0.55" fill="#cf85cc"/>
<ellipse transform="translate(304.8,645.9) rotate(-62)" rx="3.1" ry="1.75" fill="#a63aa3"/><ellipse transform="translate(304.1,645.7) rotate(-62)" rx="2.0" ry="0.55" fill="#cf85cc"/>
<ellipse transform="translate(309.0,645.9) rotate(-62)" rx="3.1" ry="1.75" fill="#a63aa3"/><ellipse transform="translate(308.3,645.7) rotate(-62)" rx="2.0" ry="0.55" fill="#cf85cc"/>
<ellipse transform="translate(313.2,645.9) rotate(-62)" rx="3.1" ry="1.75" fill="#a63aa3"/><ellipse transform="translate(312.5,645.7) rotate(-62)" rx="2.0" ry="0.55" fill="#cf85cc"/>
<ellipse transform="translate(300.6,654.1) rotate(-62)" rx="3.1" ry="1.75" fill="#a63aa3"/><ellipse transform="translate(299.9,653.9) rotate(-62)" rx="2.0" ry="0.55" fill="#cf85cc"/>
<ellipse transform="translate(304.8,654.1) rotate(-62)" rx="3.1" ry="1.75" fill="#a63aa3"/><ellipse transform="translate(304.1,653.9) rotate(-62)" rx="2.0" ry="0.55" fill="#cf85cc"/>
<ellipse transform="translate(309.0,654.1) rotate(-62)" rx="3.1" ry="1.75" fill="#a63aa3"/><ellipse transform="translate(308.3,653.9) rotate(-62)" rx="2.0" ry="0.55" fill="#cf85cc"/>
<ellipse transform="translate(313.2,654.1) rotate(-62)" rx="3.1" ry="1.75" fill="#a63aa3"/><ellipse transform="translate(312.5,653.9) rotate(-62)" rx="2.0" ry="0.55" fill="#cf85cc"/>
<path d="M294.50,630.54 L295.05,630.44 L295.60,630.17 L296.15,629.73 L296.71,629.17 L297.26,628.54 L297.81,627.87 L298.36,627.24 L298.91,626.68 L299.46,626.25 L300.02,625.97 L300.57,625.88 L301.12,625.97 L301.67,626.25 L302.22,626.68 L302.77,627.24 L303.32,627.87 L303.88,628.54 L304.43,629.17 L304.98,629.73 L305.53,630.17 L306.08,630.44 L306.63,630.54 L307.18,630.44 L307.74,630.17 L308.29,629.73 L308.84,629.17 L309.39,628.54 L309.94,627.87 L310.49,627.24 L311.05,626.68 L311.60,626.25 L312.15,625.97 L312.70,625.88 L313.25,625.97 L313.80,626.25 L314.35,626.68 L314.91,627.24 L315.46,627.87 L316.01,628.54 L316.56,629.17 L317.11,629.73 L317.66,630.17 L318.22,630.44 L318.77,630.54 L319.32,630.44 L319.87,630.17 L320.42,629.73 L320.97,629.17 L321.52,628.54 L322.08,627.87 L322.63,627.24 L323.18,626.68 L323.73,626.25 L324.28,625.97 L324.83,625.88 L325.38,625.97 L325.94,626.25 L326.49,626.68 L327.04,627.24 L327.59,627.87 L328.14,628.54 L328.69,629.17 L329.25,629.73 L329.80,630.17 L330.35,630.44 L330.90,630.54" fill="none" stroke="#bd5fb2" stroke-width="1.1" stroke-linecap="round" stroke-linejoin="round"/>
<path d="M294.50,635.92 L295.05,635.83 L295.60,635.55 L296.15,635.12 L296.71,634.56 L297.26,633.93 L297.81,633.26 L298.36,632.63 L298.91,632.07 L299.46,631.63 L300.02,631.36 L300.57,631.26 L301.12,631.36 L301.67,631.63 L302.22,632.07 L302.77,632.63 L303.32,633.26 L303.88,633.93 L304.43,634.56 L304.98,635.12 L305.53,635.55 L306.08,635.83 L306.63,635.92 L307.18,635.83 L307.74,635.55 L308.29,635.12 L308.84,634.56 L309.39,633.93 L309.94,633.26 L310.49,632.63 L311.05,632.07 L311.60,631.63 L312.15,631.36 L312.70,631.26 L313.25,631.36 L313.80,631.63 L314.35,632.07 L314.91,632.63 L315.46,633.26 L316.01,633.93 L316.56,634.56 L317.11,635.12 L317.66,635.55 L318.22,635.83 L318.77,635.92 L319.32,635.83 L319.87,635.55 L320.42,635.12 L320.97,634.56 L321.52,633.93 L322.08,633.26 L322.63,632.63 L323.18,632.07 L323.73,631.63 L324.28,631.36 L324.83,631.26 L325.38,631.36 L325.94,631.63 L326.49,632.07 L327.04,632.63 L327.59,633.26 L328.14,633.93 L328.69,634.56 L329.25,635.12 L329.80,635.55 L330.35,635.83 L330.90,635.92" fill="none" stroke="#bd5fb2" stroke-width="1.1" stroke-linecap="round" stroke-linejoin="round"/>
<path d="M319.30,653.89 L319.77,653.81 L320.25,653.57 L320.72,653.20 L321.19,652.72 L321.66,652.18 L322.14,651.61 L322.61,651.06 L323.08,650.58 L323.55,650.21 L324.03,649.98 L324.50,649.89 L324.97,649.98 L325.45,650.21 L325.92,650.58 L326.39,651.06 L326.86,651.61 L327.34,652.18 L327.81,652.72 L328.28,653.20 L328.75,653.57 L329.23,653.81 L329.70,653.89 L330.17,653.81 L330.65,653.57 L331.12,653.20 L331.59,652.72 L332.06,652.18 L332.54,651.61 L333.01,651.06 L333.48,650.58 L333.95,650.21 L334.43,649.98 L334.90,649.89 L335.37,649.98 L335.85,650.21 L336.32,650.58 L336.79,651.06 L337.26,651.61 L337.74,652.18 L338.21,652.72 L338.68,653.20 L339.15,653.57 L339.63,653.81 L340.10,653.89 L340.57,653.81 L341.05,653.57 L341.52,653.20 L341.99,652.72 L342.46,652.18 L342.94,651.61 L343.41,651.06 L343.88,650.58 L344.35,650.21 L344.83,649.98 L345.30,649.89 L345.77,649.98 L346.25,650.21 L346.72,650.58 L347.19,651.06 L347.66,651.61 L348.14,652.18 L348.61,652.72 L349.08,653.20 L349.55,653.57 L350.03,653.81 L350.50,653.89" fill="none" stroke="#bd5fb2" stroke-width="1.1" stroke-linecap="round" stroke-linejoin="round"/>
<path d="M319.30,658.51 L319.77,658.42 L320.25,658.19 L320.72,657.82 L321.19,657.34 L321.66,656.79 L322.14,656.22 L322.61,655.68 L323.08,655.20 L323.55,654.83 L324.03,654.59 L324.50,654.51 L324.97,654.59 L325.45,654.83 L325.92,655.20 L326.39,655.68 L326.86,656.22 L327.34,656.79 L327.81,657.34 L328.28,657.82 L328.75,658.19 L329.23,658.42 L329.70,658.51 L330.17,658.42 L330.65,658.19 L331.12,657.82 L331.59,657.34 L332.06,656.79 L332.54,656.22 L333.01,655.68 L333.48,655.20 L333.95,654.83 L334.43,654.59 L334.90,654.51 L335.37,654.59 L335.85,654.83 L336.32,655.20 L336.79,655.68 L337.26,656.22 L337.74,656.79 L338.21,657.34 L338.68,657.82 L339.15,658.19 L339.63,658.42 L340.10,658.51 L340.57,658.42 L341.05,658.19 L341.52,657.82 L341.99,657.34 L342.46,656.79 L342.94,656.22 L343.41,655.68 L343.88,655.20 L344.35,654.83 L344.83,654.59 L345.30,654.51 L345.77,654.59 L346.25,654.83 L346.72,655.20 L347.19,655.68 L347.66,656.22 L348.14,656.79 L348.61,657.34 L349.08,657.82 L349.55,658.19 L350.03,658.42 L350.50,658.51" fill="none" stroke="#bd5fb2" stroke-width="1.1" stroke-linecap="round" stroke-linejoin="round"/>
<path d="M307.30,680.10 L307.76,680.02 L308.22,679.79 L308.67,679.43 L309.13,678.97 L309.59,678.44 L310.05,677.89 L310.50,677.36 L310.96,676.90 L311.42,676.54 L311.88,676.31 L312.33,676.23 L312.79,676.31 L313.25,676.54 L313.71,676.90 L314.16,677.36 L314.62,677.89 L315.08,678.44 L315.54,678.97 L315.99,679.43 L316.45,679.79 L316.91,680.02 L317.37,680.10 L317.82,680.02 L318.28,679.79 L318.74,679.43 L319.20,678.97 L319.65,678.44 L320.11,677.89 L320.57,677.36 L321.03,676.90 L321.48,676.54 L321.94,676.31 L322.40,676.23 L322.86,676.31 L323.32,676.54 L323.77,676.90 L324.23,677.36 L324.69,677.89 L325.15,678.44 L325.60,678.97 L326.06,679.43 L326.52,679.79 L326.98,680.02 L327.43,680.10 L327.89,680.02 L328.35,679.79 L328.81,679.43 L329.26,678.97 L329.72,678.44 L330.18,677.89 L330.64,677.36 L331.09,676.90 L331.55,676.54 L332.01,676.31 L332.47,676.23 L332.92,676.31 L333.38,676.54 L333.84,676.90 L334.30,677.36 L334.75,677.89 L335.21,678.44 L335.67,678.97 L336.13,679.43 L336.58,679.79 L337.04,680.02 L337.50,680.10" fill="none" stroke="#bd5fb2" stroke-width="1.1" stroke-linecap="round" stroke-linejoin="round"/>
<path d="M307.30,684.57 L307.76,684.49 L308.22,684.26 L308.67,683.90 L309.13,683.44 L309.59,682.91 L310.05,682.36 L310.50,681.83 L310.96,681.37 L311.42,681.01 L311.88,680.78 L312.33,680.70 L312.79,680.78 L313.25,681.01 L313.71,681.37 L314.16,681.83 L314.62,682.36 L315.08,682.91 L315.54,683.44 L315.99,683.90 L316.45,684.26 L316.91,684.49 L317.37,684.57 L317.82,684.49 L318.28,684.26 L318.74,683.90 L319.20,683.44 L319.65,682.91 L320.11,682.36 L320.57,681.83 L321.03,681.37 L321.48,681.01 L321.94,680.78 L322.40,680.70 L322.86,680.78 L323.32,681.01 L323.77,681.37 L324.23,681.83 L324.69,682.36 L325.15,682.91 L325.60,683.44 L326.06,683.90 L326.52,684.26 L326.98,684.49 L327.43,684.57 L327.89,684.49 L328.35,684.26 L328.81,683.90 L329.26,683.44 L329.72,682.91 L330.18,682.36 L330.64,681.83 L331.09,681.37 L331.55,681.01 L332.01,680.78 L332.47,680.70 L332.92,680.78 L333.38,681.01 L333.84,681.37 L334.30,681.83 L334.75,682.36 L335.21,682.91 L335.67,683.44 L336.13,683.90 L336.58,684.26 L337.04,684.49 L337.50,684.57" fill="none" stroke="#bd5fb2" stroke-width="1.1" stroke-linecap="round" stroke-linejoin="round"/>
<text transform="translate(477.2,486.5) rotate(-90)" text-anchor="middle" font-size="14.5">Small</text>
<text transform="translate(493.8,488.4) rotate(-90)" text-anchor="middle" font-size="14.5">datasets</text>
<line x1="513.90" y1="520.20" x2="513.90" y2="451.80" stroke="#1a1a1a" stroke-width="1.25"/>
<path d="M513.90,446.90 L516.90,453.90 L513.90,452.15 L510.90,453.90 Z" fill="#1a1a1a"/>
<line x1="513.30" y1="520.20" x2="623.60" y2="520.20" stroke="#1a1a1a" stroke-width="1.25"/>
<path d="M628.50,520.20 L621.50,523.20 L623.25,520.20 L621.50,517.20 Z" fill="#1a1a1a"/>
<path d="M565.21,434.97 C566.89,433.24 569.18,433.13 571.32,433.44 C573.46,433.74 575.14,434.92 578.04,436.80 C580.94,438.68 585.58,442.04 588.74,444.74 C591.89,447.44 595.97,450.60 596.98,452.99 C598.00,455.39 597.49,457.37 594.85,459.10 C592.20,460.83 586.44,462.26 581.10,463.38 C575.75,464.50 567.35,465.82 562.77,465.82 C558.18,465.82 554.72,465.16 553.60,463.38 C552.48,461.60 554.77,458.39 556.04,455.13 C557.32,451.87 559.71,447.19 561.24,443.83 C562.77,440.47 563.53,436.70 565.21,434.97 Z" fill="#2f7fc5"/>
<path d="M535.27,463.38 C538.22,463.02 542.55,464.04 544.43,465.21 C546.32,466.39 546.72,468.17 546.57,470.41 C546.42,472.65 544.13,475.86 543.52,478.66 C542.91,481.46 542.24,484.51 542.91,487.21 C543.57,489.91 546.47,492.56 547.49,494.85 C548.51,497.14 549.53,499.33 549.02,500.96 C548.51,502.59 546.72,504.12 544.43,504.63 C542.14,505.14 538.07,505.14 535.27,504.02 C532.47,502.90 529.77,500.71 527.63,497.91 C525.49,495.10 523.30,490.78 522.44,487.21 C521.57,483.65 521.72,479.83 522.44,476.52 C523.15,473.21 524.57,469.54 526.71,467.35 C528.85,465.16 532.31,463.74 535.27,463.38 Z" fill="#92c57e"/>
<path d="M574.99,493.02 C577.53,493.02 579.82,493.93 582.62,494.85 C585.43,495.77 587.46,498.06 591.79,498.52 C596.12,498.97 606.81,496.84 608.59,497.60 C610.38,498.36 605.54,501.47 602.48,503.10 C599.43,504.73 594.85,506.26 590.26,507.38 C585.68,508.50 579.57,509.41 574.99,509.82 C570.40,510.23 565.57,510.43 562.77,509.82 C559.96,509.21 558.44,507.89 558.18,506.15 C557.93,504.42 559.71,501.32 561.24,499.43 C562.77,497.55 565.06,495.92 567.35,494.85 C569.64,493.78 572.44,493.02 574.99,493.02 Z" fill="#c0362c"/>
<text transform="translate(444.8,663.2) rotate(-90)" text-anchor="middle" font-size="14.5">Atlases</text>
<path d="M481.80,648.83 C484.96,648.47 488.37,650.25 490.05,651.88 C491.73,653.51 492.24,655.96 491.88,658.60 C491.53,661.25 488.42,664.71 487.91,667.77 C487.40,670.82 487.81,674.29 488.83,676.94 C489.85,679.58 493.16,681.62 494.02,683.66 C494.89,685.69 495.29,687.99 494.02,689.16 C492.75,690.33 489.44,691.30 486.38,690.68 C483.33,690.07 478.64,688.04 475.69,685.49 C472.74,682.94 470.04,679.13 468.66,675.41 C467.29,671.69 467.03,666.75 467.44,663.19 C467.85,659.62 468.71,656.41 471.11,654.02 C473.50,651.63 478.64,649.18 481.80,648.83 Z" fill="#92c57e"/>
<path d="M485.77,627.44 C487.04,627.19 490.35,629.22 492.49,631.11 C494.63,632.99 496.82,637.98 498.60,638.74 C500.39,639.51 501.76,637.98 503.19,635.69 C504.61,633.40 505.89,628.05 507.16,625.00 C508.43,621.94 509.81,617.61 510.82,617.36 C511.84,617.10 512.86,619.65 513.27,623.47 C513.68,627.29 513.68,635.69 513.27,640.27 C512.86,644.85 512.51,648.52 510.82,650.97 C509.14,653.41 505.99,654.94 503.19,654.94 C500.39,654.94 496.57,653.16 494.02,650.97 C491.47,648.78 489.44,644.85 487.91,641.80 C486.38,638.74 485.21,635.03 484.85,632.63 C484.50,630.24 484.50,627.69 485.77,627.44 Z" fill="#cbe0ca"/>
<path d="M524.57,626.52 C526.61,625.15 533.08,623.88 535.27,624.38 C537.46,624.89 537.20,627.44 537.71,629.58 C538.22,631.72 538.98,635.54 538.32,637.22 C537.66,638.90 535.78,639.56 533.74,639.66 C531.70,639.76 527.88,639.00 526.10,637.83 C524.32,636.66 523.30,634.52 523.05,632.63 C522.79,630.75 522.54,627.90 524.57,626.52 Z" fill="#e2ecde"/>
<path d="M520.60,650.97 C521.98,649.59 525.69,648.06 527.02,648.83 C528.34,649.59 528.44,653.41 528.55,655.55 C528.65,657.69 528.65,660.54 527.63,661.66 C526.61,662.78 523.91,663.03 522.44,662.27 C520.96,661.51 519.07,658.96 518.77,657.08 C518.46,655.19 519.23,652.34 520.60,650.97 Z" fill="#92c57e"/>
<path d="M493.10,692.21 C495.04,690.68 501.00,689.00 504.71,687.63 C508.43,686.25 513.01,683.45 515.41,683.96 C517.80,684.47 518.57,687.27 519.07,690.68 C519.58,694.10 518.72,700.10 518.46,704.43 C518.21,708.76 518.57,713.60 517.55,716.65 C516.53,719.71 514.08,722.26 512.35,722.77 C510.62,723.27 508.33,722.00 507.16,719.71 C505.99,717.42 506.75,712.07 505.33,709.02 C503.90,705.96 500.64,703.41 498.60,701.38 C496.57,699.34 494.02,698.32 493.10,696.79 C492.19,695.27 491.17,693.74 493.10,692.21 Z" fill="#cbe0ca"/>
<path d="M525.49,707.49 C528.55,705.55 535.67,703.26 538.32,703.52 C540.97,703.77 541.12,706.83 541.38,709.02 C541.63,711.21 541.38,714.62 539.85,716.65 C538.32,718.69 534.76,719.71 532.21,721.24 C529.67,722.77 526.76,725.31 524.57,725.82 C522.38,726.33 519.84,726.07 519.07,724.29 C518.31,722.51 518.92,717.93 519.99,715.13 C521.06,712.33 522.44,709.42 525.49,707.49 Z" fill="#f0f5ed"/>
<path d="M523.66,683.66 C525.49,681.98 532.42,680.86 534.66,681.52 C536.90,682.18 536.74,685.59 537.10,687.63 C537.46,689.67 537.86,692.47 536.79,693.74 C535.73,695.01 532.87,695.62 530.68,695.27 C528.49,694.91 524.83,693.54 523.66,691.60 C522.49,689.67 521.82,685.34 523.66,683.66 Z" fill="#fae2e0"/>
<path d="M562.77,619.50 C564.90,619.75 568.62,621.53 571.93,623.47 C575.24,625.40 579.31,628.41 582.62,631.11 C585.93,633.80 590.77,637.11 591.79,639.66 C592.81,642.21 591.54,644.75 588.74,646.38 C585.93,648.01 580.33,648.57 574.99,649.44 C569.64,650.30 561.14,651.68 556.65,651.58 C552.17,651.47 549.12,650.46 548.10,648.83 C547.08,647.20 549.12,645.01 550.54,641.80 C551.97,638.59 555.23,632.89 556.65,629.58 C558.08,626.27 558.08,623.62 559.10,621.94 C560.12,620.26 560.63,619.24 562.77,619.50 Z" fill="#dceeea"/>
<path d="M593.32,593.22 C597.14,592.81 603.50,593.22 608.59,594.44 C613.69,595.66 621.83,598.52 623.87,600.55 C625.91,602.59 623.87,604.73 620.82,606.66 C617.76,608.60 610.63,610.79 605.54,612.16 C600.45,613.54 594.44,614.91 590.26,614.91 C586.09,614.91 582.01,614.05 580.49,612.16 C578.96,610.28 580.23,606.15 581.10,603.61 C581.96,601.06 583.64,598.62 585.68,596.89 C587.72,595.16 589.50,593.63 593.32,593.22 Z" fill="#badbf3"/>
<path d="M636.09,608.19 C637.82,606.31 641.69,604.02 645.26,603.00 C648.82,601.98 653.15,601.21 657.48,602.08 C661.81,602.95 671.23,607.17 671.23,608.19 C671.23,609.21 661.55,607.68 657.48,608.19 C653.41,608.70 650.10,609.82 646.79,611.25 C643.48,612.67 639.61,616.24 637.62,616.75 C635.63,617.26 635.12,615.73 634.87,614.30 C634.62,612.88 634.36,610.08 636.09,608.19 Z" fill="#2c63b1"/>
<path d="M610.12,626.52 C612.16,626.68 614.96,628.56 617.76,629.58 C620.56,630.60 622.34,632.23 626.93,632.63 C631.51,633.04 643.22,631.26 645.26,632.02 C647.30,632.79 642.71,635.59 639.15,637.22 C635.58,638.85 628.96,640.68 623.87,641.80 C618.78,642.92 612.26,643.94 608.59,643.94 C604.93,643.94 602.99,643.43 601.87,641.80 C600.75,640.17 601.26,636.35 601.87,634.16 C602.48,631.97 604.16,629.93 605.54,628.66 C606.91,627.39 608.09,626.37 610.12,626.52 Z" fill="#badbf3"/>
<path d="M663.59,629.27 C667.92,629.32 674.79,630.60 678.87,632.02 C682.94,633.45 687.52,635.84 688.03,637.83 C688.54,639.81 685.49,642.26 681.92,643.94 C678.36,645.62 671.74,646.99 666.65,647.91 C661.55,648.83 655.14,649.79 651.37,649.44 C647.60,649.08 645.05,647.71 644.04,645.77 C643.02,643.84 643.78,640.17 645.26,637.83 C646.73,635.49 649.84,633.14 652.90,631.72 C655.95,630.29 659.26,629.22 663.59,629.27 Z" fill="#2f7fc5"/>
<path d="M611.04,660.44 C611.90,660.44 612.21,664.21 614.09,665.33 C615.98,666.45 621.22,665.99 622.34,667.16 C623.46,668.33 621.83,670.72 620.82,672.35 C619.80,673.98 617.86,676.07 616.23,676.94 C614.60,677.80 612.31,678.31 611.04,677.55 C609.77,676.78 608.95,674.39 608.59,672.35 C608.24,670.32 608.49,667.31 608.90,665.33 C609.31,663.34 610.17,660.44 611.04,660.44 Z" fill="#c497d0"/>
<path d="M628.45,664.10 C629.73,663.85 631.51,668.69 633.04,669.30 C634.56,669.91 636.09,667.11 637.62,667.77 C639.15,668.43 640.68,671.64 642.20,673.27 C643.73,674.90 646.79,676.32 646.79,677.55 C646.79,678.77 644.75,680.04 642.20,680.60 C639.66,681.16 634.46,681.26 631.51,680.91 C628.56,680.55 625.50,680.14 624.48,678.46 C623.46,676.78 624.74,673.22 625.40,670.82 C626.06,668.43 627.18,664.36 628.45,664.10 Z" fill="#9b5ca6"/>
<path d="M665.12,675.10 C667.66,675.20 670.97,676.63 674.28,677.55 C677.59,678.46 680.90,680.19 684.98,680.60 C689.05,681.01 697.71,679.07 698.73,679.99 C699.74,680.91 694.40,684.42 691.09,686.10 C687.78,687.78 683.45,688.95 678.87,690.07 C674.28,691.19 667.92,692.47 663.59,692.82 C659.26,693.18 655.39,692.92 652.90,692.21 C650.40,691.50 648.62,690.33 648.62,688.55 C648.62,686.76 651.17,683.45 652.90,681.52 C654.63,679.58 656.97,678.00 659.01,676.94 C661.04,675.87 662.57,675.00 665.12,675.10 Z" fill="#c0362c"/>
<path d="M570.40,675.71 C572.95,675.71 576.26,676.63 579.57,677.55 C582.88,678.46 585.93,680.70 590.26,681.21 C594.59,681.72 604.27,679.69 605.54,680.60 C606.81,681.52 601.21,685.03 597.90,686.71 C594.59,688.39 590.26,689.62 585.68,690.68 C581.10,691.75 574.73,692.87 570.40,693.13 C566.07,693.38 562.31,692.98 559.71,692.21 C557.11,691.45 554.92,690.33 554.82,688.55 C554.72,686.76 557.52,683.35 559.10,681.52 C560.68,679.69 562.41,678.51 564.29,677.55 C566.18,676.58 567.86,675.71 570.40,675.71 Z" fill="#f3b4b4"/>
<path d="M555.13,701.38 C556.65,701.38 557.32,704.94 559.71,705.96 C562.10,706.98 568.47,706.22 569.49,707.49 C570.51,708.76 567.70,711.82 565.82,713.60 C563.94,715.38 560.83,717.32 558.18,718.18 C555.53,719.05 551.61,719.56 549.93,718.79 C548.25,718.03 548.00,715.74 548.10,713.60 C548.20,711.46 549.37,708.00 550.54,705.96 C551.72,703.92 553.60,701.38 555.13,701.38 Z" fill="#f9d0d0"/>
<path d="M590.26,698.32 C594.08,697.97 603.76,696.95 605.54,697.71 C607.32,698.48 603.25,701.17 600.96,702.91 C598.66,704.64 594.34,705.81 591.79,708.10 C589.24,710.39 587.97,714.46 585.68,716.65 C583.39,718.84 580.49,720.88 578.04,721.24 C575.60,721.59 572.29,720.58 571.01,718.79 C569.74,717.01 569.74,713.09 570.40,710.54 C571.07,708.00 572.95,705.30 574.99,703.52 C577.02,701.73 580.08,700.72 582.62,699.85 C585.17,698.98 586.44,698.68 590.26,698.32 Z" fill="#e37b81"/>
<path d="M603.10,701.99 C604.27,701.53 607.32,702.29 607.98,703.21 C608.65,704.13 607.88,706.52 607.07,707.49 C606.25,708.46 604.11,709.27 603.10,709.02 C602.08,708.76 600.96,707.13 600.96,705.96 C600.96,704.79 601.92,702.45 603.10,701.99 Z" fill="#d05056"/>
<path d="M620.82,692.82 C623.87,692.57 626.67,694.25 629.98,695.27 C633.29,696.29 636.60,698.42 640.68,698.93 C644.75,699.44 653.15,697.51 654.42,698.32 C655.70,699.14 651.37,702.19 648.31,703.82 C645.26,705.45 640.68,708.00 636.09,708.10 C631.51,708.20 625.40,705.30 620.82,704.43 C616.23,703.57 610.12,704.18 608.59,702.91 C607.07,701.63 609.61,698.48 611.65,696.79 C613.69,695.11 617.76,693.08 620.82,692.82 Z" fill="#ca5659"/>
<path d="M669.70,695.27 C673.77,694.50 683.55,693.23 688.03,693.74 C692.51,694.25 695.06,695.78 696.59,698.32 C698.11,700.87 697.86,705.96 697.20,709.02 C696.54,712.07 695.67,715.02 692.62,716.65 C689.56,718.28 683.70,718.54 678.87,718.79 C674.03,719.05 667.15,719.05 663.59,718.18 C660.03,717.32 658.24,715.89 657.48,713.60 C656.72,711.31 657.99,706.98 659.01,704.43 C660.03,701.89 661.81,699.85 663.59,698.32 C665.37,696.79 665.63,696.03 669.70,695.27 Z" fill="#9b2121"/>
<line x1="458.00" y1="725.20" x2="458.00" y2="600.90" stroke="#1a1a1a" stroke-width="1.25"/>
<path d="M458.00,596.00 L461.00,603.00 L458.00,601.25 L455.00,603.00 Z" fill="#1a1a1a"/>
<line x1="457.40" y1="725.20" x2="700.90" y2="725.20" stroke="#1a1a1a" stroke-width="1.25"/>
<path d="M705.80,725.20 L698.80,728.20 L700.55,725.20 L698.80,722.20 Z" fill="#1a1a1a"/>
<polygon points="765.2,447.8 819.3,431.8 873.8,447.8 873.8,479.9 819.3,496 765.2,479.9" fill="#f6f4d7" stroke="#977c25" stroke-width="2.0" stroke-linejoin="round"/>
<text x="819.0" y="469.0" text-anchor="middle" font-size="14.5" textLength="31.8" lengthAdjust="spacingAndGlyphs" >WOT</text>
<ellipse cx="985.9" cy="467.3" rx="39.2" ry="20.6" fill="#e1f2db" stroke="#336f22" stroke-width="2.2"/>
<text x="986.7" y="472.8" text-anchor="middle" font-size="14.5" textLength="45.9" lengthAdjust="spacingAndGlyphs" >PASTE</text>
<polygon points="845.5,496 965.1,496 975.5,525 857.1,525" fill="#f2d9b6" stroke="#8f4d20" stroke-width="2.1" stroke-linejoin="round"/>
<text x="908.5" y="514.6" text-anchor="middle" font-size="14.5" textLength="77.8" lengthAdjust="spacingAndGlyphs" >NovoSpaRc</text>
<line x1="828.2" y1="617.5" x2="841.7" y2="645" stroke="#1a1a1a" stroke-width="3.1"/>
<line x1="970.5" y1="617.5" x2="956.6" y2="645.5" stroke="#1a1a1a" stroke-width="3.1"/>
<line x1="824.4" y1="684.9" x2="809.3" y2="705" stroke="#1a1a1a" stroke-width="3.1"/>
<line x1="897.4" y1="692" x2="897.4" y2="705" stroke="#1a1a1a" stroke-width="3.1"/>
<line x1="971.4" y1="682.4" x2="991.3" y2="705" stroke="#1a1a1a" stroke-width="3.1"/>
<rect x="778.4" y="597.2" width="92.9" height="20.2" rx="10.1" fill="#f3e1f6" stroke="#8c3f9c" stroke-width="2.1"/>
<text x="825.5" y="612.3" text-anchor="middle" font-size="14.5" textLength="61.7" lengthAdjust="spacingAndGlyphs" >Temporal</text>
<rect x="911" y="597.2" width="121.2" height="20.2" rx="10.1" fill="#f3e1f6" stroke="#8c3f9c" stroke-width="2.1"/>
<text x="971.1" y="612.3" text-anchor="middle" font-size="14.5" textLength="99.1" lengthAdjust="spacingAndGlyphs" >Spatiotemporal</text>
<rect x="819.7" y="644.6" width="155.5" height="47.3" rx="23.6" fill="#f3e1f6" stroke="#8c3f9c" stroke-width="2.1"/>
<text x="897.8" y="673.0" text-anchor="middle" font-size="14.5" textLength="48.8" lengthAdjust="spacingAndGlyphs" >Moscot</text>
<rect x="761.1" y="704.8" width="91.6" height="20.1" rx="10.1" fill="#f3e1f6" stroke="#8c3f9c" stroke-width="2.1"/>
<text x="807.5" y="719.6" text-anchor="middle" font-size="14.5" textLength="65.4" lengthAdjust="spacingAndGlyphs" >Alignment</text>
<rect x="873.8" y="704.8" width="47.2" height="20.1" rx="10.1" fill="#f3e1f6" stroke="#8c3f9c" stroke-width="2.1"/>
<circle cx="894.3" cy="714.8" r="0.85" fill="#111"/>
<circle cx="897.4" cy="714.8" r="0.85" fill="#111"/>
<circle cx="900.5" cy="714.8" r="0.85" fill="#111"/>
<rect x="951.6" y="704.8" width="92.2" height="20.1" rx="10.1" fill="#f3e1f6" stroke="#8c3f9c" stroke-width="2.1"/>
<text x="997.9" y="719.6" text-anchor="middle" font-size="14.5" textLength="57.0" lengthAdjust="spacingAndGlyphs" >Mapping</text>
</svg></body></html>
